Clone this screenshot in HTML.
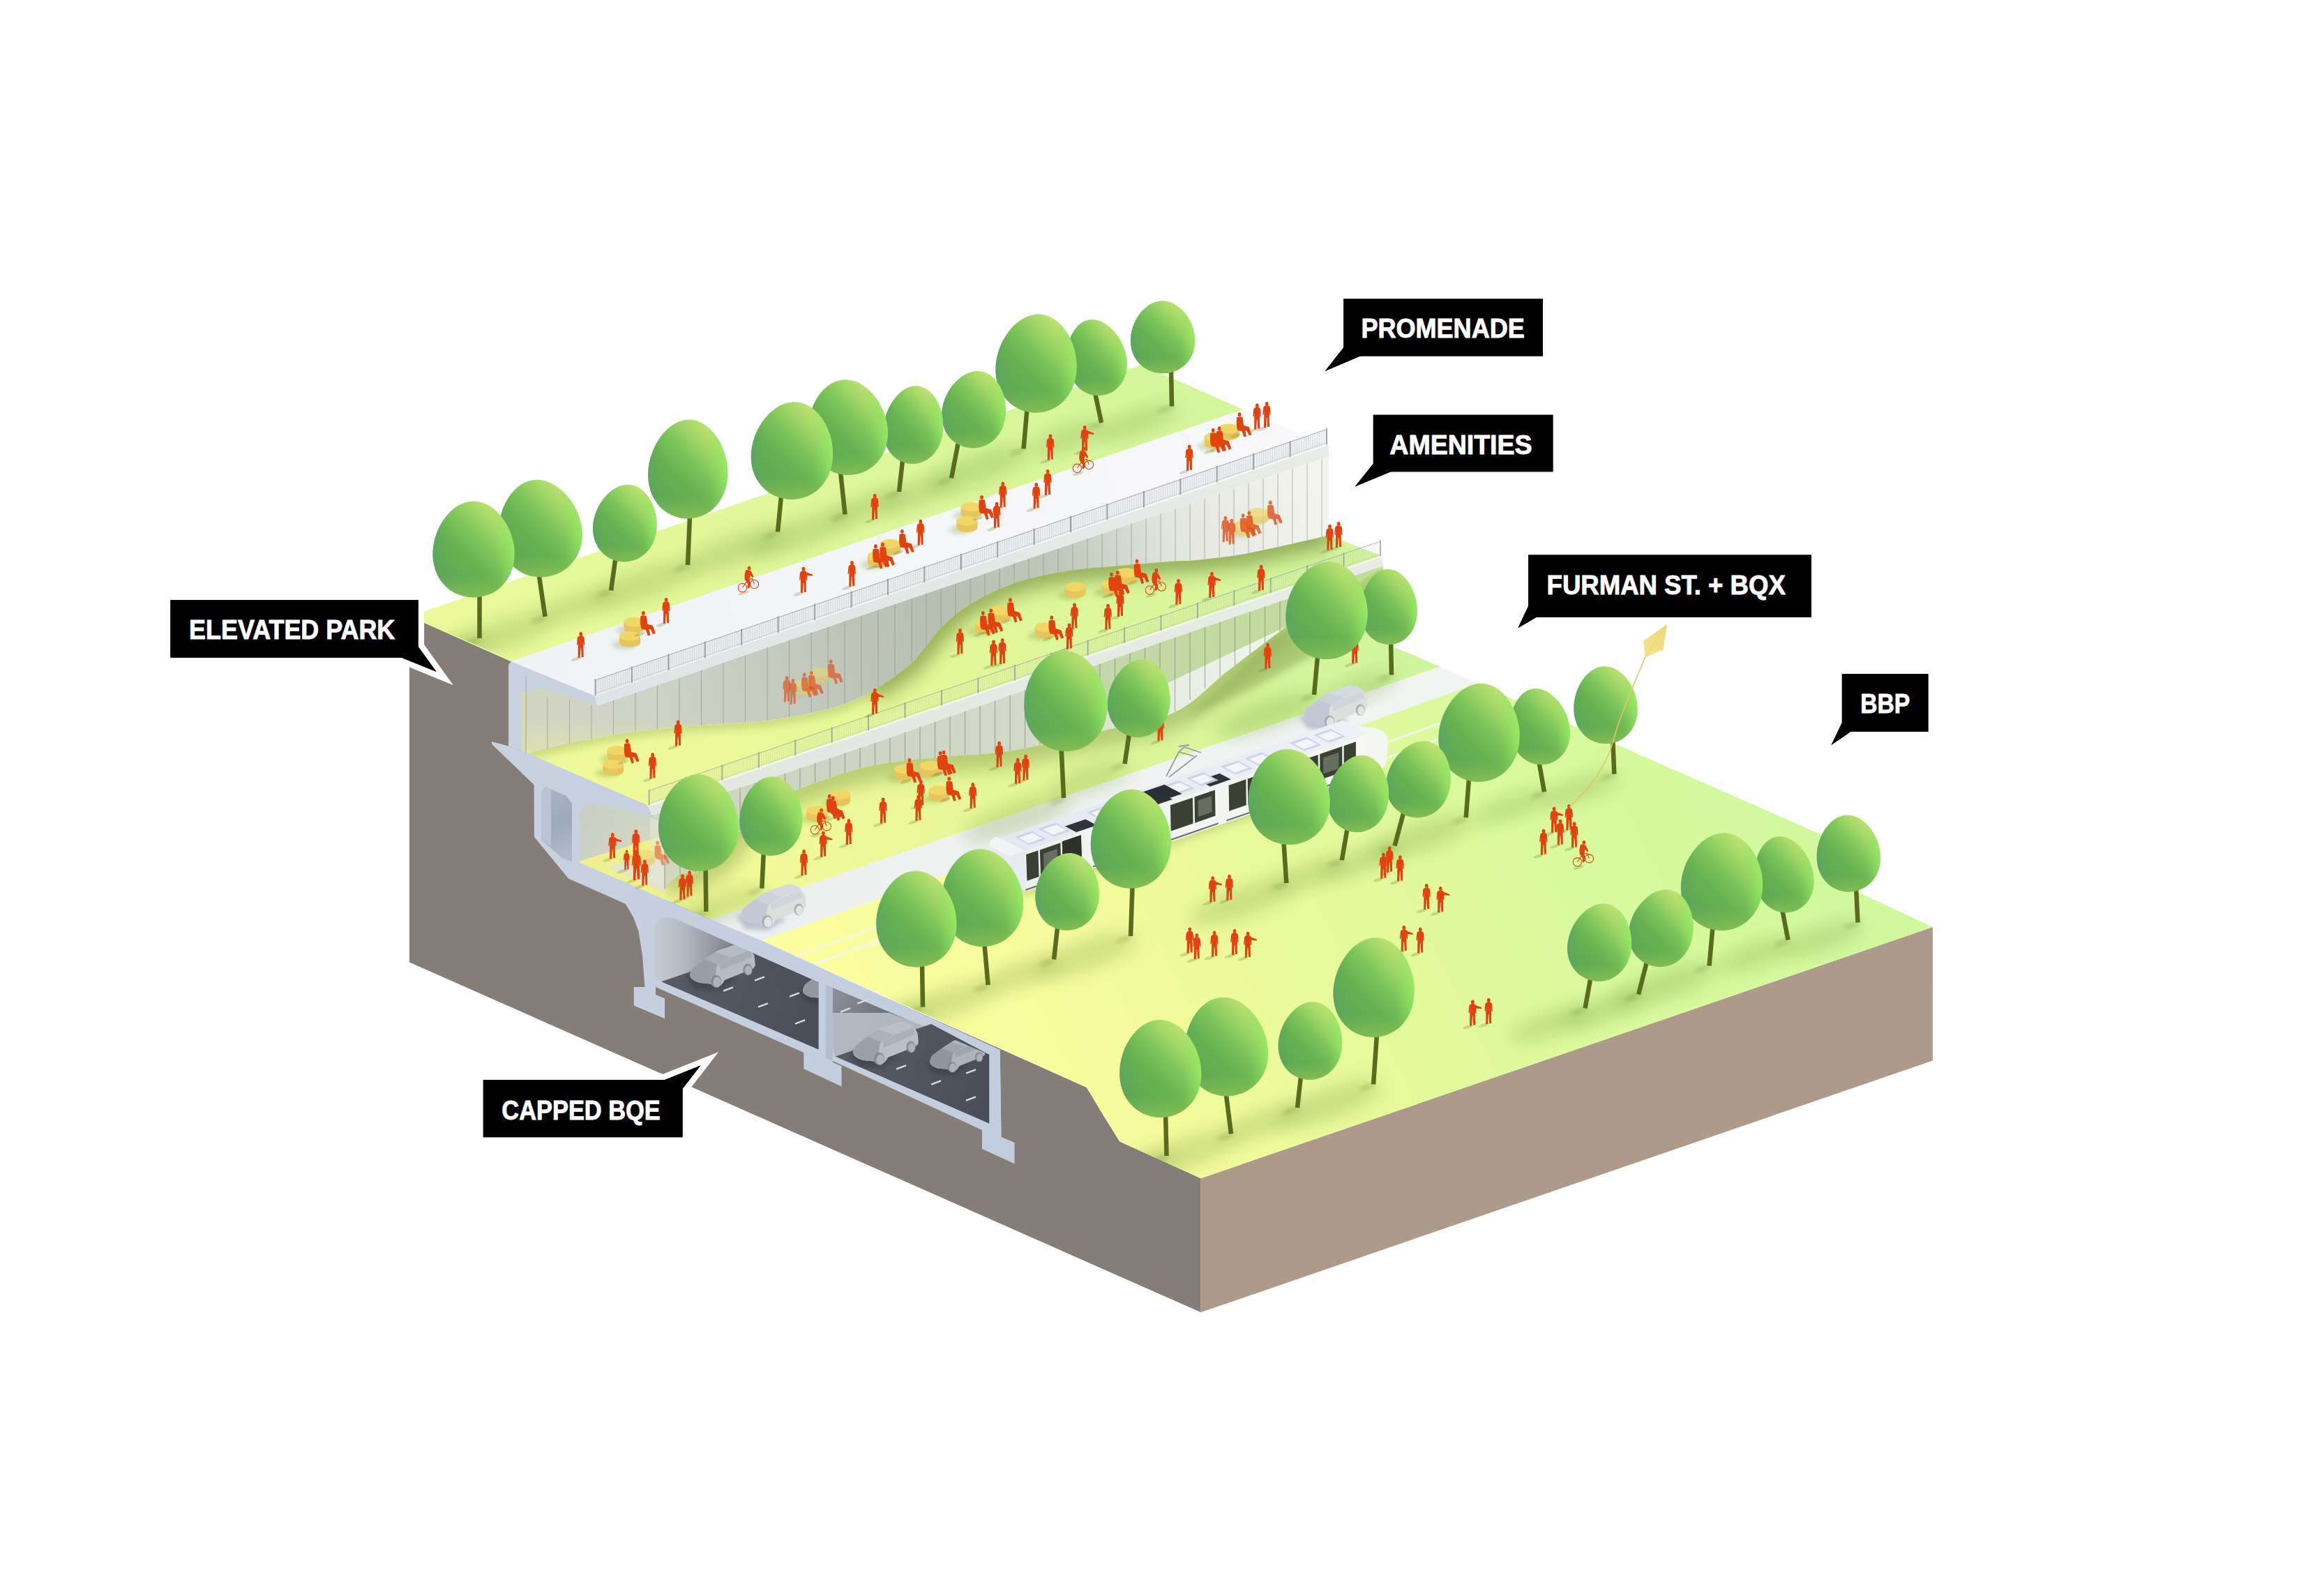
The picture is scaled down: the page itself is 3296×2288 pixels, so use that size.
<!DOCTYPE html><html><head><meta charset="utf-8"><title>Section</title><style>html,body{margin:0;padding:0;background:#fff;}svg{display:block;}text{font-family:"Liberation Sans",sans-serif;font-weight:bold;fill:#fff;}</style></head><body><svg width="3296" height="2288" viewBox="0 0 3296 2288"><defs><filter id="blur6" x="-50%" y="-50%" width="200%" height="200%"><feGaussianBlur stdDeviation="6"/></filter><filter id="blur3" x="-50%" y="-50%" width="200%" height="200%"><feGaussianBlur stdDeviation="3"/></filter><filter id="blur12" x="-50%" y="-50%" width="200%" height="200%"><feGaussianBlur stdDeviation="12"/></filter><linearGradient id="tree" x1="0.12" y1="0.88" x2="0.8" y2="0.08"><stop offset="0" stop-color="#5fa654"/><stop offset="0.38" stop-color="#67b152"/><stop offset="0.6" stop-color="#7cc35a"/><stop offset="0.82" stop-color="#a4d868"/><stop offset="1" stop-color="#c3e374"/></linearGradient><linearGradient id="treerim" x1="0" y1="0.55" x2="1" y2="0.45"><stop offset="0" stop-color="#5c9f72" stop-opacity="0.55"/><stop offset="0.22" stop-color="#5fae50" stop-opacity="0"/><stop offset="0.76" stop-color="#7fe05a" stop-opacity="0"/><stop offset="1" stop-color="#96ec64" stop-opacity="0.8"/></linearGradient><linearGradient id="treebot" x1="0" y1="0" x2="0" y2="1"><stop offset="0.78" stop-color="#9ccc52" stop-opacity="0"/><stop offset="1" stop-color="#a2d056" stop-opacity="0.5"/></linearGradient><linearGradient id="gTop" x1="600.0" y1="900.0" x2="1750.0" y2="560.0" gradientUnits="userSpaceOnUse"><stop offset="0" stop-color="#ecf99a"/><stop offset="0.45" stop-color="#e0f79b"/><stop offset="1" stop-color="#d3f59c"/></linearGradient><linearGradient id="gDeck" x1="733.0" y1="980.0" x2="1900.0" y2="600.0" gradientUnits="userSpaceOnUse"><stop offset="0" stop-color="#f1f2f6"/><stop offset="0.5" stop-color="#f5f6f8"/><stop offset="1" stop-color="#f9f9fa"/></linearGradient><linearGradient id="gGlass1" x1="760.0" y1="1000.0" x2="1905.0" y2="700.0" gradientUnits="userSpaceOnUse"><stop offset="0" stop-color="#d2d5c2"/><stop offset="0.12" stop-color="#cfd3c8"/><stop offset="0.3" stop-color="#c5cabe"/><stop offset="0.5" stop-color="#b6bfb1"/><stop offset="0.66" stop-color="#bec7b9"/><stop offset="0.8" stop-color="#e3e6de"/><stop offset="1" stop-color="#f5f5f0"/></linearGradient><linearGradient id="gTint" x1="0.0" y1="1030.0" x2="0.0" y2="1085.0" gradientUnits="userSpaceOnUse"><stop offset="0" stop-color="#e9ee9c" stop-opacity="0"/><stop offset="1" stop-color="#e9ee9c" stop-opacity="0.55"/></linearGradient><clipPath id="cG1"><path d="M756.8,1080.8 C766.0,1078.5 790.4,1071.8 812.3,1067.0 C834.2,1062.2 862.8,1055.8 888.0,1051.8 C913.2,1047.8 938.5,1045.3 963.7,1043.0 C988.9,1040.7 1016.6,1039.7 1039.3,1038.0 C1062.0,1036.3 1083.2,1034.9 1100.0,1033.0 C1116.8,1031.1 1123.2,1030.0 1140.0,1026.6 C1156.8,1023.2 1182.4,1018.9 1201.0,1012.8 C1219.6,1006.7 1234.6,999.7 1251.4,990.0 C1268.2,980.3 1289.2,965.3 1301.8,954.8 C1314.4,944.3 1318.6,936.7 1327.0,927.0 C1335.4,917.3 1341.8,906.9 1352.3,896.8 C1362.8,886.7 1373.2,876.6 1390.0,866.5 C1406.8,856.4 1429.8,844.2 1453.0,836.2 C1476.2,828.2 1503.7,822.8 1529.0,818.6 C1554.3,814.4 1579.4,813.3 1604.6,811.0 C1629.8,808.7 1661.5,806.0 1680.0,804.7 C1698.5,803.4 1697.1,805.0 1715.7,803.0 C1734.3,801.0 1759.9,798.7 1791.4,792.8 C1823.0,786.9 1886.1,771.8 1905.0,767.6 L1905.4,654 L856.4,1011.5 L812,995 L782,987 L765,987.5 L748,992 L748,1077 Z"/></clipPath><linearGradient id="gT2" x1="760.0" y1="1150.0" x2="1980.0" y2="780.0" gradientUnits="userSpaceOnUse"><stop offset="0" stop-color="#f0f99a"/><stop offset="0.4" stop-color="#e6f898"/><stop offset="0.7" stop-color="#dbf69b"/><stop offset="1" stop-color="#d2f59c"/></linearGradient><clipPath id="cT2"><path d="M756.8,1080.8 C766.0,1078.5 790.4,1071.8 812.3,1067.0 C834.2,1062.2 862.8,1055.8 888.0,1051.8 C913.2,1047.8 938.5,1045.3 963.7,1043.0 C988.9,1040.7 1016.6,1039.7 1039.3,1038.0 C1062.0,1036.3 1083.2,1034.9 1100.0,1033.0 C1116.8,1031.1 1123.2,1030.0 1140.0,1026.6 C1156.8,1023.2 1182.4,1018.9 1201.0,1012.8 C1219.6,1006.7 1234.6,999.7 1251.4,990.0 C1268.2,980.3 1289.2,965.3 1301.8,954.8 C1314.4,944.3 1318.6,936.7 1327.0,927.0 C1335.4,917.3 1341.8,906.9 1352.3,896.8 C1362.8,886.7 1373.2,876.6 1390.0,866.5 C1406.8,856.4 1429.8,844.2 1453.0,836.2 C1476.2,828.2 1503.7,822.8 1529.0,818.6 C1554.3,814.4 1579.4,813.3 1604.6,811.0 C1629.8,808.7 1661.5,806.0 1680.0,804.7 C1698.5,803.4 1697.1,805.0 1715.7,803.0 C1734.3,801.0 1759.9,798.7 1791.4,792.8 C1823.0,786.9 1886.1,771.8 1905.0,767.6 L1981,797 L928.3,1155 Z"/></clipPath><linearGradient id="gSlab" x1="850.0" y1="1000.0" x2="1905.0" y2="640.0" gradientUnits="userSpaceOnUse"><stop offset="0" stop-color="#dfe5e6"/><stop offset="1" stop-color="#e8ece6"/></linearGradient><linearGradient id="gGlass2" x1="930.0" y1="1200.0" x2="1850.0" y2="850.0" gradientUnits="userSpaceOnUse"><stop offset="0" stop-color="#d3d7c0" stop-opacity="1"/><stop offset="0.3" stop-color="#cbd1c0" stop-opacity="0.95"/><stop offset="0.6" stop-color="#ccd4c1" stop-opacity="0.85"/><stop offset="0.75" stop-color="#cdd6c2" stop-opacity="0.5"/><stop offset="1" stop-color="#d6dfca" stop-opacity="0.3"/></linearGradient><linearGradient id="gT3" x1="960.0" y1="1300.0" x2="2060.0" y2="930.0" gradientUnits="userSpaceOnUse"><stop offset="0" stop-color="#f6fb9a"/><stop offset="0.3" stop-color="#ebf899"/><stop offset="0.55" stop-color="#e0f69a"/><stop offset="0.8" stop-color="#d6f59c"/><stop offset="1" stop-color="#cef49e"/></linearGradient><clipPath id="cT3"><path d="M953.0,1274.0 C955.0,1272.0 960.8,1265.5 965.0,1262.0 C969.2,1258.5 972.2,1255.0 978.0,1253.0 C983.8,1251.0 991.3,1253.5 1000.0,1250.0 C1008.7,1246.5 1020.3,1241.2 1030.0,1232.0 C1039.7,1222.8 1048.8,1207.0 1058.0,1195.0 C1067.2,1183.0 1074.7,1169.0 1085.0,1160.0 C1095.3,1151.0 1109.7,1145.9 1120.0,1141.0 C1130.3,1136.1 1138.0,1133.9 1146.6,1130.5 C1155.2,1127.1 1163.2,1123.7 1171.7,1120.7 C1180.2,1117.7 1188.4,1115.3 1197.4,1112.4 C1206.5,1109.5 1216.4,1106.0 1226.0,1103.3 C1235.6,1100.6 1242.9,1098.6 1255.2,1096.4 C1267.5,1094.2 1280.9,1092.2 1300.0,1090.0 C1319.1,1087.8 1345.3,1085.7 1370.0,1083.5 C1394.7,1081.3 1416.3,1081.8 1448.0,1076.6 C1479.7,1071.3 1521.0,1061.1 1560.0,1052.0 C1599.0,1042.9 1648.7,1037.0 1682.0,1022.0 C1715.3,1007.0 1733.1,982.6 1760.0,962.0 C1786.9,941.4 1829.7,909.2 1843.6,898.6 L1983,811 L1990,905 L1999.5,928 L2065,955.7 L1018,1317.8 L953,1289.5 Z"/></clipPath><linearGradient id="gSlab2" x1="930.0" y1="1160.0" x2="1983.0" y2="800.0" gradientUnits="userSpaceOnUse"><stop offset="0" stop-color="#e2e7e2"/><stop offset="1" stop-color="#e8ece4"/></linearGradient><linearGradient id="gStreet" x1="1020.0" y1="1330.0" x2="2100.0" y2="960.0" gradientUnits="userSpaceOnUse"><stop offset="0" stop-color="#ecefef"/><stop offset="1" stop-color="#f3f5f3"/></linearGradient><linearGradient id="gPark" x1="1300.0" y1="1650.0" x2="2500.0" y2="1050.0" gradientUnits="userSpaceOnUse"><stop offset="0" stop-color="#fbfd9f"/><stop offset="0.25" stop-color="#f5fb9c"/><stop offset="0.45" stop-color="#e9f99b"/><stop offset="0.7" stop-color="#dcf99d"/><stop offset="1" stop-color="#d2f89e"/></linearGradient><clipPath id="ground"><polygon points="1092.3,1348.5 2118.0,979.7 2610.0,1196.0 2658.0,1217.0 2664.0,1279.0 2770.8,1328.9 1721.6,1689.2 1605.3,1636.6 1581.6,1598.4 1557.9,1558.9"/><polygon points="587.0,883.5 1637.0,523.0 1904.0,638.0 852.6,997.6"/><polygon points="1018.0,1317.8 2065.0,955.7 2118.0,979.7 1092.3,1348.5"/><path d="M756.8,1080.8 C766.0,1078.5 790.4,1071.8 812.3,1067.0 C834.2,1062.2 862.8,1055.8 888.0,1051.8 C913.2,1047.8 938.5,1045.3 963.7,1043.0 C988.9,1040.7 1016.6,1039.7 1039.3,1038.0 C1062.0,1036.3 1083.2,1034.9 1100.0,1033.0 C1116.8,1031.1 1123.2,1030.0 1140.0,1026.6 C1156.8,1023.2 1182.4,1018.9 1201.0,1012.8 C1219.6,1006.7 1234.6,999.7 1251.4,990.0 C1268.2,980.3 1289.2,965.3 1301.8,954.8 C1314.4,944.3 1318.6,936.7 1327.0,927.0 C1335.4,917.3 1341.8,906.9 1352.3,896.8 C1362.8,886.7 1373.2,876.6 1390.0,866.5 C1406.8,856.4 1429.8,844.2 1453.0,836.2 C1476.2,828.2 1503.7,822.8 1529.0,818.6 C1554.3,814.4 1579.4,813.3 1604.6,811.0 C1629.8,808.7 1661.5,806.0 1680.0,804.7 C1698.5,803.4 1697.1,805.0 1715.7,803.0 C1734.3,801.0 1759.9,798.7 1791.4,792.8 C1823.0,786.9 1886.1,771.8 1905.0,767.6 L1981,797 L928.3,1155 Z"/><path d="M953.0,1274.0 C955.0,1272.0 960.8,1265.5 965.0,1262.0 C969.2,1258.5 972.2,1255.0 978.0,1253.0 C983.8,1251.0 991.3,1253.5 1000.0,1250.0 C1008.7,1246.5 1020.3,1241.2 1030.0,1232.0 C1039.7,1222.8 1048.8,1207.0 1058.0,1195.0 C1067.2,1183.0 1074.7,1169.0 1085.0,1160.0 C1095.3,1151.0 1109.7,1145.9 1120.0,1141.0 C1130.3,1136.1 1138.0,1133.9 1146.6,1130.5 C1155.2,1127.1 1163.2,1123.7 1171.7,1120.7 C1180.2,1117.7 1188.4,1115.3 1197.4,1112.4 C1206.5,1109.5 1216.4,1106.0 1226.0,1103.3 C1235.6,1100.6 1242.9,1098.6 1255.2,1096.4 C1267.5,1094.2 1280.9,1092.2 1300.0,1090.0 C1319.1,1087.8 1345.3,1085.7 1370.0,1083.5 C1394.7,1081.3 1416.3,1081.8 1448.0,1076.6 C1479.7,1071.3 1521.0,1061.1 1560.0,1052.0 C1599.0,1042.9 1648.7,1037.0 1682.0,1022.0 C1715.3,1007.0 1733.1,982.6 1760.0,962.0 C1786.9,941.4 1829.7,909.2 1843.6,898.6 L1983,811 L1990,905 L1999.5,928 L2065,955.7 L1018,1317.8 L953,1289.5 Z"/></clipPath><linearGradient id="gConc" x1="700.0" y1="950.0" x2="1450.0" y2="1650.0" gradientUnits="userSpaceOnUse"><stop offset="0" stop-color="#c9d2e1"/><stop offset="0.5" stop-color="#c5cfdf"/><stop offset="1" stop-color="#c2cddd"/></linearGradient><linearGradient id="gCell" x1="775.0" y1="1130.0" x2="820.0" y2="1235.0" gradientUnits="userSpaceOnUse"><stop offset="0" stop-color="#aab4c6"/><stop offset="0.5" stop-color="#9ea9bc"/><stop offset="1" stop-color="#b4bece"/></linearGradient><linearGradient id="gRoom" x1="831.0" y1="1150.0" x2="952.0" y2="1230.0" gradientUnits="userSpaceOnUse"><stop offset="0" stop-color="#c9cec6"/><stop offset="0.6" stop-color="#d0d4c4"/><stop offset="1" stop-color="#d9dbbd"/></linearGradient><linearGradient id="gTun1" x1="938.0" y1="1360.0" x2="1100.0" y2="1360.0" gradientUnits="userSpaceOnUse"><stop offset="0" stop-color="#c6ccd5"/><stop offset="0.25" stop-color="#b4bac4"/><stop offset="0.6" stop-color="#8a8f99"/><stop offset="1" stop-color="#5a5e68"/></linearGradient><clipPath id="cTun1"><path d="M937.8,1400 L937.8,1336 Q938,1318 952,1315.5 Q962,1314 975.7,1320.3 L1173.7,1408.6 L1173.7,1504.4 L948,1407.3 Z"/></clipPath><linearGradient id="gRoad1" x1="950.0" y1="1400.0" x2="1170.0" y2="1480.0" gradientUnits="userSpaceOnUse"><stop offset="0" stop-color="#585c66"/><stop offset="1" stop-color="#4a4e58"/></linearGradient><linearGradient id="gTun2" x1="1190.0" y1="1410.0" x2="1420.0" y2="1520.0" gradientUnits="userSpaceOnUse"><stop offset="0" stop-color="#8d929b"/><stop offset="0.4" stop-color="#6a6e78"/><stop offset="1" stop-color="#50545e"/></linearGradient><clipPath id="cTun2"><polygon points="1193.9,1416.0 1418.4,1512.0 1418.4,1610.4 1197.7,1514.5 1193.9,1500.0"/></clipPath><linearGradient id="gRoad2" x1="1200.0" y1="1510.0" x2="1420.0" y2="1600.0" gradientUnits="userSpaceOnUse"><stop offset="0" stop-color="#585c66"/><stop offset="1" stop-color="#494d57"/></linearGradient><pattern id="bal" width="3.2" height="10" patternUnits="userSpaceOnUse"><rect x="0" y="0" width="0.8" height="10" fill="#82878e"/></pattern><linearGradient id="gTramSide" x1="1470.0" y1="1250.0" x2="1960.0" y2="1080.0" gradientUnits="userSpaceOnUse"><stop offset="0" stop-color="#eef0ee"/><stop offset="1" stop-color="#f7f8f4"/></linearGradient><linearGradient id="gTramRoof" x1="1440.0" y1="1200.0" x2="1960.0" y2="1040.0" gradientUnits="userSpaceOnUse"><stop offset="0" stop-color="#e4e8f2"/><stop offset="1" stop-color="#eef1f6"/></linearGradient><linearGradient id="gKite" x1="2356.0" y1="940.0" x2="2390.0" y2="896.0" gradientUnits="userSpaceOnUse"><stop offset="0" stop-color="#f5e38f"/><stop offset="1" stop-color="#efd774"/></linearGradient></defs><polygon points="1721.6,1689.2 2770.8,1328.9 2770.8,1520.5 1721.6,1881.3" fill="#ad9a8b" />
<polygon points="587.0,883.5 733.0,948.3 928.0,1155.0 1018.0,1317.8 1557.9,1558.9 1581.6,1598.4 1605.3,1636.6 1721.6,1689.2 1721.6,1881.3 587.0,1379.5" fill="#857d78" />
<polygon points="587.0,883.5 1637.0,523.0 1782.0,587.0 733.0,948.3" fill="url(#gTop)" />
<polygon points="733.0,948.3 1782.0,587.0 1904.0,638.0 852.6,997.6" fill="url(#gDeck)" />
<path d="M756.8,1080.8 C766.0,1078.5 790.4,1071.8 812.3,1067.0 C834.2,1062.2 862.8,1055.8 888.0,1051.8 C913.2,1047.8 938.5,1045.3 963.7,1043.0 C988.9,1040.7 1016.6,1039.7 1039.3,1038.0 C1062.0,1036.3 1083.2,1034.9 1100.0,1033.0 C1116.8,1031.1 1123.2,1030.0 1140.0,1026.6 C1156.8,1023.2 1182.4,1018.9 1201.0,1012.8 C1219.6,1006.7 1234.6,999.7 1251.4,990.0 C1268.2,980.3 1289.2,965.3 1301.8,954.8 C1314.4,944.3 1318.6,936.7 1327.0,927.0 C1335.4,917.3 1341.8,906.9 1352.3,896.8 C1362.8,886.7 1373.2,876.6 1390.0,866.5 C1406.8,856.4 1429.8,844.2 1453.0,836.2 C1476.2,828.2 1503.7,822.8 1529.0,818.6 C1554.3,814.4 1579.4,813.3 1604.6,811.0 C1629.8,808.7 1661.5,806.0 1680.0,804.7 C1698.5,803.4 1697.1,805.0 1715.7,803.0 C1734.3,801.0 1759.9,798.7 1791.4,792.8 C1823.0,786.9 1886.1,771.8 1905.0,767.6 L1905.4,654 L856.4,1011.5 L812,995 L782,987 L765,987.5 L748,992 L748,1077 Z" fill="url(#gGlass1)" />
<g clip-path="url(#cG1)"><polygon points="748.0,1000.0 1120.0,990.0 1120.0,1100.0 748.0,1100.0" fill="url(#gTint)"/></g>
<path d="M756.8,1080.8 C766.0,1078.5 790.4,1071.8 812.3,1067.0 C834.2,1062.2 862.8,1055.8 888.0,1051.8 C913.2,1047.8 938.5,1045.3 963.7,1043.0 C988.9,1040.7 1016.6,1039.7 1039.3,1038.0 C1062.0,1036.3 1083.2,1034.9 1100.0,1033.0 C1116.8,1031.1 1123.2,1030.0 1140.0,1026.6 C1156.8,1023.2 1182.4,1018.9 1201.0,1012.8 C1219.6,1006.7 1234.6,999.7 1251.4,990.0 C1268.2,980.3 1289.2,965.3 1301.8,954.8 C1314.4,944.3 1318.6,936.7 1327.0,927.0 C1335.4,917.3 1341.8,906.9 1352.3,896.8 C1362.8,886.7 1373.2,876.6 1390.0,866.5 C1406.8,856.4 1429.8,844.2 1453.0,836.2 C1476.2,828.2 1503.7,822.8 1529.0,818.6 C1554.3,814.4 1579.4,813.3 1604.6,811.0 C1629.8,808.7 1661.5,806.0 1680.0,804.7 C1698.5,803.4 1697.1,805.0 1715.7,803.0 C1734.3,801.0 1759.9,798.7 1791.4,792.8 C1823.0,786.9 1886.1,771.8 1905.0,767.6 L1981,797 L928.3,1155 Z" fill="url(#gT2)" />
<g clip-path="url(#cT2)"><path d="M1251.4,990.0 C1259.8,984.1 1289.2,965.3 1301.8,954.8 C1314.4,944.3 1318.6,936.7 1327.0,927.0 C1335.4,917.3 1341.8,906.9 1352.3,896.8 C1362.8,886.7 1373.2,876.6 1390.0,866.5 C1406.8,856.4 1429.8,844.2 1453.0,836.2 C1476.2,828.2 1503.7,822.8 1529.0,818.6 C1554.3,814.4 1579.4,813.3 1604.6,811.0 C1629.8,808.7 1661.5,806.0 1680.0,804.7 C1698.5,803.4 1697.1,805.0 1715.7,803.0 C1734.3,801.0 1759.9,798.7 1791.4,792.8 C1823.0,786.9 1886.1,771.8 1905.0,767.6" fill="none" stroke="#7f9a48" stroke-width="40" opacity="0.6" filter="url(#blur12)"/><path d="M756.8,1080.8 C766.0,1078.5 790.4,1071.8 812.3,1067.0 C834.2,1062.2 862.8,1055.8 888.0,1051.8 C913.2,1047.8 938.5,1045.3 963.7,1043.0 C988.9,1040.7 1016.6,1039.7 1039.3,1038.0 C1062.0,1036.3 1083.2,1034.9 1100.0,1033.0 C1116.8,1031.1 1123.2,1030.0 1140.0,1026.6 C1156.8,1023.2 1182.4,1018.9 1201.0,1012.8 C1219.6,1006.7 1234.6,999.7 1251.4,990.0 C1268.2,980.3 1289.2,965.3 1301.8,954.8 C1314.4,944.3 1318.6,936.7 1327.0,927.0 C1335.4,917.3 1341.8,906.9 1352.3,896.8 C1362.8,886.7 1373.2,876.6 1390.0,866.5 C1406.8,856.4 1429.8,844.2 1453.0,836.2 C1476.2,828.2 1503.7,822.8 1529.0,818.6 C1554.3,814.4 1579.4,813.3 1604.6,811.0 C1629.8,808.7 1661.5,806.0 1680.0,804.7 C1698.5,803.4 1697.1,805.0 1715.7,803.0 C1734.3,801.0 1759.9,798.7 1791.4,792.8 C1823.0,786.9 1886.1,771.8 1905.0,767.6" fill="none" stroke="#8aa350" stroke-width="16" opacity="0.35" filter="url(#blur6)"/></g>
<polygon points="852.6,997.6 1904.0,638.0 1905.4,654.0 856.4,1011.5" fill="url(#gSlab)" />
<polygon points="1500.0,1062.0 1843.6,898.6 1983.0,811.0 1616.0,937.5 1500.0,980.0" fill="#b9d98a" />
<path d="M953.0,1274.0 C955.0,1272.0 960.8,1265.5 965.0,1262.0 C969.2,1258.5 972.2,1255.0 978.0,1253.0 C983.8,1251.0 991.3,1253.5 1000.0,1250.0 C1008.7,1246.5 1020.3,1241.2 1030.0,1232.0 C1039.7,1222.8 1048.8,1207.0 1058.0,1195.0 C1067.2,1183.0 1074.7,1169.0 1085.0,1160.0 C1095.3,1151.0 1109.7,1145.9 1120.0,1141.0 C1130.3,1136.1 1138.0,1133.9 1146.6,1130.5 C1155.2,1127.1 1163.2,1123.7 1171.7,1120.7 C1180.2,1117.7 1188.4,1115.3 1197.4,1112.4 C1206.5,1109.5 1216.4,1106.0 1226.0,1103.3 C1235.6,1100.6 1242.9,1098.6 1255.2,1096.4 C1267.5,1094.2 1280.9,1092.2 1300.0,1090.0 C1319.1,1087.8 1345.3,1085.7 1370.0,1083.5 C1394.7,1081.3 1416.3,1081.8 1448.0,1076.6 C1479.7,1071.3 1521.0,1061.1 1560.0,1052.0 C1599.0,1042.9 1648.7,1037.0 1682.0,1022.0 C1715.3,1007.0 1733.1,982.6 1760.0,962.0 C1786.9,941.4 1829.7,909.2 1843.6,898.6 L1983.0,811.0 L1616.0,937.5 L1260.0,1063.0 L1111.8,1113.1 L1000.0,1148.3 L933.4,1169.0 Z" fill="url(#gGlass2)" />
<path d="M953.0,1274.0 C955.0,1272.0 960.8,1265.5 965.0,1262.0 C969.2,1258.5 972.2,1255.0 978.0,1253.0 C983.8,1251.0 991.3,1253.5 1000.0,1250.0 C1008.7,1246.5 1020.3,1241.2 1030.0,1232.0 C1039.7,1222.8 1048.8,1207.0 1058.0,1195.0 C1067.2,1183.0 1074.7,1169.0 1085.0,1160.0 C1095.3,1151.0 1109.7,1145.9 1120.0,1141.0 C1130.3,1136.1 1138.0,1133.9 1146.6,1130.5 C1155.2,1127.1 1163.2,1123.7 1171.7,1120.7 C1180.2,1117.7 1188.4,1115.3 1197.4,1112.4 C1206.5,1109.5 1216.4,1106.0 1226.0,1103.3 C1235.6,1100.6 1242.9,1098.6 1255.2,1096.4 C1267.5,1094.2 1280.9,1092.2 1300.0,1090.0 C1319.1,1087.8 1345.3,1085.7 1370.0,1083.5 C1394.7,1081.3 1416.3,1081.8 1448.0,1076.6 C1479.7,1071.3 1521.0,1061.1 1560.0,1052.0 C1599.0,1042.9 1648.7,1037.0 1682.0,1022.0 C1715.3,1007.0 1733.1,982.6 1760.0,962.0 C1786.9,941.4 1829.7,909.2 1843.6,898.6 L1983,811 L1990,905 L1999.5,928 L2065,955.7 L1018,1317.8 L953,1289.5 Z" fill="url(#gT3)" />
<g clip-path="url(#cT3)"><path d="M953.0,1274.0 C955.0,1272.0 960.8,1265.5 965.0,1262.0 C969.2,1258.5 972.2,1255.0 978.0,1253.0 C983.8,1251.0 991.3,1253.5 1000.0,1250.0 C1008.7,1246.5 1020.3,1241.2 1030.0,1232.0 C1039.7,1222.8 1048.8,1207.0 1058.0,1195.0 C1067.2,1183.0 1074.7,1169.0 1085.0,1160.0 C1095.3,1151.0 1109.7,1145.9 1120.0,1141.0 C1130.3,1136.1 1138.0,1133.9 1146.6,1130.5 C1155.2,1127.1 1163.2,1123.7 1171.7,1120.7 C1180.2,1117.7 1188.4,1115.3 1197.4,1112.4 C1206.5,1109.5 1216.4,1106.0 1226.0,1103.3 C1235.6,1100.6 1242.9,1098.6 1255.2,1096.4 C1267.5,1094.2 1280.9,1092.2 1300.0,1090.0 C1319.1,1087.8 1345.3,1085.7 1370.0,1083.5 C1394.7,1081.3 1416.3,1081.8 1448.0,1076.6 C1479.7,1071.3 1521.0,1061.1 1560.0,1052.0 C1599.0,1042.9 1648.7,1037.0 1682.0,1022.0 C1715.3,1007.0 1733.1,982.6 1760.0,962.0 C1786.9,941.4 1829.7,909.2 1843.6,898.6" fill="none" stroke="#7f9a48" stroke-width="46" opacity="0.45" filter="url(#blur12)"/><polygon points="1843.6,898.6 1983.0,811.0 1990.0,880.0 1800.0,985.0 1700.0,1030.0" fill="#86a04c" opacity="0.5" filter="url(#blur6)"/></g>
<polygon points="928.3,1155.0 1981.0,797.0 1983.0,811.0 1616.0,937.5 1260.0,1063.0 1111.8,1113.1 1000.0,1148.3 933.4,1169.0" fill="url(#gSlab2)" />
<line x1="928.3" y1="1155.6" x2="1981.0" y2="797.6" stroke="#f4f6f4" stroke-width="2.20" />
<polygon points="1018.0,1317.8 2065.0,955.7 2118.0,979.7 1092.3,1348.5" fill="url(#gStreet)" />
<polygon points="1092.3,1348.5 2118.0,979.7 2610.0,1196.0 2658.0,1217.0 2664.0,1279.0 2770.8,1328.9 1721.6,1689.2 1605.3,1636.6 1581.6,1598.4 1557.9,1558.9" fill="url(#gPark)" />
<polygon points="733.0,948.3 852.6,997.6 856.4,1011.5 812.0,996.0 782.0,988.0 765.0,988.5 748.0,993.0 748.0,1077.0 729.0,1069.5 729.0,953.0" fill="url(#gConc)" />
<polygon points="748.0,993.0 754.0,991.0 754.0,1079.0 748.0,1076.5" fill="#d6dcae" />
<line x1="754.0" y1="970.0" x2="754.0" y2="1079.0" stroke="#aab0a0" stroke-width="1.20" />
<polygon points="729.0,1069.5 705.0,1063.2 705.0,1066.8 765.6,1125.0 766.0,1200.0 815.0,1259.5 896.7,1295.8 908.0,1315.0 915.5,1335.0 921.0,1370.0 924.5,1415.0 908.8,1414.9 908.8,1441.4 953.0,1460.3 953.0,1431.3 940.0,1426.0 940.0,1415.0 1152.3,1509.0 1152.3,1532.2 1206.5,1557.4 1206.5,1528.4 1194.0,1523.0 1194.0,1521.0 1407.9,1620.0 1407.9,1647.1 1454.5,1668.2 1454.5,1637.9 1435.5,1630.0 1433.7,1505.0 1092.3,1348.5 1018.0,1317.8 953.0,1289.5 953.0,1180.0 933.4,1169.0 928.3,1155.0 757.0,1080.0" fill="url(#gConc)" />
<polygon points="776.0,1134.0 782.0,1128.0 812.0,1141.0 820.0,1152.0 820.0,1236.0 806.0,1230.0 776.0,1204.0" fill="url(#gCell)" />
<polygon points="776.0,1134.0 782.0,1128.0 790.0,1132.0 790.0,1214.0 776.0,1204.0" fill="#b9c3d3" />
<polygon points="830.0,1168.0 836.0,1157.0 850.0,1151.0 897.0,1161.0 932.0,1171.0 953.0,1180.0 953.0,1202.0 832.0,1236.0" fill="url(#gRoom)" />
<polygon points="832.0,1234.0 943.7,1200.3 953.0,1199.0 953.0,1289.5 830.0,1236.3" fill="#eff18e" />
<polygon points="870.0,1243.0 930.0,1226.0 953.0,1236.0 953.0,1280.0 935.0,1272.0" fill="#dfe3d8" opacity="0.8"/>
<polygon points="932.0,1171.0 953.0,1180.0 953.0,1274.0 934.0,1266.0" fill="#e4e8d8" opacity="0.55"/>
<line x1="953.0" y1="1180.0" x2="953.0" y2="1274.0" stroke="#a9ad9a" stroke-width="1.50" />
<path d="M937.8,1400 L937.8,1336 Q938,1318 952,1315.5 Q962,1314 975.7,1320.3 L1173.7,1408.6 L1173.7,1504.4 L948,1407.3 Z" fill="url(#gTun1)" />
<polygon points="948.0,1407.3 1074.4,1364.3 1173.7,1408.6 1173.7,1504.4" fill="url(#gRoad1)" />
<g clip-path="url(#cTun1)"><polygon points="1020.0,1370.0 1074.4,1350.0 1173.7,1400.0 1173.7,1430.0 1074.0,1380.0" fill="#4d515b" opacity="0.5" filter="url(#blur6)"/></g>
<polygon points="1193.9,1416.0 1418.4,1512.0 1418.4,1610.4 1197.7,1514.5 1193.9,1500.0" fill="url(#gTun2)" />
<polygon points="1193.9,1452.0 1275.0,1452.0 1335.0,1474.0 1197.7,1514.5 1193.9,1500.0" fill="#b9bec6" opacity="0.9"/>
<polygon points="1197.7,1514.5 1335.0,1468.0 1418.4,1512.0 1418.4,1610.4" fill="url(#gRoad2)" />
<line x1="1037.0" y1="1420.6" x2="1051.0" y2="1415.4" stroke="#d9dce0" stroke-width="2.20" />
<line x1="1082.0" y1="1405.6" x2="1096.0" y2="1400.4" stroke="#d9dce0" stroke-width="2.20" />
<line x1="1087.0" y1="1443.6" x2="1101.0" y2="1438.4" stroke="#d9dce0" stroke-width="2.20" />
<line x1="1132.0" y1="1428.6" x2="1146.0" y2="1423.4" stroke="#d9dce0" stroke-width="2.20" />
<line x1="1140.0" y1="1467.6" x2="1154.0" y2="1462.4" stroke="#d9dce0" stroke-width="2.20" />
<line x1="1285.0" y1="1532.6" x2="1299.0" y2="1527.4" stroke="#d9dce0" stroke-width="2.20" />
<line x1="1335.0" y1="1554.6" x2="1349.0" y2="1549.4" stroke="#d9dce0" stroke-width="2.20" />
<line x1="1385.0" y1="1577.6" x2="1399.0" y2="1572.4" stroke="#d9dce0" stroke-width="2.20" />
<line x1="1385.0" y1="1538.6" x2="1399.0" y2="1533.4" stroke="#d9dce0" stroke-width="2.20" />
<line x1="1205.0" y1="1450.6" x2="1219.0" y2="1445.4" stroke="#d9dce0" stroke-width="2.20" />
<line x1="1229.0" y1="1438.6" x2="1243.0" y2="1433.4" stroke="#d9dce0" stroke-width="2.20" />
<g clip-path="url(#cTun1)">
<g transform="translate(1035.0 1386.0) scale(1.000)" opacity="1.00"><path d="M-52,14 L-30,4 L20,18 L-8,34 L-40,32 Z" fill="#3a3e48" opacity="0.6" filter="url(#blur3)"/><path d="M-46,11 L-43.6,4.8 Q-43,2 -40,0 L-25.4,-11 L-10.1,-20.8 Q-4,-25 4,-26.5 L19,-31.7 Q26,-33 32.5,-30.5 Q41,-27 46.5,-16 L47.7,-3.7 Q48,0 44,3 L4,19 Q0,27 -6,29 Q-12,30 -16,24.5 L-31.5,23.1 Q-40,21 -44.9,15.8 Z" fill="#b7bcc4"/><path d="M-10.1,-20.8 Q-4,-25 4,-26.5 L19,-31.7 Q26,-33 32.5,-30.5 Q38,-28.5 41,-25 L12,-14 Z" fill="#b7bcc4"/><path d="M-46,11 L-43.6,4.8 Q-43,2 -40,0 L-25.4,-11 L-10.1,-20.8 L12,-14 L-6,-3 L-8,2 L-10,20 Q-13,25 -16,24.5 L-31.5,23.1 Q-40,21 -44.9,15.8 Z" fill="#989da7"/><path d="M-25.4,-11 L-10.1,-20.8 L12,-14 L-6,-3 Z" fill="#b7bcc4" opacity="0.55"/><path d="M-4,-3.5 L13,-13 L40,-23.5 L43,-14 L-2,5 Z" fill="#989da7" opacity="0.45"/><ellipse cx="-8.2" cy="21" rx="7.4" ry="9.2" fill="#7d828c" opacity="0.8"/><ellipse cx="37" cy="4" rx="6.6" ry="8.4" fill="#7d828c" opacity="0.8"/><ellipse cx="-7" cy="22" rx="5.6" ry="7.4" fill="#aeb3bb"/><ellipse cx="38" cy="5" rx="5" ry="6.8" fill="#aeb3bb"/></g>
<g transform="translate(1190.0 1410.0) scale(0.850)" opacity="1.00"><path d="M-52,14 L-30,4 L20,18 L-8,34 L-40,32 Z" fill="#3a3e48" opacity="0.6" filter="url(#blur3)"/><path d="M-46,11 L-43.6,4.8 Q-43,2 -40,0 L-25.4,-11 L-10.1,-20.8 Q-4,-25 4,-26.5 L19,-31.7 Q26,-33 32.5,-30.5 Q41,-27 46.5,-16 L47.7,-3.7 Q48,0 44,3 L4,19 Q0,27 -6,29 Q-12,30 -16,24.5 L-31.5,23.1 Q-40,21 -44.9,15.8 Z" fill="#b0b5be"/><path d="M-10.1,-20.8 Q-4,-25 4,-26.5 L19,-31.7 Q26,-33 32.5,-30.5 Q38,-28.5 41,-25 L12,-14 Z" fill="#b0b5be"/><path d="M-46,11 L-43.6,4.8 Q-43,2 -40,0 L-25.4,-11 L-10.1,-20.8 L12,-14 L-6,-3 L-8,2 L-10,20 Q-13,25 -16,24.5 L-31.5,23.1 Q-40,21 -44.9,15.8 Z" fill="#9297a1"/><path d="M-25.4,-11 L-10.1,-20.8 L12,-14 L-6,-3 Z" fill="#b0b5be" opacity="0.55"/><path d="M-4,-3.5 L13,-13 L40,-23.5 L43,-14 L-2,5 Z" fill="#9297a1" opacity="0.45"/><ellipse cx="-8.2" cy="21" rx="7.4" ry="9.2" fill="#7d828c" opacity="0.8"/><ellipse cx="37" cy="4" rx="6.6" ry="8.4" fill="#7d828c" opacity="0.8"/><ellipse cx="-7" cy="22" rx="5.6" ry="7.4" fill="#aeb3bb"/><ellipse cx="38" cy="5" rx="5" ry="6.8" fill="#aeb3bb"/></g>
</g><g clip-path="url(#cTun2)">
<g transform="translate(1269.0 1497.0) scale(1.000)" opacity="1.00"><path d="M-52,14 L-30,4 L20,18 L-8,34 L-40,32 Z" fill="#3a3e48" opacity="0.6" filter="url(#blur3)"/><path d="M-46,11 L-43.6,4.8 Q-43,2 -40,0 L-25.4,-11 L-10.1,-20.8 Q-4,-25 4,-26.5 L19,-31.7 Q26,-33 32.5,-30.5 Q41,-27 46.5,-16 L47.7,-3.7 Q48,0 44,3 L4,19 Q0,27 -6,29 Q-12,30 -16,24.5 L-31.5,23.1 Q-40,21 -44.9,15.8 Z" fill="#bbc0c7"/><path d="M-10.1,-20.8 Q-4,-25 4,-26.5 L19,-31.7 Q26,-33 32.5,-30.5 Q38,-28.5 41,-25 L12,-14 Z" fill="#bbc0c7"/><path d="M-46,11 L-43.6,4.8 Q-43,2 -40,0 L-25.4,-11 L-10.1,-20.8 L12,-14 L-6,-3 L-8,2 L-10,20 Q-13,25 -16,24.5 L-31.5,23.1 Q-40,21 -44.9,15.8 Z" fill="#9a9fa9"/><path d="M-25.4,-11 L-10.1,-20.8 L12,-14 L-6,-3 Z" fill="#bbc0c7" opacity="0.55"/><path d="M-4,-3.5 L13,-13 L40,-23.5 L43,-14 L-2,5 Z" fill="#9a9fa9" opacity="0.45"/><ellipse cx="-8.2" cy="21" rx="7.4" ry="9.2" fill="#7d828c" opacity="0.8"/><ellipse cx="37" cy="4" rx="6.6" ry="8.4" fill="#7d828c" opacity="0.8"/><ellipse cx="-7" cy="22" rx="5.6" ry="7.4" fill="#aeb3bb"/><ellipse cx="38" cy="5" rx="5" ry="6.8" fill="#aeb3bb"/></g>
<g transform="translate(1372.0 1512.0) scale(0.850)" opacity="1.00"><path d="M-52,14 L-30,4 L20,18 L-8,34 L-40,32 Z" fill="#3a3e48" opacity="0.6" filter="url(#blur3)"/><path d="M-46,11 L-43.6,4.8 Q-43,2 -40,0 L-25.4,-11 L-10.1,-20.8 Q-4,-25 4,-26.5 L19,-31.7 Q26,-33 32.5,-30.5 Q41,-27 46.5,-16 L47.7,-3.7 Q48,0 44,3 L4,19 Q0,27 -6,29 Q-12,30 -16,24.5 L-31.5,23.1 Q-40,21 -44.9,15.8 Z" fill="#aeb3bc"/><path d="M-10.1,-20.8 Q-4,-25 4,-26.5 L19,-31.7 Q26,-33 32.5,-30.5 Q38,-28.5 41,-25 L12,-14 Z" fill="#aeb3bc"/><path d="M-46,11 L-43.6,4.8 Q-43,2 -40,0 L-25.4,-11 L-10.1,-20.8 L12,-14 L-6,-3 L-8,2 L-10,20 Q-13,25 -16,24.5 L-31.5,23.1 Q-40,21 -44.9,15.8 Z" fill="#8f949e"/><path d="M-25.4,-11 L-10.1,-20.8 L12,-14 L-6,-3 Z" fill="#aeb3bc" opacity="0.55"/><path d="M-4,-3.5 L13,-13 L40,-23.5 L43,-14 L-2,5 Z" fill="#8f949e" opacity="0.45"/><ellipse cx="-8.2" cy="21" rx="7.4" ry="9.2" fill="#7d828c" opacity="0.8"/><ellipse cx="37" cy="4" rx="6.6" ry="8.4" fill="#7d828c" opacity="0.8"/><ellipse cx="-7" cy="22" rx="5.6" ry="7.4" fill="#aeb3bb"/><ellipse cx="38" cy="5" rx="5" ry="6.8" fill="#aeb3bb"/></g>
</g>
<polygon points="1173.7,1408.6 1183.8,1412.0 1183.8,1520.0 1173.7,1510.0" fill="url(#gConc)" />
<polygon points="1183.8,1412.0 1193.9,1416.0 1193.9,1521.0 1183.8,1517.0" fill="#b3bdcd" />
<polygon points="1418.4,1512.0 1433.7,1505.0 1435.5,1630.0 1418.4,1622.0" fill="url(#gConc)" />
<g clip-path="url(#ground)">
<ellipse cx="1624.2" cy="587.5" rx="62.8" ry="15.6" fill="#6f9a3a" opacity="0.26" filter="url(#blur12)" transform="rotate(-19 1680.0 582.5)"/>
<ellipse cx="1670.0" cy="583.5" rx="12.0" ry="3.0" fill="#6f8a30" opacity="0.35" filter="url(#blur3)" transform="rotate(-19 1680.0 582.5)"/>
<ellipse cx="1527.4" cy="611.0" rx="58.1" ry="16.5" fill="#6f9a3a" opacity="0.26" filter="url(#blur12)" transform="rotate(-19 1579.0 606.0)"/>
<ellipse cx="1569.0" cy="607.0" rx="12.0" ry="3.0" fill="#6f8a30" opacity="0.35" filter="url(#blur3)" transform="rotate(-19 1579.0 606.0)"/>
<ellipse cx="1397.3" cy="648.5" rx="79.0" ry="21.2" fill="#6f9a3a" opacity="0.26" filter="url(#blur12)" transform="rotate(-19 1467.5 643.5)"/>
<ellipse cx="1457.5" cy="644.5" rx="12.0" ry="3.0" fill="#6f8a30" opacity="0.35" filter="url(#blur3)" transform="rotate(-19 1467.5 643.5)"/>
<ellipse cx="1308.8" cy="690.5" rx="62.1" ry="16.6" fill="#6f9a3a" opacity="0.26" filter="url(#blur12)" transform="rotate(-19 1364.0 685.5)"/>
<ellipse cx="1354.0" cy="686.5" rx="12.0" ry="3.0" fill="#6f8a30" opacity="0.35" filter="url(#blur3)" transform="rotate(-19 1364.0 685.5)"/>
<ellipse cx="1237.4" cy="710.0" rx="58.1" ry="16.8" fill="#6f9a3a" opacity="0.26" filter="url(#blur12)" transform="rotate(-19 1289.0 705.0)"/>
<ellipse cx="1279.0" cy="706.0" rx="12.0" ry="3.0" fill="#6f8a30" opacity="0.35" filter="url(#blur3)" transform="rotate(-19 1289.0 705.0)"/>
<ellipse cx="1142.5" cy="742.5" rx="77.6" ry="20.6" fill="#6f9a3a" opacity="0.26" filter="url(#blur12)" transform="rotate(-19 1211.5 737.5)"/>
<ellipse cx="1201.5" cy="738.5" rx="12.0" ry="3.0" fill="#6f8a30" opacity="0.35" filter="url(#blur3)" transform="rotate(-19 1211.5 737.5)"/>
<ellipse cx="1044.2" cy="767.5" rx="79.7" ry="21.0" fill="#6f9a3a" opacity="0.26" filter="url(#blur12)" transform="rotate(-19 1115.0 762.5)"/>
<ellipse cx="1105.0" cy="763.5" rx="12.0" ry="3.0" fill="#6f8a30" opacity="0.35" filter="url(#blur3)" transform="rotate(-19 1115.0 762.5)"/>
<ellipse cx="917.0" cy="815.0" rx="77.6" ry="21.3" fill="#6f9a3a" opacity="0.26" filter="url(#blur12)" transform="rotate(-19 986.0 810.0)"/>
<ellipse cx="976.0" cy="811.0" rx="12.0" ry="3.0" fill="#6f8a30" opacity="0.35" filter="url(#blur3)" transform="rotate(-19 986.0 810.0)"/>
<ellipse cx="820.8" cy="851.5" rx="62.1" ry="16.6" fill="#6f9a3a" opacity="0.26" filter="url(#blur12)" transform="rotate(-19 876.0 846.5)"/>
<ellipse cx="866.0" cy="847.5" rx="12.0" ry="3.0" fill="#6f8a30" opacity="0.35" filter="url(#blur3)" transform="rotate(-19 876.0 846.5)"/>
<ellipse cx="709.5" cy="889.0" rx="81.0" ry="21.0" fill="#6f9a3a" opacity="0.26" filter="url(#blur12)" transform="rotate(-19 781.5 884.0)"/>
<ellipse cx="771.5" cy="885.0" rx="12.0" ry="3.0" fill="#6f8a30" opacity="0.35" filter="url(#blur3)" transform="rotate(-19 781.5 884.0)"/>
<ellipse cx="616.7" cy="920.0" rx="79.7" ry="20.7" fill="#6f9a3a" opacity="0.26" filter="url(#blur12)" transform="rotate(-19 687.5 915.0)"/>
<ellipse cx="677.5" cy="916.0" rx="12.0" ry="3.0" fill="#6f8a30" opacity="0.35" filter="url(#blur3)" transform="rotate(-19 687.5 915.0)"/>
<ellipse cx="1945.8" cy="972.5" rx="55.4" ry="16.2" fill="#6f9a3a" opacity="0.26" filter="url(#blur12)" transform="rotate(-19 1995.0 967.5)"/>
<ellipse cx="1985.0" cy="968.5" rx="12.0" ry="3.0" fill="#6f8a30" opacity="0.35" filter="url(#blur3)" transform="rotate(-19 1995.0 967.5)"/>
<ellipse cx="1813.2" cy="1001.0" rx="79.7" ry="21.0" fill="#6f9a3a" opacity="0.26" filter="url(#blur12)" transform="rotate(-19 1884.0 996.0)"/>
<ellipse cx="1874.0" cy="997.0" rx="12.0" ry="3.0" fill="#6f8a30" opacity="0.35" filter="url(#blur3)" transform="rotate(-19 1884.0 996.0)"/>
<ellipse cx="1558.5" cy="1100.0" rx="60.8" ry="16.8" fill="#6f9a3a" opacity="0.26" filter="url(#blur12)" transform="rotate(-19 1612.5 1095.0)"/>
<ellipse cx="1602.5" cy="1096.0" rx="12.0" ry="3.0" fill="#6f8a30" opacity="0.35" filter="url(#blur3)" transform="rotate(-19 1612.5 1095.0)"/>
<ellipse cx="2259.1" cy="1114.6" rx="62.1" ry="16.6" fill="#6f9a3a" opacity="0.26" filter="url(#blur12)" transform="rotate(-19 2314.3 1109.6)"/>
<ellipse cx="2304.3" cy="1110.6" rx="12.0" ry="3.0" fill="#6f8a30" opacity="0.35" filter="url(#blur3)" transform="rotate(-19 2314.3 1109.6)"/>
<ellipse cx="2162.4" cy="1140.3" rx="58.1" ry="16.5" fill="#6f9a3a" opacity="0.26" filter="url(#blur12)" transform="rotate(-19 2214.0 1135.3)"/>
<ellipse cx="2204.0" cy="1136.3" rx="12.0" ry="3.0" fill="#6f8a30" opacity="0.35" filter="url(#blur3)" transform="rotate(-19 2214.0 1135.3)"/>
<ellipse cx="1453.0" cy="1149.0" rx="81.0" ry="21.6" fill="#6f9a3a" opacity="0.26" filter="url(#blur12)" transform="rotate(-19 1525.0 1144.0)"/>
<ellipse cx="1515.0" cy="1145.0" rx="12.0" ry="3.0" fill="#6f8a30" opacity="0.35" filter="url(#blur3)" transform="rotate(-19 1525.0 1144.0)"/>
<ellipse cx="2031.5" cy="1177.0" rx="79.0" ry="21.2" fill="#6f9a3a" opacity="0.26" filter="url(#blur12)" transform="rotate(-19 2101.7 1172.0)"/>
<ellipse cx="2091.7" cy="1173.0" rx="12.0" ry="3.0" fill="#6f8a30" opacity="0.35" filter="url(#blur3)" transform="rotate(-19 2101.7 1172.0)"/>
<ellipse cx="1944.3" cy="1217.5" rx="62.1" ry="16.6" fill="#6f9a3a" opacity="0.26" filter="url(#blur12)" transform="rotate(-19 1999.5 1212.5)"/>
<ellipse cx="1989.5" cy="1213.5" rx="12.0" ry="3.0" fill="#6f8a30" opacity="0.35" filter="url(#blur3)" transform="rotate(-19 1999.5 1212.5)"/>
<ellipse cx="1871.0" cy="1238.2" rx="59.4" ry="16.6" fill="#6f9a3a" opacity="0.26" filter="url(#blur12)" transform="rotate(-19 1923.8 1233.2)"/>
<ellipse cx="1913.8" cy="1234.2" rx="12.0" ry="3.0" fill="#6f8a30" opacity="0.35" filter="url(#blur3)" transform="rotate(-19 1923.8 1233.2)"/>
<ellipse cx="1773.5" cy="1271.0" rx="79.7" ry="20.6" fill="#6f9a3a" opacity="0.26" filter="url(#blur12)" transform="rotate(-19 1844.3 1266.0)"/>
<ellipse cx="1834.3" cy="1267.0" rx="12.0" ry="3.0" fill="#6f8a30" opacity="0.35" filter="url(#blur3)" transform="rotate(-19 1844.3 1266.0)"/>
<ellipse cx="1037.8" cy="1278.6" rx="61.3" ry="17.0" fill="#6f9a3a" opacity="0.26" filter="url(#blur12)" transform="rotate(-19 1092.3 1273.6)"/>
<ellipse cx="1082.3" cy="1274.6" rx="12.0" ry="3.0" fill="#6f8a30" opacity="0.35" filter="url(#blur3)" transform="rotate(-19 1092.3 1273.6)"/>
<ellipse cx="942.7" cy="1311.9" rx="78.3" ry="20.8" fill="#6f9a3a" opacity="0.26" filter="url(#blur12)" transform="rotate(-19 1012.3 1306.9)"/>
<ellipse cx="1002.3" cy="1307.9" rx="12.0" ry="3.0" fill="#6f8a30" opacity="0.35" filter="url(#blur3)" transform="rotate(-19 1012.3 1306.9)"/>
<ellipse cx="2608.3" cy="1327.5" rx="62.1" ry="16.5" fill="#6f9a3a" opacity="0.26" filter="url(#blur12)" transform="rotate(-19 2663.5 1322.5)"/>
<ellipse cx="2653.5" cy="1323.5" rx="12.0" ry="3.0" fill="#6f8a30" opacity="0.35" filter="url(#blur3)" transform="rotate(-19 2663.5 1322.5)"/>
<ellipse cx="1551.4" cy="1347.0" rx="78.3" ry="21.3" fill="#6f9a3a" opacity="0.26" filter="url(#blur12)" transform="rotate(-19 1621.0 1342.0)"/>
<ellipse cx="1611.0" cy="1343.0" rx="12.0" ry="3.0" fill="#6f8a30" opacity="0.35" filter="url(#blur3)" transform="rotate(-19 1621.0 1342.0)"/>
<ellipse cx="2512.5" cy="1352.5" rx="57.4" ry="16.5" fill="#6f9a3a" opacity="0.26" filter="url(#blur12)" transform="rotate(-19 2563.5 1347.5)"/>
<ellipse cx="2553.5" cy="1348.5" rx="12.0" ry="3.0" fill="#6f8a30" opacity="0.35" filter="url(#blur3)" transform="rotate(-19 2563.5 1347.5)"/>
<ellipse cx="1455.8" cy="1380.4" rx="62.1" ry="16.6" fill="#6f9a3a" opacity="0.26" filter="url(#blur12)" transform="rotate(-19 1511.0 1375.4)"/>
<ellipse cx="1501.0" cy="1376.4" rx="12.0" ry="3.0" fill="#6f8a30" opacity="0.35" filter="url(#blur3)" transform="rotate(-19 1511.0 1375.4)"/>
<ellipse cx="2379.7" cy="1389.5" rx="79.7" ry="21.0" fill="#6f9a3a" opacity="0.26" filter="url(#blur12)" transform="rotate(-19 2450.5 1384.5)"/>
<ellipse cx="2440.5" cy="1385.5" rx="12.0" ry="3.0" fill="#6f8a30" opacity="0.35" filter="url(#blur3)" transform="rotate(-19 2450.5 1384.5)"/>
<ellipse cx="1345.8" cy="1417.0" rx="79.7" ry="21.0" fill="#6f9a3a" opacity="0.26" filter="url(#blur12)" transform="rotate(-19 1416.6 1412.0)"/>
<ellipse cx="1406.6" cy="1413.0" rx="12.0" ry="3.0" fill="#6f8a30" opacity="0.35" filter="url(#blur3)" transform="rotate(-19 1416.6 1412.0)"/>
<ellipse cx="2293.8" cy="1430.5" rx="62.1" ry="16.8" fill="#6f9a3a" opacity="0.26" filter="url(#blur12)" transform="rotate(-19 2349.0 1425.5)"/>
<ellipse cx="2339.0" cy="1426.5" rx="12.0" ry="3.0" fill="#6f8a30" opacity="0.35" filter="url(#blur3)" transform="rotate(-19 2349.0 1425.5)"/>
<ellipse cx="1253.4" cy="1448.6" rx="78.3" ry="20.7" fill="#6f9a3a" opacity="0.26" filter="url(#blur12)" transform="rotate(-19 1323.0 1443.6)"/>
<ellipse cx="1313.0" cy="1444.6" rx="12.0" ry="3.0" fill="#6f8a30" opacity="0.35" filter="url(#blur3)" transform="rotate(-19 1323.0 1443.6)"/>
<ellipse cx="2217.3" cy="1450.5" rx="62.1" ry="16.8" fill="#6f9a3a" opacity="0.26" filter="url(#blur12)" transform="rotate(-19 2272.5 1445.5)"/>
<ellipse cx="2262.5" cy="1446.5" rx="12.0" ry="3.0" fill="#6f8a30" opacity="0.35" filter="url(#blur3)" transform="rotate(-19 2272.5 1445.5)"/>
<ellipse cx="1898.8" cy="1559.5" rx="79.0" ry="21.4" fill="#6f9a3a" opacity="0.26" filter="url(#blur12)" transform="rotate(-19 1969.0 1554.5)"/>
<ellipse cx="1959.0" cy="1555.5" rx="12.0" ry="3.0" fill="#6f8a30" opacity="0.35" filter="url(#blur3)" transform="rotate(-19 1969.0 1554.5)"/>
<ellipse cx="1804.8" cy="1593.0" rx="62.1" ry="16.8" fill="#6f9a3a" opacity="0.26" filter="url(#blur12)" transform="rotate(-19 1860.0 1588.0)"/>
<ellipse cx="1850.0" cy="1589.0" rx="12.0" ry="3.0" fill="#6f8a30" opacity="0.35" filter="url(#blur3)" transform="rotate(-19 1860.0 1588.0)"/>
<ellipse cx="1693.0" cy="1630.5" rx="81.0" ry="21.3" fill="#6f9a3a" opacity="0.26" filter="url(#blur12)" transform="rotate(-19 1765.0 1625.5)"/>
<ellipse cx="1755.0" cy="1626.5" rx="12.0" ry="3.0" fill="#6f8a30" opacity="0.35" filter="url(#blur3)" transform="rotate(-19 1765.0 1625.5)"/>
<ellipse cx="1601.7" cy="1662.0" rx="79.7" ry="21.0" fill="#6f9a3a" opacity="0.26" filter="url(#blur12)" transform="rotate(-19 1672.5 1657.0)"/>
<ellipse cx="1662.5" cy="1658.0" rx="12.0" ry="3.0" fill="#6f8a30" opacity="0.35" filter="url(#blur3)" transform="rotate(-19 1672.5 1657.0)"/>
</g>
<line x1="1142.0" y1="1370.7" x2="2150.0" y2="1006.0" stroke="#f4f6ee" stroke-width="3.00" opacity="0.9"/>
<line x1="1167.4" y1="1382.0" x2="2178.0" y2="1018.0" stroke="#f4f6ee" stroke-width="3.00" opacity="0.9"/>
<line x1="785.0" y1="998.7" x2="785.0" y2="1073.8" stroke="#859080" stroke-width="1.10" opacity="0.55"/>
<line x1="816.5" y1="1004.3" x2="816.5" y2="1066.2" stroke="#859080" stroke-width="1.10" opacity="0.55"/>
<line x1="848.0" y1="1010.0" x2="848.0" y2="1059.8" stroke="#859080" stroke-width="1.10" opacity="0.55"/>
<line x1="879.5" y1="1003.6" x2="879.5" y2="1053.5" stroke="#859080" stroke-width="1.10" opacity="0.55"/>
<line x1="911.0" y1="992.9" x2="911.0" y2="1049.1" stroke="#859080" stroke-width="1.10" opacity="0.55"/>
<line x1="942.5" y1="982.2" x2="942.5" y2="1045.5" stroke="#859080" stroke-width="1.10" opacity="0.55"/>
<line x1="974.0" y1="971.4" x2="974.0" y2="1042.3" stroke="#859080" stroke-width="1.10" opacity="0.55"/>
<line x1="1005.5" y1="960.7" x2="1005.5" y2="1040.2" stroke="#859080" stroke-width="1.10" opacity="0.55"/>
<line x1="1037.0" y1="950.0" x2="1037.0" y2="1038.2" stroke="#859080" stroke-width="1.10" opacity="0.55"/>
<line x1="1068.5" y1="939.2" x2="1068.5" y2="1035.6" stroke="#859080" stroke-width="1.10" opacity="0.55"/>
<line x1="1100.0" y1="928.5" x2="1100.0" y2="1033.0" stroke="#859080" stroke-width="1.10" opacity="0.55"/>
<line x1="1131.5" y1="917.7" x2="1131.5" y2="1028.0" stroke="#859080" stroke-width="1.10" opacity="0.55"/>
<line x1="1163.0" y1="907.0" x2="1163.0" y2="1021.4" stroke="#859080" stroke-width="1.10" opacity="0.55"/>
<line x1="1187.0" y1="898.8" x2="1187.0" y2="1016.0" stroke="#859080" stroke-width="1.10" opacity="0.55"/>
<line x1="1211.0" y1="890.7" x2="1211.0" y2="1008.3" stroke="#859080" stroke-width="1.10" opacity="0.55"/>
<line x1="1235.0" y1="882.5" x2="1235.0" y2="997.4" stroke="#859080" stroke-width="1.10" opacity="0.55"/>
<line x1="1259.0" y1="874.3" x2="1259.0" y2="984.7" stroke="#859080" stroke-width="1.10" opacity="0.55"/>
<line x1="1283.0" y1="866.1" x2="1283.0" y2="967.9" stroke="#859080" stroke-width="1.10" opacity="0.55"/>
<line x1="1307.0" y1="857.9" x2="1307.0" y2="949.1" stroke="#859080" stroke-width="1.10" opacity="0.55"/>
<line x1="1328.0" y1="850.8" x2="1328.0" y2="925.8" stroke="#859080" stroke-width="1.10" opacity="0.55"/>
<line x1="1349.0" y1="843.6" x2="1349.0" y2="900.7" stroke="#859080" stroke-width="1.10" opacity="0.55"/>
<line x1="1370.0" y1="836.5" x2="1370.0" y2="882.6" stroke="#859080" stroke-width="1.10" opacity="0.55"/>
<line x1="1391.0" y1="829.3" x2="1391.0" y2="866.0" stroke="#859080" stroke-width="1.10" opacity="0.55"/>
<line x1="1412.0" y1="822.2" x2="1412.0" y2="855.9" stroke="#859080" stroke-width="1.10" opacity="0.55"/>
<line x1="1433.0" y1="815.0" x2="1433.0" y2="845.8" stroke="#859080" stroke-width="1.10" opacity="0.55"/>
<line x1="1454.0" y1="807.8" x2="1454.0" y2="836.0" stroke="#859080" stroke-width="1.10" opacity="0.55"/>
<line x1="1475.0" y1="800.7" x2="1475.0" y2="831.1" stroke="#859080" stroke-width="1.10" opacity="0.55"/>
<line x1="1496.0" y1="793.5" x2="1496.0" y2="826.2" stroke="#859080" stroke-width="1.10" opacity="0.55"/>
<line x1="1517.0" y1="786.4" x2="1517.0" y2="821.4" stroke="#859080" stroke-width="1.10" opacity="0.55"/>
<line x1="1538.0" y1="779.2" x2="1538.0" y2="817.7" stroke="#859080" stroke-width="1.10" opacity="0.55"/>
<line x1="1559.0" y1="772.1" x2="1559.0" y2="815.6" stroke="#859080" stroke-width="1.10" opacity="0.55"/>
<line x1="1580.0" y1="764.9" x2="1580.0" y2="813.5" stroke="#859080" stroke-width="1.10" opacity="0.55"/>
<line x1="1601.0" y1="757.7" x2="1601.0" y2="811.4" stroke="#859080" stroke-width="1.10" opacity="0.55"/>
<line x1="1622.0" y1="750.6" x2="1622.0" y2="809.5" stroke="#859080" stroke-width="1.10" opacity="0.55"/>
<line x1="1643.0" y1="743.4" x2="1643.0" y2="807.8" stroke="#859080" stroke-width="1.10" opacity="0.55"/>
<line x1="1664.0" y1="736.3" x2="1664.0" y2="806.0" stroke="#859080" stroke-width="1.10" opacity="0.55"/>
<line x1="1685.0" y1="729.1" x2="1685.0" y2="804.5" stroke="#859080" stroke-width="1.10" opacity="0.55"/>
<line x1="1706.0" y1="722.0" x2="1706.0" y2="803.5" stroke="#859080" stroke-width="1.10" opacity="0.55"/>
<line x1="1727.0" y1="714.8" x2="1727.0" y2="801.5" stroke="#859080" stroke-width="1.10" opacity="0.55"/>
<line x1="1748.0" y1="707.6" x2="1748.0" y2="798.6" stroke="#859080" stroke-width="1.10" opacity="0.55"/>
<line x1="1769.0" y1="700.5" x2="1769.0" y2="795.8" stroke="#859080" stroke-width="1.10" opacity="0.55"/>
<line x1="1790.0" y1="693.3" x2="1790.0" y2="793.0" stroke="#859080" stroke-width="1.10" opacity="0.55"/>
<line x1="1811.0" y1="686.2" x2="1811.0" y2="788.5" stroke="#859080" stroke-width="1.10" opacity="0.55"/>
<line x1="1832.0" y1="679.0" x2="1832.0" y2="783.8" stroke="#859080" stroke-width="1.10" opacity="0.55"/>
<line x1="1853.0" y1="671.9" x2="1853.0" y2="779.1" stroke="#859080" stroke-width="1.10" opacity="0.55"/>
<line x1="1874.0" y1="664.7" x2="1874.0" y2="774.5" stroke="#859080" stroke-width="1.10" opacity="0.55"/>
<line x1="1895.0" y1="657.5" x2="1895.0" y2="769.8" stroke="#859080" stroke-width="1.10" opacity="0.55"/>
<line x1="975.0" y1="1156.1" x2="975.0" y2="1255.1" stroke="#7f8a7a" stroke-width="1.30" opacity="0.6"/>
<line x1="996.5" y1="1149.4" x2="996.5" y2="1250.5" stroke="#7f8a7a" stroke-width="1.30" opacity="0.6"/>
<line x1="1018.0" y1="1142.6" x2="1018.0" y2="1239.2" stroke="#7f8a7a" stroke-width="1.30" opacity="0.6"/>
<line x1="1039.5" y1="1135.9" x2="1039.5" y2="1219.4" stroke="#7f8a7a" stroke-width="1.30" opacity="0.6"/>
<line x1="1061.0" y1="1129.1" x2="1061.0" y2="1191.1" stroke="#7f8a7a" stroke-width="1.30" opacity="0.6"/>
<line x1="1082.5" y1="1122.3" x2="1082.5" y2="1163.2" stroke="#7f8a7a" stroke-width="1.30" opacity="0.6"/>
<line x1="1104.0" y1="1115.6" x2="1104.0" y2="1149.7" stroke="#7f8a7a" stroke-width="1.30" opacity="0.6"/>
<line x1="1125.5" y1="1108.5" x2="1125.5" y2="1138.8" stroke="#7f8a7a" stroke-width="1.30" opacity="0.6"/>
<line x1="1147.0" y1="1101.2" x2="1147.0" y2="1130.3" stroke="#7f8a7a" stroke-width="1.30" opacity="0.6"/>
<line x1="1168.5" y1="1093.9" x2="1168.5" y2="1121.9" stroke="#7f8a7a" stroke-width="1.30" opacity="0.6"/>
<line x1="1190.0" y1="1086.7" x2="1190.0" y2="1114.8" stroke="#7f8a7a" stroke-width="1.30" opacity="0.6"/>
<line x1="1211.5" y1="1079.4" x2="1211.5" y2="1107.9" stroke="#7f8a7a" stroke-width="1.30" opacity="0.6"/>
<line x1="1233.0" y1="1072.1" x2="1233.0" y2="1101.6" stroke="#7f8a7a" stroke-width="1.30" opacity="0.6"/>
<line x1="1254.5" y1="1064.9" x2="1254.5" y2="1096.6" stroke="#7f8a7a" stroke-width="1.30" opacity="0.6"/>
<line x1="1276.0" y1="1057.4" x2="1276.0" y2="1093.4" stroke="#7f8a7a" stroke-width="1.30" opacity="0.6"/>
<line x1="1297.5" y1="1049.8" x2="1297.5" y2="1090.4" stroke="#7f8a7a" stroke-width="1.30" opacity="0.6"/>
<line x1="1319.0" y1="1042.2" x2="1319.0" y2="1088.2" stroke="#7f8a7a" stroke-width="1.30" opacity="0.6"/>
<line x1="1340.5" y1="1034.6" x2="1340.5" y2="1086.2" stroke="#7f8a7a" stroke-width="1.30" opacity="0.6"/>
<line x1="1362.0" y1="1027.0" x2="1362.0" y2="1084.2" stroke="#7f8a7a" stroke-width="1.30" opacity="0.6"/>
<line x1="1383.5" y1="1019.5" x2="1383.5" y2="1082.3" stroke="#7f8a7a" stroke-width="1.30" opacity="0.6"/>
<line x1="1405.0" y1="1011.9" x2="1405.0" y2="1080.4" stroke="#7f8a7a" stroke-width="1.30" opacity="0.6"/>
<line x1="1426.5" y1="1004.3" x2="1426.5" y2="1078.5" stroke="#7f8a7a" stroke-width="1.30" opacity="0.6"/>
<line x1="1448.0" y1="996.7" x2="1448.0" y2="1076.6" stroke="#7f8a7a" stroke-width="1.30" opacity="0.6"/>
<line x1="1469.5" y1="989.1" x2="1469.5" y2="1071.9" stroke="#7f8a7a" stroke-width="1.30" opacity="0.6"/>
<line x1="1491.0" y1="981.6" x2="1491.0" y2="1067.2" stroke="#7f8a7a" stroke-width="1.30" opacity="0.6"/>
<line x1="1512.5" y1="974.0" x2="1512.5" y2="1062.4" stroke="#7f8a7a" stroke-width="1.30" opacity="0.6"/>
<line x1="1534.0" y1="966.4" x2="1534.0" y2="1057.7" stroke="#7f8a7a" stroke-width="1.30" opacity="0.6"/>
<line x1="1555.5" y1="958.8" x2="1555.5" y2="1053.0" stroke="#7f8a7a" stroke-width="1.30" opacity="0.6"/>
<line x1="1577.0" y1="951.2" x2="1577.0" y2="1047.8" stroke="#7f8a7a" stroke-width="1.30" opacity="0.6"/>
<line x1="1598.5" y1="943.7" x2="1598.5" y2="1042.5" stroke="#7f8a7a" stroke-width="1.30" opacity="0.6"/>
<line x1="1620.0" y1="936.1" x2="1620.0" y2="1037.2" stroke="#7f8a7a" stroke-width="1.30" opacity="0.6"/>
<line x1="1641.5" y1="928.7" x2="1641.5" y2="1032.0" stroke="#7f8a7a" stroke-width="1.30" opacity="0.6"/>
<line x1="1663.0" y1="921.3" x2="1663.0" y2="1026.7" stroke="#7f8a7a" stroke-width="1.30" opacity="0.6"/>
<line x1="1684.5" y1="913.9" x2="1684.5" y2="1020.1" stroke="#7f8a7a" stroke-width="1.30" opacity="0.6"/>
<line x1="1706.0" y1="906.5" x2="1706.0" y2="1003.5" stroke="#7f8a7a" stroke-width="1.30" opacity="0.6"/>
<line x1="1727.5" y1="899.1" x2="1727.5" y2="987.0" stroke="#7f8a7a" stroke-width="1.30" opacity="0.6"/>
<line x1="1749.0" y1="891.7" x2="1749.0" y2="970.5" stroke="#7f8a7a" stroke-width="1.30" opacity="0.6"/>
<line x1="1770.5" y1="884.2" x2="1770.5" y2="954.0" stroke="#7f8a7a" stroke-width="1.30" opacity="0.6"/>
<line x1="1792.0" y1="876.8" x2="1792.0" y2="937.7" stroke="#7f8a7a" stroke-width="1.30" opacity="0.6"/>
<line x1="1813.5" y1="869.4" x2="1813.5" y2="921.4" stroke="#7f8a7a" stroke-width="1.30" opacity="0.6"/>
<line x1="1835.0" y1="862.0" x2="1835.0" y2="905.1" stroke="#7f8a7a" stroke-width="1.30" opacity="0.6"/>
<polygon points="853.5,996.0 1902.0,636.5 1902.0,615.5 853.5,975.0" fill="#c4c8cc" opacity="0.18"/>
<polygon points="853.5,996.0 1902.0,636.5 1902.0,615.5 853.5,975.0" fill="url(#bal)" opacity="0.26"/>
<line x1="853.5" y1="975.0" x2="1902.0" y2="615.5" stroke="#9a9fa5" stroke-width="1.00" opacity="0.90"/>
<line x1="853.5" y1="994.3" x2="1902.0" y2="634.8" stroke="#a9aeb3" stroke-width="0.80" opacity="0.63"/>
<line x1="853.5" y1="997.0" x2="853.5" y2="973.5" stroke="#8d9298" stroke-width="1.80" opacity="0.90"/>
<line x1="905.9" y1="979.0" x2="905.9" y2="955.5" stroke="#8d9298" stroke-width="1.80" opacity="0.90"/>
<line x1="958.4" y1="961.0" x2="958.4" y2="937.5" stroke="#8d9298" stroke-width="1.80" opacity="0.90"/>
<line x1="1010.8" y1="943.1" x2="1010.8" y2="919.6" stroke="#8d9298" stroke-width="1.80" opacity="0.90"/>
<line x1="1063.2" y1="925.1" x2="1063.2" y2="901.6" stroke="#8d9298" stroke-width="1.80" opacity="0.90"/>
<line x1="1115.6" y1="907.1" x2="1115.6" y2="883.6" stroke="#8d9298" stroke-width="1.80" opacity="0.90"/>
<line x1="1168.0" y1="889.1" x2="1168.0" y2="865.6" stroke="#8d9298" stroke-width="1.80" opacity="0.90"/>
<line x1="1220.5" y1="871.2" x2="1220.5" y2="847.7" stroke="#8d9298" stroke-width="1.80" opacity="0.90"/>
<line x1="1272.9" y1="853.2" x2="1272.9" y2="829.7" stroke="#8d9298" stroke-width="1.80" opacity="0.90"/>
<line x1="1325.3" y1="835.2" x2="1325.3" y2="811.7" stroke="#8d9298" stroke-width="1.80" opacity="0.90"/>
<line x1="1377.8" y1="817.2" x2="1377.8" y2="793.8" stroke="#8d9298" stroke-width="1.80" opacity="0.90"/>
<line x1="1430.2" y1="799.3" x2="1430.2" y2="775.8" stroke="#8d9298" stroke-width="1.80" opacity="0.90"/>
<line x1="1482.6" y1="781.3" x2="1482.6" y2="757.8" stroke="#8d9298" stroke-width="1.80" opacity="0.90"/>
<line x1="1535.0" y1="763.3" x2="1535.0" y2="739.8" stroke="#8d9298" stroke-width="1.80" opacity="0.90"/>
<line x1="1587.4" y1="745.4" x2="1587.4" y2="721.9" stroke="#8d9298" stroke-width="1.80" opacity="0.90"/>
<line x1="1639.9" y1="727.4" x2="1639.9" y2="703.9" stroke="#8d9298" stroke-width="1.80" opacity="0.90"/>
<line x1="1692.3" y1="709.4" x2="1692.3" y2="685.9" stroke="#8d9298" stroke-width="1.80" opacity="0.90"/>
<line x1="1744.7" y1="691.4" x2="1744.7" y2="667.9" stroke="#8d9298" stroke-width="1.80" opacity="0.90"/>
<line x1="1797.2" y1="673.5" x2="1797.2" y2="650.0" stroke="#8d9298" stroke-width="1.80" opacity="0.90"/>
<line x1="1849.6" y1="655.5" x2="1849.6" y2="632.0" stroke="#8d9298" stroke-width="1.80" opacity="0.90"/>
<line x1="1902.0" y1="637.5" x2="1902.0" y2="614.0" stroke="#8d9298" stroke-width="1.80" opacity="0.90"/>
<polygon points="930.5,1153.5 1979.0,796.0 1979.0,776.0 930.5,1133.5" fill="#c4c8cc" opacity="0.08"/>
<polygon points="930.5,1153.5 1979.0,796.0 1979.0,776.0 930.5,1133.5" fill="url(#bal)" opacity="0.11"/>
<line x1="930.5" y1="1133.5" x2="1979.0" y2="776.0" stroke="#9a9fa5" stroke-width="1.00" opacity="0.75"/>
<line x1="930.5" y1="1151.9" x2="1979.0" y2="794.4" stroke="#a9aeb3" stroke-width="0.80" opacity="0.52"/>
<line x1="930.5" y1="1154.5" x2="930.5" y2="1132.0" stroke="#8d9298" stroke-width="1.80" opacity="0.75"/>
<line x1="982.9" y1="1136.6" x2="982.9" y2="1114.1" stroke="#8d9298" stroke-width="1.80" opacity="0.75"/>
<line x1="1035.3" y1="1118.8" x2="1035.3" y2="1096.2" stroke="#8d9298" stroke-width="1.80" opacity="0.75"/>
<line x1="1087.8" y1="1100.9" x2="1087.8" y2="1078.4" stroke="#8d9298" stroke-width="1.80" opacity="0.75"/>
<line x1="1140.2" y1="1083.0" x2="1140.2" y2="1060.5" stroke="#8d9298" stroke-width="1.80" opacity="0.75"/>
<line x1="1192.6" y1="1065.1" x2="1192.6" y2="1042.6" stroke="#8d9298" stroke-width="1.80" opacity="0.75"/>
<line x1="1245.0" y1="1047.2" x2="1245.0" y2="1024.8" stroke="#8d9298" stroke-width="1.80" opacity="0.75"/>
<line x1="1297.5" y1="1029.4" x2="1297.5" y2="1006.9" stroke="#8d9298" stroke-width="1.80" opacity="0.75"/>
<line x1="1349.9" y1="1011.5" x2="1349.9" y2="989.0" stroke="#8d9298" stroke-width="1.80" opacity="0.75"/>
<line x1="1402.3" y1="993.6" x2="1402.3" y2="971.1" stroke="#8d9298" stroke-width="1.80" opacity="0.75"/>
<line x1="1454.8" y1="975.8" x2="1454.8" y2="953.2" stroke="#8d9298" stroke-width="1.80" opacity="0.75"/>
<line x1="1507.2" y1="957.9" x2="1507.2" y2="935.4" stroke="#8d9298" stroke-width="1.80" opacity="0.75"/>
<line x1="1559.6" y1="940.0" x2="1559.6" y2="917.5" stroke="#8d9298" stroke-width="1.80" opacity="0.75"/>
<line x1="1612.0" y1="922.1" x2="1612.0" y2="899.6" stroke="#8d9298" stroke-width="1.80" opacity="0.75"/>
<line x1="1664.4" y1="904.2" x2="1664.4" y2="881.8" stroke="#8d9298" stroke-width="1.80" opacity="0.75"/>
<line x1="1716.9" y1="886.4" x2="1716.9" y2="863.9" stroke="#8d9298" stroke-width="1.80" opacity="0.75"/>
<line x1="1769.3" y1="868.5" x2="1769.3" y2="846.0" stroke="#8d9298" stroke-width="1.80" opacity="0.75"/>
<line x1="1821.7" y1="850.6" x2="1821.7" y2="828.1" stroke="#8d9298" stroke-width="1.80" opacity="0.75"/>
<line x1="1874.2" y1="832.8" x2="1874.2" y2="810.2" stroke="#8d9298" stroke-width="1.80" opacity="0.75"/>
<line x1="1926.6" y1="814.9" x2="1926.6" y2="792.4" stroke="#8d9298" stroke-width="1.80" opacity="0.75"/>
<line x1="1979.0" y1="797.0" x2="1979.0" y2="774.5" stroke="#8d9298" stroke-width="1.80" opacity="0.75"/>
<g opacity="1.00"><ellipse cx="900.4" cy="904.1" rx="16.5" ry="6.1" fill="#8aa04a" opacity="0.35" filter="url(#blur3)"/><path d="M894.4,891.6 L894.4,901.1 A15.0,6.8 0 0 0 924.4,901.1 L924.4,891.6 Z" fill="#e6c65c"/><ellipse cx="909.4" cy="891.6" rx="15.0" ry="6.8" fill="#f2d766"/></g>
<g opacity="1.00"><ellipse cx="894.0" cy="924.3" rx="16.5" ry="6.1" fill="#8aa04a" opacity="0.35" filter="url(#blur3)"/><path d="M888.0,911.8 L888.0,921.3 A15.0,6.8 0 0 0 918.0,921.3 L918.0,911.8 Z" fill="#e6c65c"/><ellipse cx="903.0" cy="911.8" rx="15.0" ry="6.8" fill="#f2d766"/></g>
<g opacity="1.00"><ellipse cx="1383.6" cy="739.0" rx="16.5" ry="6.1" fill="#8aa04a" opacity="0.35" filter="url(#blur3)"/><path d="M1377.6,726.5 L1377.6,736.0 A15.0,6.8 0 0 0 1407.6,736.0 L1407.6,726.5 Z" fill="#e6c65c"/><ellipse cx="1392.6" cy="726.5" rx="15.0" ry="6.8" fill="#f2d766"/></g>
<g opacity="1.00"><ellipse cx="1377.3" cy="759.2" rx="16.5" ry="6.1" fill="#8aa04a" opacity="0.35" filter="url(#blur3)"/><path d="M1371.3,746.7 L1371.3,756.2 A15.0,6.8 0 0 0 1401.3,756.2 L1401.3,746.7 Z" fill="#e6c65c"/><ellipse cx="1386.3" cy="746.7" rx="15.0" ry="6.8" fill="#f2d766"/></g>
<g opacity="1.00"><ellipse cx="1267.6" cy="792.0" rx="16.5" ry="6.1" fill="#8aa04a" opacity="0.35" filter="url(#blur3)"/><path d="M1261.6,779.5 L1261.6,789.0 A15.0,6.8 0 0 0 1291.6,789.0 L1291.6,779.5 Z" fill="#e6c65c"/><ellipse cx="1276.6" cy="779.5" rx="15.0" ry="6.8" fill="#f2d766"/></g>
<g opacity="1.00"><ellipse cx="1249.9" cy="809.6" rx="16.5" ry="6.1" fill="#8aa04a" opacity="0.35" filter="url(#blur3)"/><path d="M1243.9,797.1 L1243.9,806.6 A15.0,6.8 0 0 0 1273.9,806.6 L1273.9,797.1 Z" fill="#e6c65c"/><ellipse cx="1258.9" cy="797.1" rx="15.0" ry="6.8" fill="#f2d766"/></g>
<g opacity="1.00"><ellipse cx="1752.7" cy="626.9" rx="16.5" ry="6.1" fill="#8aa04a" opacity="0.35" filter="url(#blur3)"/><path d="M1746.7,614.4 L1746.7,623.9 A15.0,6.8 0 0 0 1776.7,623.9 L1776.7,614.4 Z" fill="#e6c65c"/><ellipse cx="1761.7" cy="614.4" rx="15.0" ry="6.8" fill="#f2d766"/></g>
<g opacity="1.00"><ellipse cx="1732.5" cy="639.5" rx="16.5" ry="6.1" fill="#8aa04a" opacity="0.35" filter="url(#blur3)"/><path d="M1726.5,627.0 L1726.5,636.5 A15.0,6.8 0 0 0 1756.5,636.5 L1756.5,627.0 Z" fill="#e6c65c"/><ellipse cx="1741.5" cy="627.0" rx="15.0" ry="6.8" fill="#f2d766"/></g>
<g opacity="1.00"><ellipse cx="1532.5" cy="853.8" rx="16.5" ry="6.1" fill="#8aa04a" opacity="0.35" filter="url(#blur3)"/><path d="M1526.5,841.3 L1526.5,850.8 A15.0,6.8 0 0 0 1556.5,850.8 L1556.5,841.3 Z" fill="#e6c65c"/><ellipse cx="1541.5" cy="841.3" rx="15.0" ry="6.8" fill="#f2d766"/></g>
<g opacity="1.00"><ellipse cx="1605.7" cy="833.6" rx="16.5" ry="6.1" fill="#8aa04a" opacity="0.35" filter="url(#blur3)"/><path d="M1599.7,821.1 L1599.7,830.6 A15.0,6.8 0 0 0 1629.7,830.6 L1629.7,821.1 Z" fill="#e6c65c"/><ellipse cx="1614.7" cy="821.1" rx="15.0" ry="6.8" fill="#f2d766"/></g>
<g opacity="1.00"><ellipse cx="1585.5" cy="850.0" rx="16.5" ry="6.1" fill="#8aa04a" opacity="0.35" filter="url(#blur3)"/><path d="M1579.5,837.5 L1579.5,847.0 A15.0,6.8 0 0 0 1609.5,847.0 L1609.5,837.5 Z" fill="#e6c65c"/><ellipse cx="1594.5" cy="837.5" rx="15.0" ry="6.8" fill="#f2d766"/></g>
<g opacity="1.00"><ellipse cx="1425.3" cy="887.8" rx="16.5" ry="6.1" fill="#8aa04a" opacity="0.35" filter="url(#blur3)"/><path d="M1419.3,875.3 L1419.3,884.8 A15.0,6.8 0 0 0 1449.3,884.8 L1449.3,875.3 Z" fill="#e6c65c"/><ellipse cx="1434.3" cy="875.3" rx="15.0" ry="6.8" fill="#f2d766"/></g>
<g opacity="1.00"><ellipse cx="1403.8" cy="905.5" rx="16.5" ry="6.1" fill="#8aa04a" opacity="0.35" filter="url(#blur3)"/><path d="M1397.8,893.0 L1397.8,902.5 A15.0,6.8 0 0 0 1427.8,902.5 L1427.8,893.0 Z" fill="#e6c65c"/><ellipse cx="1412.8" cy="893.0" rx="15.0" ry="6.8" fill="#f2d766"/></g>
<g opacity="1.00"><ellipse cx="1489.6" cy="911.8" rx="16.5" ry="6.1" fill="#8aa04a" opacity="0.35" filter="url(#blur3)"/><path d="M1483.6,899.3 L1483.6,908.8 A15.0,6.8 0 0 0 1513.6,908.8 L1513.6,899.3 Z" fill="#e6c65c"/><ellipse cx="1498.6" cy="899.3" rx="15.0" ry="6.8" fill="#f2d766"/></g>
<g opacity="1.00"><ellipse cx="876.4" cy="1088.3" rx="16.5" ry="6.1" fill="#8aa04a" opacity="0.35" filter="url(#blur3)"/><path d="M870.4,1075.8 L870.4,1085.3 A15.0,6.8 0 0 0 900.4,1085.3 L900.4,1075.8 Z" fill="#e6c65c"/><ellipse cx="885.4" cy="1075.8" rx="15.0" ry="6.8" fill="#f2d766"/></g>
<g opacity="1.00"><ellipse cx="870.1" cy="1108.5" rx="16.5" ry="6.1" fill="#8aa04a" opacity="0.35" filter="url(#blur3)"/><path d="M864.1,1096.0 L864.1,1105.5 A15.0,6.8 0 0 0 894.1,1105.5 L894.1,1096.0 Z" fill="#e6c65c"/><ellipse cx="879.1" cy="1096.0" rx="15.0" ry="6.8" fill="#f2d766"/></g>
<g opacity="1.00"><ellipse cx="1288.3" cy="1115.1" rx="16.5" ry="6.1" fill="#8aa04a" opacity="0.35" filter="url(#blur3)"/><path d="M1282.3,1102.6 L1282.3,1112.1 A15.0,6.8 0 0 0 1312.3,1112.1 L1312.3,1102.6 Z" fill="#e6c65c"/><ellipse cx="1297.3" cy="1102.6" rx="15.0" ry="6.8" fill="#f2d766"/></g>
<g opacity="1.00"><ellipse cx="1324.9" cy="1110.1" rx="16.5" ry="6.1" fill="#8aa04a" opacity="0.35" filter="url(#blur3)"/><path d="M1318.9,1097.6 L1318.9,1107.1 A15.0,6.8 0 0 0 1348.9,1107.1 L1348.9,1097.6 Z" fill="#e6c65c"/><ellipse cx="1333.9" cy="1097.6" rx="15.0" ry="6.8" fill="#f2d766"/></g>
<g opacity="1.00"><ellipse cx="1195.0" cy="1151.7" rx="16.5" ry="6.1" fill="#8aa04a" opacity="0.35" filter="url(#blur3)"/><path d="M1189.0,1139.2 L1189.0,1148.7 A15.0,6.8 0 0 0 1219.0,1148.7 L1219.0,1139.2 Z" fill="#e6c65c"/><ellipse cx="1204.0" cy="1139.2" rx="15.0" ry="6.8" fill="#f2d766"/></g>
<g opacity="1.00"><ellipse cx="1162.2" cy="1174.4" rx="16.5" ry="6.1" fill="#8aa04a" opacity="0.35" filter="url(#blur3)"/><path d="M1156.2,1161.9 L1156.2,1171.4 A15.0,6.8 0 0 0 1186.2,1171.4 L1186.2,1161.9 Z" fill="#e6c65c"/><ellipse cx="1171.2" cy="1161.9" rx="15.0" ry="6.8" fill="#f2d766"/></g>
<g opacity="1.00"><ellipse cx="1337.5" cy="1145.4" rx="16.5" ry="6.1" fill="#8aa04a" opacity="0.35" filter="url(#blur3)"/><path d="M1331.5,1132.9 L1331.5,1142.4 A15.0,6.8 0 0 0 1361.5,1142.4 L1361.5,1132.9 Z" fill="#e6c65c"/><ellipse cx="1346.5" cy="1132.9" rx="15.0" ry="6.8" fill="#f2d766"/></g>
<g opacity="0.70"><ellipse cx="1795.0" cy="747.3" rx="16.5" ry="6.1" fill="#8aa04a" opacity="0.35" filter="url(#blur3)"/><path d="M1789.0,734.8 L1789.0,744.3 A15.0,6.8 0 0 0 1819.0,744.3 L1819.0,734.8 Z" fill="#e6c65c"/><ellipse cx="1804.0" cy="734.8" rx="15.0" ry="6.8" fill="#f2d766"/></g>
<g opacity="0.70"><ellipse cx="1774.8" cy="765.0" rx="16.5" ry="6.1" fill="#8aa04a" opacity="0.35" filter="url(#blur3)"/><path d="M1768.8,752.5 L1768.8,762.0 A15.0,6.8 0 0 0 1798.8,762.0 L1798.8,752.5 Z" fill="#e6c65c"/><ellipse cx="1783.8" cy="752.5" rx="15.0" ry="6.8" fill="#f2d766"/></g>
<g opacity="0.50"><ellipse cx="1166.7" cy="976.1" rx="16.5" ry="6.1" fill="#8aa04a" opacity="0.35" filter="url(#blur3)"/><path d="M1160.7,963.6 L1160.7,973.1 A15.0,6.8 0 0 0 1190.7,973.1 L1190.7,963.6 Z" fill="#e6c65c"/><ellipse cx="1175.7" cy="963.6" rx="15.0" ry="6.8" fill="#f2d766"/></g>
<g opacity="0.50"><ellipse cx="1145.2" cy="992.5" rx="16.5" ry="6.1" fill="#8aa04a" opacity="0.35" filter="url(#blur3)"/><path d="M1139.2,980.0 L1139.2,989.5 A15.0,6.8 0 0 0 1169.2,989.5 L1169.2,980.0 Z" fill="#e6c65c"/><ellipse cx="1154.2" cy="980.0" rx="15.0" ry="6.8" fill="#f2d766"/></g>
<g opacity="0.60"><ellipse cx="915.0" cy="1237.5" rx="16.5" ry="6.1" fill="#8aa04a" opacity="0.35" filter="url(#blur3)"/><path d="M909.0,1225.0 L909.0,1234.5 A15.0,6.8 0 0 0 939.0,1234.5 L939.0,1225.0 Z" fill="#e6c65c"/><ellipse cx="924.0" cy="1225.0" rx="15.0" ry="6.8" fill="#f2d766"/></g>
<g transform="translate(1108.0 1300.0) scale(1.000)" opacity="1.00"><path d="M-52,14 L-30,4 L20,18 L-8,34 L-40,32 Z" fill="#9aa6bc" opacity="0.6" filter="url(#blur3)"/><path d="M-46,11 L-43.6,4.8 Q-43,2 -40,0 L-25.4,-11 L-10.1,-20.8 Q-4,-25 4,-26.5 L19,-31.7 Q26,-33 32.5,-30.5 Q41,-27 46.5,-16 L47.7,-3.7 Q48,0 44,3 L4,19 Q0,27 -6,29 Q-12,30 -16,24.5 L-31.5,23.1 Q-40,21 -44.9,15.8 Z" fill="#dddfdc"/><path d="M-10.1,-20.8 Q-4,-25 4,-26.5 L19,-31.7 Q26,-33 32.5,-30.5 Q38,-28.5 41,-25 L12,-14 Z" fill="#d6d9dd"/><path d="M-46,11 L-43.6,4.8 Q-43,2 -40,0 L-25.4,-11 L-10.1,-20.8 L12,-14 L-6,-3 L-8,2 L-10,20 Q-13,25 -16,24.5 L-31.5,23.1 Q-40,21 -44.9,15.8 Z" fill="#c2c9d5"/><path d="M-25.4,-11 L-10.1,-20.8 L12,-14 L-6,-3 Z" fill="#d6d9dd" opacity="0.55"/><path d="M-4,-3.5 L13,-13 L40,-23.5 L43,-14 L-2,5 Z" fill="#c2c9d5" opacity="0.45"/><ellipse cx="-8.2" cy="21" rx="7.4" ry="9.2" fill="#9ea3a8" opacity="0.8"/><ellipse cx="37" cy="4" rx="6.6" ry="8.4" fill="#9ea3a8" opacity="0.8"/><ellipse cx="-7" cy="22" rx="5.6" ry="7.4" fill="#e2e4e2"/><ellipse cx="38" cy="5" rx="5" ry="6.8" fill="#e2e4e2"/></g>
<g transform="translate(1914.0 1014.0) scale(0.980)" opacity="1.00"><path d="M-52,14 L-30,4 L20,18 L-8,34 L-40,32 Z" fill="#9aa6bc" opacity="0.6" filter="url(#blur3)"/><path d="M-46,11 L-43.6,4.8 Q-43,2 -40,0 L-25.4,-11 L-10.1,-20.8 Q-4,-25 4,-26.5 L19,-31.7 Q26,-33 32.5,-30.5 Q41,-27 46.5,-16 L47.7,-3.7 Q48,0 44,3 L4,19 Q0,27 -6,29 Q-12,30 -16,24.5 L-31.5,23.1 Q-40,21 -44.9,15.8 Z" fill="#dddfdc"/><path d="M-10.1,-20.8 Q-4,-25 4,-26.5 L19,-31.7 Q26,-33 32.5,-30.5 Q38,-28.5 41,-25 L12,-14 Z" fill="#d6d9dd"/><path d="M-46,11 L-43.6,4.8 Q-43,2 -40,0 L-25.4,-11 L-10.1,-20.8 L12,-14 L-6,-3 L-8,2 L-10,20 Q-13,25 -16,24.5 L-31.5,23.1 Q-40,21 -44.9,15.8 Z" fill="#c2c9d5"/><path d="M-25.4,-11 L-10.1,-20.8 L12,-14 L-6,-3 Z" fill="#d6d9dd" opacity="0.55"/><path d="M-4,-3.5 L13,-13 L40,-23.5 L43,-14 L-2,5 Z" fill="#c2c9d5" opacity="0.45"/><ellipse cx="-8.2" cy="21" rx="7.4" ry="9.2" fill="#9ea3a8" opacity="0.8"/><ellipse cx="37" cy="4" rx="6.6" ry="8.4" fill="#9ea3a8" opacity="0.8"/><ellipse cx="-7" cy="22" rx="5.6" ry="7.4" fill="#e2e4e2"/><ellipse cx="38" cy="5" rx="5" ry="6.8" fill="#e2e4e2"/></g>
<polygon points="1425.0,1262.0 1470.0,1285.0 1965.0,1113.0 1985.0,1085.0 1440.0,1250.0" fill="#8aa04a" opacity="0.35" filter="url(#blur6)"/>
<path d="M1941.1,1041.7 Q1990,1040 1990,1062 L1988,1092 Q1986,1104 1961.1,1109.2 L1961.1,1051.7 Z" fill="#f4f6f4" />
<polygon points="1468.4,1220.1 1961.1,1051.7 1961.1,1109.2 1470.5,1278.8" fill="url(#gTramSide)" />
<polygon points="1468.4,1220.1 1961.1,1051.7 1925.1,1032.7 1432.4,1201.1" fill="url(#gTramRoof)" />
<path d="M1468.4,1220.1 L1432.4,1201.1 Q1424,1196 1417,1212 L1419,1240 Q1428,1256 1470.5,1278.8 Z" fill="#e6eaf1" />
<path d="M1468.4,1220.1 L1432.4,1201.1 Q1424,1196 1417,1212 L1448,1228 Z" fill="#f2f4f8" />
<polygon points="1471.1,1225.1 1488.3,1219.2 1489.6,1256.8 1472.4,1262.7" fill="#3b4035" opacity="1.00"/>
<polygon points="1490.8,1218.4 1520.3,1208.3 1521.5,1245.8 1492.1,1255.9" fill="#3b4035" opacity="1.00"/>
<polygon points="1522.8,1207.4 1549.9,1198.2 1551.0,1235.6 1524.0,1244.9" fill="#3b4035" opacity="1.00"/>
<polygon points="1569.6,1191.4 1596.7,1182.2 1597.7,1219.5 1570.6,1228.8" fill="#3b4035" opacity="1.00"/>
<polygon points="1599.1,1181.3 1626.2,1172.0 1627.1,1209.4 1600.1,1218.7" fill="#3b4035" opacity="1.00"/>
<polygon points="1628.7,1171.2 1658.2,1161.1 1659.0,1198.4 1629.6,1208.5" fill="#3b4035" opacity="1.00"/>
<polygon points="1677.9,1154.3 1709.9,1143.4 1710.6,1180.6 1678.7,1191.6" fill="#3b4035" opacity="1.00"/>
<polygon points="1712.4,1142.6 1741.9,1132.4 1742.5,1169.6 1713.1,1179.7" fill="#3b4035" opacity="1.00"/>
<polygon points="1761.6,1125.7 1786.3,1117.3 1786.7,1154.3 1762.2,1162.8" fill="#3b4035" opacity="1.00"/>
<polygon points="1788.7,1116.4 1813.4,1108.0 1813.8,1145.0 1789.2,1153.5" fill="#3b4035" opacity="1.00"/>
<polygon points="1815.8,1107.2 1842.9,1097.9 1843.2,1134.9 1816.2,1144.2" fill="#3b4035" opacity="1.00"/>
<polygon points="1862.6,1091.2 1889.7,1081.9 1889.9,1118.8 1862.9,1128.1" fill="#3b4035" opacity="1.00"/>
<polygon points="1892.2,1081.0 1924.2,1070.1 1924.3,1106.9 1892.3,1118.0" fill="#3b4035" opacity="1.00"/>
<polygon points="1926.6,1069.2 1943.9,1063.3 1943.9,1100.2 1926.7,1106.1" fill="#3b4035" opacity="1.00"/>
<polygon points="1495.9,1223.7 1515.6,1217.0 1516.4,1240.4 1496.7,1247.2" fill="#8d9384" opacity="0.55"/>
<polygon points="1604.2,1186.6 1621.5,1180.7 1622.0,1204.1 1604.8,1210.0" fill="#8d9384" opacity="0.55"/>
<polygon points="1717.4,1147.8 1737.1,1141.1 1737.5,1164.3 1717.9,1171.1" fill="#8d9384" opacity="0.55"/>
<polygon points="1793.7,1121.7 1808.5,1116.6 1808.8,1139.8 1794.0,1144.9" fill="#8d9384" opacity="0.55"/>
<polygon points="1897.1,1086.3 1919.3,1078.7 1919.3,1101.7 1897.2,1109.3" fill="#8d9384" opacity="0.55"/>
<polygon points="1522.7,1206.3 1549.8,1197.0 1551.2,1243.8 1524.2,1253.1" fill="#2e3229" opacity="1.00"/>
<polygon points="1815.8,1106.0 1842.9,1096.7 1843.3,1143.0 1816.3,1152.3" fill="#2e3229" opacity="1.00"/>
<polygon points="1470.4,1274.7 1961.1,1105.2 1961.1,1107.5 1470.4,1277.0" fill="#4a4f45" opacity="0.8"/>
<polygon points="1553.6,1191.0 1565.5,1186.9 1567.1,1245.4 1555.4,1249.5" fill="#f2f4f2"/>
<polygon points="1543.0,1193.0 1572.5,1182.9 1556.3,1174.4 1526.8,1184.5" fill="#2f333c"/>
<polygon points="1662.0,1153.9 1673.9,1149.9 1675.1,1208.1 1663.3,1212.1" fill="#f2f4f2"/>
<polygon points="1651.4,1156.0 1680.9,1145.9 1664.7,1137.3 1635.2,1147.5" fill="#2f333c"/>
<polygon points="1745.8,1125.3 1757.6,1121.2 1758.5,1179.2 1746.7,1183.3" fill="#f2f4f2"/>
<polygon points="1735.1,1127.4 1764.7,1117.3 1748.5,1108.7 1718.9,1118.8" fill="#2f333c"/>
<polygon points="1846.8,1090.8 1858.6,1086.7 1859.1,1144.5 1847.3,1148.5" fill="#f2f4f2"/>
<polygon points="1836.1,1092.8 1865.7,1082.7 1849.5,1074.2 1819.9,1084.3" fill="#2f333c"/>
<polygon points="1476.0,1211.2 1500.6,1202.8 1479.0,1191.4 1454.4,1199.8" fill="#c9d1e4" opacity="0.9"/>
<polygon points="1474.8,1208.5 1494.6,1201.8 1480.2,1194.2 1460.4,1200.9" fill="#f3f5f9"/>
<polygon points="1510.5,1199.5 1535.1,1191.0 1513.5,1179.6 1488.9,1188.1" fill="#c9d1e4" opacity="0.9"/>
<polygon points="1509.3,1196.7 1529.0,1190.0 1514.6,1182.4 1494.9,1189.1" fill="#f3f5f9"/>
<polygon points="1579.4,1175.9 1604.1,1167.5 1582.5,1156.1 1557.8,1164.5" fill="#c9d1e4" opacity="0.9"/>
<polygon points="1578.3,1173.1 1598.0,1166.4 1583.6,1158.8 1563.9,1165.5" fill="#f3f5f9"/>
<polygon points="1613.9,1164.1 1638.6,1155.7 1617.0,1144.3 1592.3,1152.7" fill="#c9d1e4" opacity="0.9"/>
<polygon points="1612.8,1161.4 1632.5,1154.6 1618.1,1147.0 1598.4,1153.8" fill="#f3f5f9"/>
<polygon points="1687.8,1138.8 1712.5,1130.4 1690.9,1119.0 1666.2,1127.4" fill="#c9d1e4" opacity="0.9"/>
<polygon points="1686.7,1136.1 1706.4,1129.4 1692.0,1121.8 1672.3,1128.5" fill="#f3f5f9"/>
<polygon points="1722.3,1127.0 1747.0,1118.6 1725.4,1107.2 1700.7,1115.6" fill="#c9d1e4" opacity="0.9"/>
<polygon points="1721.2,1124.3 1740.9,1117.6 1726.5,1110.0 1706.8,1116.7" fill="#f3f5f9"/>
<polygon points="1771.6,1110.2 1796.2,1101.8 1774.6,1090.4 1750.0,1098.8" fill="#c9d1e4" opacity="0.9"/>
<polygon points="1770.5,1107.5 1790.2,1100.7 1775.8,1093.1 1756.1,1099.9" fill="#f3f5f9"/>
<polygon points="1806.1,1098.4 1830.7,1090.0 1809.1,1078.6 1784.5,1087.0" fill="#c9d1e4" opacity="0.9"/>
<polygon points="1805.0,1095.7 1824.7,1088.9 1810.3,1081.3 1790.6,1088.1" fill="#f3f5f9"/>
<polygon points="1870.1,1076.5 1894.8,1068.1 1873.2,1056.7 1848.5,1065.1" fill="#c9d1e4" opacity="0.9"/>
<polygon points="1869.0,1073.8 1888.7,1067.0 1874.3,1059.5 1854.6,1066.2" fill="#f3f5f9"/>
<polygon points="1904.6,1064.7 1929.3,1056.3 1907.7,1044.9 1883.0,1053.3" fill="#c9d1e4" opacity="0.9"/>
<polygon points="1903.5,1062.0 1923.2,1055.3 1908.8,1047.7 1889.1,1054.4" fill="#f3f5f9"/>
<polygon points="1662.5,1149.0 1694.6,1138.1 1669.4,1124.8 1637.3,1135.7" fill="#2b2f38"/>
<line x1="1672.0" y1="1113.0" x2="1690.0" y2="1078.0" stroke="#939ca8" stroke-width="1.80" />
<line x1="1690.0" y1="1078.0" x2="1712.0" y2="1084.0" stroke="#939ca8" stroke-width="1.80" />
<line x1="1690.0" y1="1078.0" x2="1698.0" y2="1071.0" stroke="#939ca8" stroke-width="1.80" />
<line x1="1676.0" y1="1114.0" x2="1716.0" y2="1083.0" stroke="#939ca8" stroke-width="1.80" />
<line x1="1698.0" y1="1071.0" x2="1722.0" y2="1079.0" stroke="#939ca8" stroke-width="1.80" />
<line x1="1690.0" y1="1070.0" x2="1705.0" y2="1068.0" stroke="#939ca8" stroke-width="1.80" />
<ellipse cx="1808.9" cy="612.4" rx="8" ry="2.2" fill="#6f8a30" opacity="0.28" transform="rotate(-18 1815.9 611.9)"/><g transform="translate(1815.9 611.9) scale(1.000 1.000)" fill="#e0430f" opacity="1.00"><ellipse cx="0.3" cy="-33.1" rx="2.4" ry="2.9"/><path d="M-1.2,-30.6 L1.8,-30.6 Q4.8,-30 5.2,-27 L5.8,-17.5 L4.4,-16.8 L4.1,-23 L3.9,-15 L4.2,0 L1.3,0.2 L0.5,-13 L-0.1,-13 L-0.9,1 L-3.9,1 L-3.7,-15 L-3.6,-23 L-4.2,-17 L-5.6,-17.6 L-4.8,-27 Q-4.4,-30 -1.2,-30.6 Z"/></g>
<ellipse cx="1795.0" cy="614.9" rx="8" ry="2.2" fill="#6f8a30" opacity="0.28" transform="rotate(-18 1802.0 614.4)"/><g transform="translate(1802.0 614.4) scale(1.000 1.000)" fill="#e0430f" opacity="1.00"><ellipse cx="0.3" cy="-33.1" rx="2.4" ry="2.9"/><path d="M-1.2,-30.6 L1.8,-30.6 Q4.8,-30 5.2,-27 L5.8,-17.5 L4.4,-16.8 L4.1,-23 L3.9,-15 L4.2,0 L1.3,0.2 L0.5,-13 L-0.1,-13 L-0.9,1 L-3.9,1 L-3.7,-15 L-3.6,-23 L-4.2,-17 L-5.6,-17.6 L-4.8,-27 Q-4.4,-30 -1.2,-30.6 Z"/></g>
<ellipse cx="1771.0" cy="622.5" rx="8" ry="2.2" fill="#6f8a30" opacity="0.28" transform="rotate(-18 1778.0 622.0)"/><g transform="translate(1778.0 622.0) scale(1.000 1.000)" fill="#e0430f" opacity="1.00"><ellipse cx="-1" cy="-27.8" rx="2.4" ry="2.9"/><path d="M-5,-23.5 Q-1,-25.5 3.5,-23.5 L5,-12 L12.5,-10 L16.5,1 L12.8,2.5 L9.5,-4.5 L7,-4.5 L9,3.5 L5.5,4.5 L2.5,-4 L-3.5,-5 Q-6,-10 -5,-23.5 Z"/></g>
<ellipse cx="1742.0" cy="642.7" rx="8" ry="2.2" fill="#6f8a30" opacity="0.28" transform="rotate(-18 1749.0 642.2)"/><g transform="translate(1749.0 642.2) scale(1.000 1.000)" fill="#e0430f" opacity="1.00"><ellipse cx="-1" cy="-27.8" rx="2.4" ry="2.9"/><path d="M-5,-23.5 Q-1,-25.5 3.5,-23.5 L5,-12 L12.5,-10 L16.5,1 L12.8,2.5 L9.5,-4.5 L7,-4.5 L9,3.5 L5.5,4.5 L2.5,-4 L-3.5,-5 Q-6,-10 -5,-23.5 Z"/></g>
<ellipse cx="1733.2" cy="645.2" rx="8" ry="2.2" fill="#6f8a30" opacity="0.28" transform="rotate(-18 1740.2 644.7)"/><g transform="translate(1740.2 644.7) scale(1.000 1.000)" fill="#e0430f" opacity="1.00"><ellipse cx="-1" cy="-27.8" rx="2.4" ry="2.9"/><path d="M-5,-23.5 Q-1,-25.5 3.5,-23.5 L5,-12 L12.5,-10 L16.5,1 L12.8,2.5 L9.5,-4.5 L7,-4.5 L9,3.5 L5.5,4.5 L2.5,-4 L-3.5,-5 Q-6,-10 -5,-23.5 Z"/></g>
<ellipse cx="1547.8" cy="646.5" rx="8" ry="2.2" fill="#6f8a30" opacity="0.28" transform="rotate(-18 1554.8 646.0)"/><g transform="translate(1554.8 646.0) scale(1.000 1.000)" fill="#e0430f" opacity="1.00"><ellipse cx="0.3" cy="-33.1" rx="2.4" ry="2.9"/><path d="M-1.2,-30.6 L1.8,-30.6 Q4.8,-30 5.2,-27 L5.8,-17.5 L4.4,-16.8 L4.1,-23 L3.9,-15 L4.2,0 L1.3,0.2 L0.5,-13 L-0.1,-13 L-0.9,1 L-3.9,1 L-3.7,-15 L-3.6,-23 L-4.2,-17 L-5.6,-17.6 L-4.8,-27 Q-4.4,-30 -1.2,-30.6 Z"/><path d="M3,-29 L13.5,-25 L13,-23 L3.5,-24.5 Z"/></g>
<ellipse cx="1498.6" cy="659.1" rx="8" ry="2.2" fill="#6f8a30" opacity="0.28" transform="rotate(-18 1505.6 658.6)"/><g transform="translate(1505.6 658.6) scale(1.000 1.000)" fill="#e0430f" opacity="1.00"><ellipse cx="0.3" cy="-33.1" rx="2.4" ry="2.9"/><path d="M-1.2,-30.6 L1.8,-30.6 Q4.8,-30 5.2,-27 L5.8,-17.5 L4.4,-16.8 L4.1,-23 L3.9,-15 L4.2,0 L1.3,0.2 L0.5,-13 L-0.1,-13 L-0.9,1 L-3.9,1 L-3.7,-15 L-3.6,-23 L-4.2,-17 L-5.6,-17.6 L-4.8,-27 Q-4.4,-30 -1.2,-30.6 Z"/></g>
<ellipse cx="1697.9" cy="674.2" rx="8" ry="2.2" fill="#6f8a30" opacity="0.28" transform="rotate(-18 1704.9 673.7)"/><g transform="translate(1704.9 673.7) scale(1.000 1.000)" fill="#e0430f" opacity="1.00"><ellipse cx="0.3" cy="-33.1" rx="2.4" ry="2.9"/><path d="M-1.2,-30.6 L1.8,-30.6 Q4.8,-30 5.2,-27 L5.8,-17.5 L4.4,-16.8 L4.1,-23 L3.9,-15 L4.2,0 L1.3,0.2 L0.5,-13 L-0.1,-13 L-0.9,1 L-3.9,1 L-3.7,-15 L-3.6,-23 L-4.2,-17 L-5.6,-17.6 L-4.8,-27 Q-4.4,-30 -1.2,-30.6 Z"/></g>
<ellipse cx="1545.3" cy="676.8" rx="8" ry="2.2" fill="#6f8a30" opacity="0.28" transform="rotate(-18 1552.3 676.3)"/><g transform="translate(1552.3 676.3) scale(1.000 1.000)" fill="#e0430f" opacity="1.00"><g fill="none" stroke="#e0430f" stroke-width="1.1"><circle cx="-8" cy="-5" r="6.2"/><circle cx="9" cy="-10" r="6.2"/><path d="M-8,-5 L-1,-15 L6,-18 L9,-10 M-1,-15 L1,-8"/></g><ellipse cx="1.5" cy="-33" rx="2.4" ry="2.8"/><path d="M-3.5,-30 Q0,-31.5 4,-29 L8,-21 L6.5,-19.5 L3,-23 L2,-16 L4,-9 L1.5,-4 L-1,-5 L0,-10 L-4.5,-16 Q-6,-22 -3.5,-30 Z"/></g>
<ellipse cx="1494.8" cy="709.5" rx="8" ry="2.2" fill="#6f8a30" opacity="0.28" transform="rotate(-18 1501.8 709.0)"/><g transform="translate(1501.8 709.0) scale(1.000 1.000)" fill="#e0430f" opacity="1.00"><ellipse cx="0.3" cy="-33.1" rx="2.4" ry="2.9"/><path d="M-1.2,-30.6 L1.8,-30.6 Q4.8,-30 5.2,-27 L5.8,-17.5 L4.4,-16.8 L4.1,-23 L3.9,-15 L4.2,0 L1.3,0.2 L0.5,-13 L-0.1,-13 L-0.9,1 L-3.9,1 L-3.7,-15 L-3.6,-23 L-4.2,-17 L-5.6,-17.6 L-4.8,-27 Q-4.4,-30 -1.2,-30.6 Z"/></g>
<ellipse cx="1430.5" cy="727.2" rx="8" ry="2.2" fill="#6f8a30" opacity="0.28" transform="rotate(-18 1437.5 726.7)"/><g transform="translate(1437.5 726.7) scale(1.000 1.000)" fill="#e0430f" opacity="1.00"><ellipse cx="0.3" cy="-33.1" rx="2.4" ry="2.9"/><path d="M-1.2,-30.6 L1.8,-30.6 Q4.8,-30 5.2,-27 L5.8,-17.5 L4.4,-16.8 L4.1,-23 L3.9,-15 L4.2,0 L1.3,0.2 L0.5,-13 L-0.1,-13 L-0.9,1 L-3.9,1 L-3.7,-15 L-3.6,-23 L-4.2,-17 L-5.6,-17.6 L-4.8,-27 Q-4.4,-30 -1.2,-30.6 Z"/></g>
<ellipse cx="1478.4" cy="728.5" rx="8" ry="2.2" fill="#6f8a30" opacity="0.28" transform="rotate(-18 1485.4 728.0)"/><g transform="translate(1485.4 728.0) scale(1.000 1.000)" fill="#e0430f" opacity="1.00"><ellipse cx="0.3" cy="-33.1" rx="2.4" ry="2.9"/><path d="M-1.2,-30.6 L1.8,-30.6 Q4.8,-30 5.2,-27 L5.8,-17.5 L4.4,-16.8 L4.1,-23 L3.9,-15 L4.2,0 L1.3,0.2 L0.5,-13 L-0.1,-13 L-0.9,1 L-3.9,1 L-3.7,-15 L-3.6,-23 L-4.2,-17 L-5.6,-17.6 L-4.8,-27 Q-4.4,-30 -1.2,-30.6 Z"/></g>
<ellipse cx="1401.5" cy="741.1" rx="8" ry="2.2" fill="#6f8a30" opacity="0.28" transform="rotate(-18 1408.5 740.6)"/><g transform="translate(1408.5 740.6) scale(1.000 1.000)" fill="#e0430f" opacity="1.00"><ellipse cx="-1" cy="-27.8" rx="2.4" ry="2.9"/><path d="M-5,-23.5 Q-1,-25.5 3.5,-23.5 L5,-12 L12.5,-10 L16.5,1 L12.8,2.5 L9.5,-4.5 L7,-4.5 L9,3.5 L5.5,4.5 L2.5,-4 L-3.5,-5 Q-6,-10 -5,-23.5 Z"/></g>
<ellipse cx="1246.9" cy="744.6" rx="8" ry="2.2" fill="#6f8a30" opacity="0.28" transform="rotate(-18 1253.9 744.1)"/><g transform="translate(1253.9 744.1) scale(1.000 1.000)" fill="#e0430f" opacity="1.00"><ellipse cx="0.3" cy="-33.1" rx="2.4" ry="2.9"/><path d="M-1.2,-30.6 L1.8,-30.6 Q4.8,-30 5.2,-27 L5.8,-17.5 L4.4,-16.8 L4.1,-23 L3.9,-15 L4.2,0 L1.3,0.2 L0.5,-13 L-0.1,-13 L-0.9,1 L-3.9,1 L-3.7,-15 L-3.6,-23 L-4.2,-17 L-5.6,-17.6 L-4.8,-27 Q-4.4,-30 -1.2,-30.6 Z"/></g>
<g transform="translate(1822.2 748.2) scale(1.000 1.000)" fill="#e0430f" opacity="0.75"><ellipse cx="-1" cy="-27.8" rx="2.4" ry="2.9"/><path d="M-5,-23.5 Q-1,-25.5 3.5,-23.5 L5,-12 L12.5,-10 L16.5,1 L12.8,2.5 L9.5,-4.5 L7,-4.5 L9,3.5 L5.5,4.5 L2.5,-4 L-3.5,-5 Q-6,-10 -5,-23.5 Z"/></g>
<ellipse cx="1421.7" cy="756.2" rx="8" ry="2.2" fill="#6f8a30" opacity="0.28" transform="rotate(-18 1428.7 755.7)"/><g transform="translate(1428.7 755.7) scale(1.000 1.000)" fill="#e0430f" opacity="1.00"><ellipse cx="0.3" cy="-33.1" rx="2.4" ry="2.9"/><path d="M-1.2,-30.6 L1.8,-30.6 Q4.8,-30 5.2,-27 L5.8,-17.5 L4.4,-16.8 L4.1,-23 L3.9,-15 L4.2,0 L1.3,0.2 L0.5,-13 L-0.1,-13 L-0.9,1 L-3.9,1 L-3.7,-15 L-3.6,-23 L-4.2,-17 L-5.6,-17.6 L-4.8,-27 Q-4.4,-30 -1.2,-30.6 Z"/></g>
<g transform="translate(1791.9 763.3) scale(1.000 1.000)" fill="#e0430f" opacity="0.75"><ellipse cx="-1" cy="-27.8" rx="2.4" ry="2.9"/><path d="M-5,-23.5 Q-1,-25.5 3.5,-23.5 L5,-12 L12.5,-10 L16.5,1 L12.8,2.5 L9.5,-4.5 L7,-4.5 L9,3.5 L5.5,4.5 L2.5,-4 L-3.5,-5 Q-6,-10 -5,-23.5 Z"/></g>
<g transform="translate(1783.1 767.0) scale(1.000 1.000)" fill="#e0430f" opacity="0.75"><ellipse cx="-1" cy="-27.8" rx="2.4" ry="2.9"/><path d="M-5,-23.5 Q-1,-25.5 3.5,-23.5 L5,-12 L12.5,-10 L16.5,1 L12.8,2.5 L9.5,-4.5 L7,-4.5 L9,3.5 L5.5,4.5 L2.5,-4 L-3.5,-5 Q-6,-10 -5,-23.5 Z"/></g>
<g transform="translate(1756.6 775.9) scale(1.000 1.000)" fill="#e0430f" opacity="0.75"><ellipse cx="0.3" cy="-33.1" rx="2.4" ry="2.9"/><path d="M-1.2,-30.6 L1.8,-30.6 Q4.8,-30 5.2,-27 L5.8,-17.5 L4.4,-16.8 L4.1,-23 L3.9,-15 L4.2,0 L1.3,0.2 L0.5,-13 L-0.1,-13 L-0.9,1 L-3.9,1 L-3.7,-15 L-3.6,-23 L-4.2,-17 L-5.6,-17.6 L-4.8,-27 Q-4.4,-30 -1.2,-30.6 Z"/></g>
<g transform="translate(1765.5 779.7) scale(1.000 1.000)" fill="#e0430f" opacity="0.75"><ellipse cx="0.3" cy="-33.1" rx="2.4" ry="2.9"/><path d="M-1.2,-30.6 L1.8,-30.6 Q4.8,-30 5.2,-27 L5.8,-17.5 L4.4,-16.8 L4.1,-23 L3.9,-15 L4.2,0 L1.3,0.2 L0.5,-13 L-0.1,-13 L-0.9,1 L-3.9,1 L-3.7,-15 L-3.6,-23 L-4.2,-17 L-5.6,-17.6 L-4.8,-27 Q-4.4,-30 -1.2,-30.6 Z"/></g>
<ellipse cx="1312.5" cy="781.2" rx="8" ry="2.2" fill="#6f8a30" opacity="0.28" transform="rotate(-18 1319.5 780.7)"/><g transform="translate(1319.5 780.7) scale(1.000 1.000)" fill="#e0430f" opacity="1.00"><ellipse cx="0.3" cy="-33.1" rx="2.4" ry="2.9"/><path d="M-1.2,-30.6 L1.8,-30.6 Q4.8,-30 5.2,-27 L5.8,-17.5 L4.4,-16.8 L4.1,-23 L3.9,-15 L4.2,0 L1.3,0.2 L0.5,-13 L-0.1,-13 L-0.9,1 L-3.9,1 L-3.7,-15 L-3.6,-23 L-4.2,-17 L-5.6,-17.6 L-4.8,-27 Q-4.4,-30 -1.2,-30.6 Z"/></g>
<ellipse cx="1911.8" cy="784.5" rx="8" ry="2.2" fill="#6f8a30" opacity="0.28" transform="rotate(-18 1918.8 784.0)"/><g transform="translate(1918.8 784.0) scale(1.000 1.000)" fill="#e0430f" opacity="1.00"><ellipse cx="0.3" cy="-33.1" rx="2.4" ry="2.9"/><path d="M-1.2,-30.6 L1.8,-30.6 Q4.8,-30 5.2,-27 L5.8,-17.5 L4.4,-16.8 L4.1,-23 L3.9,-15 L4.2,0 L1.3,0.2 L0.5,-13 L-0.1,-13 L-0.9,1 L-3.9,1 L-3.7,-15 L-3.6,-23 L-4.2,-17 L-5.6,-17.6 L-4.8,-27 Q-4.4,-30 -1.2,-30.6 Z"/></g>
<ellipse cx="1899.2" cy="788.3" rx="8" ry="2.2" fill="#6f8a30" opacity="0.28" transform="rotate(-18 1906.2 787.8)"/><g transform="translate(1906.2 787.8) scale(1.000 1.000)" fill="#e0430f" opacity="1.00"><ellipse cx="0.3" cy="-33.1" rx="2.4" ry="2.9"/><path d="M-1.2,-30.6 L1.8,-30.6 Q4.8,-30 5.2,-27 L5.8,-17.5 L4.4,-16.8 L4.1,-23 L3.9,-15 L4.2,0 L1.3,0.2 L0.5,-13 L-0.1,-13 L-0.9,1 L-3.9,1 L-3.7,-15 L-3.6,-23 L-4.2,-17 L-5.6,-17.6 L-4.8,-27 Q-4.4,-30 -1.2,-30.6 Z"/></g>
<ellipse cx="1287.3" cy="790.1" rx="8" ry="2.2" fill="#6f8a30" opacity="0.28" transform="rotate(-18 1294.3 789.6)"/><g transform="translate(1294.3 789.6) scale(1.000 1.000)" fill="#e0430f" opacity="1.00"><ellipse cx="-1" cy="-27.8" rx="2.4" ry="2.9"/><path d="M-5,-23.5 Q-1,-25.5 3.5,-23.5 L5,-12 L12.5,-10 L16.5,1 L12.8,2.5 L9.5,-4.5 L7,-4.5 L9,3.5 L5.5,4.5 L2.5,-4 L-3.5,-5 Q-6,-10 -5,-23.5 Z"/></g>
<ellipse cx="1259.5" cy="809.0" rx="8" ry="2.2" fill="#6f8a30" opacity="0.28" transform="rotate(-18 1266.5 808.5)"/><g transform="translate(1266.5 808.5) scale(1.000 1.000)" fill="#e0430f" opacity="1.00"><ellipse cx="-1" cy="-27.8" rx="2.4" ry="2.9"/><path d="M-5,-23.5 Q-1,-25.5 3.5,-23.5 L5,-12 L12.5,-10 L16.5,1 L12.8,2.5 L9.5,-4.5 L7,-4.5 L9,3.5 L5.5,4.5 L2.5,-4 L-3.5,-5 Q-6,-10 -5,-23.5 Z"/></g>
<ellipse cx="1249.4" cy="811.5" rx="8" ry="2.2" fill="#6f8a30" opacity="0.28" transform="rotate(-18 1256.4 811.0)"/><g transform="translate(1256.4 811.0) scale(1.000 1.000)" fill="#e0430f" opacity="1.00"><ellipse cx="-1" cy="-27.8" rx="2.4" ry="2.9"/><path d="M-5,-23.5 Q-1,-25.5 3.5,-23.5 L5,-12 L12.5,-10 L16.5,1 L12.8,2.5 L9.5,-4.5 L7,-4.5 L9,3.5 L5.5,4.5 L2.5,-4 L-3.5,-5 Q-6,-10 -5,-23.5 Z"/></g>
<ellipse cx="1624.0" cy="832.9" rx="8" ry="2.2" fill="#6f8a30" opacity="0.28" transform="rotate(-18 1631.0 832.4)"/><g transform="translate(1631.0 832.4) scale(1.000 1.000)" fill="#e0430f" opacity="1.00"><ellipse cx="-1" cy="-27.8" rx="2.4" ry="2.9"/><path d="M-5,-23.5 Q-1,-25.5 3.5,-23.5 L5,-12 L12.5,-10 L16.5,1 L12.8,2.5 L9.5,-4.5 L7,-4.5 L9,3.5 L5.5,4.5 L2.5,-4 L-3.5,-5 Q-6,-10 -5,-23.5 Z"/></g>
<ellipse cx="1214.1" cy="840.5" rx="8" ry="2.2" fill="#6f8a30" opacity="0.28" transform="rotate(-18 1221.1 840.0)"/><g transform="translate(1221.1 840.0) scale(1.000 1.000)" fill="#e0430f" opacity="1.00"><ellipse cx="0.3" cy="-33.1" rx="2.4" ry="2.9"/><path d="M-1.2,-30.6 L1.8,-30.6 Q4.8,-30 5.2,-27 L5.8,-17.5 L4.4,-16.8 L4.1,-23 L3.9,-15 L4.2,0 L1.3,0.2 L0.5,-13 L-0.1,-13 L-0.9,1 L-3.9,1 L-3.7,-15 L-3.6,-23 L-4.2,-17 L-5.6,-17.6 L-4.8,-27 Q-4.4,-30 -1.2,-30.6 Z"/></g>
<ellipse cx="1800.8" cy="846.3" rx="8" ry="2.2" fill="#6f8a30" opacity="0.28" transform="rotate(-18 1807.8 845.8)"/><g transform="translate(1807.8 845.8) scale(1.000 1.000)" fill="#e0430f" opacity="1.00"><ellipse cx="0.3" cy="-33.1" rx="2.4" ry="2.9"/><path d="M-1.2,-30.6 L1.8,-30.6 Q4.8,-30 5.2,-27 L5.8,-17.5 L4.4,-16.8 L4.1,-23 L3.9,-15 L4.2,0 L1.3,0.2 L0.5,-13 L-0.1,-13 L-0.9,1 L-3.9,1 L-3.7,-15 L-3.6,-23 L-4.2,-17 L-5.6,-17.6 L-4.8,-27 Q-4.4,-30 -1.2,-30.6 Z"/></g>
<ellipse cx="1065.5" cy="848.0" rx="8" ry="2.2" fill="#6f8a30" opacity="0.28" transform="rotate(-18 1072.5 847.5)"/><g transform="translate(1072.5 847.5) scale(1.000 1.000)" fill="#e0430f" opacity="1.00"><g fill="none" stroke="#e0430f" stroke-width="1.1"><circle cx="-8" cy="-5" r="6.2"/><circle cx="9" cy="-10" r="6.2"/><path d="M-8,-5 L-1,-15 L6,-18 L9,-10 M-1,-15 L1,-8"/></g><ellipse cx="1.5" cy="-33" rx="2.4" ry="2.8"/><path d="M-3.5,-30 Q0,-31.5 4,-29 L8,-21 L6.5,-19.5 L3,-23 L2,-16 L4,-9 L1.5,-4 L-1,-5 L0,-10 L-4.5,-16 Q-6,-22 -3.5,-30 Z"/></g>
<ellipse cx="1144.7" cy="849.3" rx="8" ry="2.2" fill="#6f8a30" opacity="0.28" transform="rotate(-18 1151.7 848.8)"/><g transform="translate(1151.7 848.8) scale(1.000 1.000)" fill="#e0430f" opacity="1.00"><ellipse cx="0.3" cy="-33.1" rx="2.4" ry="2.9"/><path d="M-1.2,-30.6 L1.8,-30.6 Q4.8,-30 5.2,-27 L5.8,-17.5 L4.4,-16.8 L4.1,-23 L3.9,-15 L4.2,0 L1.3,0.2 L0.5,-13 L-0.1,-13 L-0.9,1 L-3.9,1 L-3.7,-15 L-3.6,-23 L-4.2,-17 L-5.6,-17.6 L-4.8,-27 Q-4.4,-30 -1.2,-30.6 Z"/><path d="M3,-29 L13.5,-25 L13,-23 L3.5,-24.5 Z"/></g>
<ellipse cx="1596.3" cy="849.3" rx="8" ry="2.2" fill="#6f8a30" opacity="0.28" transform="rotate(-18 1603.3 848.8)"/><g transform="translate(1603.3 848.8) scale(1.000 1.000)" fill="#e0430f" opacity="1.00"><ellipse cx="-1" cy="-27.8" rx="2.4" ry="2.9"/><path d="M-5,-23.5 Q-1,-25.5 3.5,-23.5 L5,-12 L12.5,-10 L16.5,1 L12.8,2.5 L9.5,-4.5 L7,-4.5 L9,3.5 L5.5,4.5 L2.5,-4 L-3.5,-5 Q-6,-10 -5,-23.5 Z"/></g>
<ellipse cx="1649.4" cy="851.4" rx="8" ry="2.2" fill="#6f8a30" opacity="0.28" transform="rotate(-18 1656.4 850.9)"/><g transform="translate(1656.4 850.9) scale(1.000 1.000)" fill="#e0430f" opacity="1.00"><g fill="none" stroke="#e0430f" stroke-width="1.1"><circle cx="-8" cy="-5" r="6.2"/><circle cx="9" cy="-10" r="6.2"/><path d="M-8,-5 L-1,-15 L6,-18 L9,-10 M-1,-15 L1,-8"/></g><ellipse cx="1.5" cy="-33" rx="2.4" ry="2.8"/><path d="M-3.5,-30 Q0,-31.5 4,-29 L8,-21 L6.5,-19.5 L3,-23 L2,-16 L4,-9 L1.5,-4 L-1,-5 L0,-10 L-4.5,-16 Q-6,-22 -3.5,-30 Z"/></g>
<ellipse cx="1587.5" cy="851.9" rx="8" ry="2.2" fill="#6f8a30" opacity="0.28" transform="rotate(-18 1594.5 851.4)"/><g transform="translate(1594.5 851.4) scale(1.000 1.000)" fill="#e0430f" opacity="1.00"><ellipse cx="-1" cy="-27.8" rx="2.4" ry="2.9"/><path d="M-5,-23.5 Q-1,-25.5 3.5,-23.5 L5,-12 L12.5,-10 L16.5,1 L12.8,2.5 L9.5,-4.5 L7,-4.5 L9,3.5 L5.5,4.5 L2.5,-4 L-3.5,-5 Q-6,-10 -5,-23.5 Z"/></g>
<ellipse cx="1730.1" cy="856.4" rx="8" ry="2.2" fill="#6f8a30" opacity="0.28" transform="rotate(-18 1737.1 855.9)"/><g transform="translate(1737.1 855.9) scale(1.000 1.000)" fill="#e0430f" opacity="1.00"><ellipse cx="0.3" cy="-33.1" rx="2.4" ry="2.9"/><path d="M-1.2,-30.6 L1.8,-30.6 Q4.8,-30 5.2,-27 L5.8,-17.5 L4.4,-16.8 L4.1,-23 L3.9,-15 L4.2,0 L1.3,0.2 L0.5,-13 L-0.1,-13 L-0.9,1 L-3.9,1 L-3.7,-15 L-3.6,-23 L-4.2,-17 L-5.6,-17.6 L-4.8,-27 Q-4.4,-30 -1.2,-30.6 Z"/><path d="M3,-29 L13.5,-25 L13,-23 L3.5,-24.5 Z"/></g>
<ellipse cx="1682.2" cy="866.5" rx="8" ry="2.2" fill="#6f8a30" opacity="0.28" transform="rotate(-18 1689.2 866.0)"/><g transform="translate(1689.2 866.0) scale(1.000 1.000)" fill="#e0430f" opacity="1.00"><ellipse cx="0.3" cy="-33.1" rx="2.4" ry="2.9"/><path d="M-1.2,-30.6 L1.8,-30.6 Q4.8,-30 5.2,-27 L5.8,-17.5 L4.4,-16.8 L4.1,-23 L3.9,-15 L4.2,0 L1.3,0.2 L0.5,-13 L-0.1,-13 L-0.9,1 L-3.9,1 L-3.7,-15 L-3.6,-23 L-4.2,-17 L-5.6,-17.6 L-4.8,-27 Q-4.4,-30 -1.2,-30.6 Z"/></g>
<ellipse cx="1598.8" cy="883.4" rx="8" ry="2.2" fill="#6f8a30" opacity="0.28" transform="rotate(-18 1605.8 882.9)"/><g transform="translate(1605.8 882.9) scale(1.000 1.000)" fill="#e0430f" opacity="1.00"><ellipse cx="0.3" cy="-33.1" rx="2.4" ry="2.9"/><path d="M-1.2,-30.6 L1.8,-30.6 Q4.8,-30 5.2,-27 L5.8,-17.5 L4.4,-16.8 L4.1,-23 L3.9,-15 L4.2,0 L1.3,0.2 L0.5,-13 L-0.1,-13 L-0.9,1 L-3.9,1 L-3.7,-15 L-3.6,-23 L-4.2,-17 L-5.6,-17.6 L-4.8,-27 Q-4.4,-30 -1.2,-30.6 Z"/></g>
<ellipse cx="1442.4" cy="888.5" rx="8" ry="2.2" fill="#6f8a30" opacity="0.28" transform="rotate(-18 1449.4 888.0)"/><g transform="translate(1449.4 888.0) scale(1.000 1.000)" fill="#e0430f" opacity="1.00"><ellipse cx="-1" cy="-27.8" rx="2.4" ry="2.9"/><path d="M-5,-23.5 Q-1,-25.5 3.5,-23.5 L5,-12 L12.5,-10 L16.5,1 L12.8,2.5 L9.5,-4.5 L7,-4.5 L9,3.5 L5.5,4.5 L2.5,-4 L-3.5,-5 Q-6,-10 -5,-23.5 Z"/></g>
<ellipse cx="947.8" cy="893.4" rx="8" ry="2.2" fill="#6f8a30" opacity="0.28" transform="rotate(-18 954.8 892.9)"/><g transform="translate(954.8 892.9) scale(1.000 1.000)" fill="#e0430f" opacity="1.00"><ellipse cx="0.3" cy="-33.1" rx="2.4" ry="2.9"/><path d="M-1.2,-30.6 L1.8,-30.6 Q4.8,-30 5.2,-27 L5.8,-17.5 L4.4,-16.8 L4.1,-23 L3.9,-15 L4.2,0 L1.3,0.2 L0.5,-13 L-0.1,-13 L-0.9,1 L-3.9,1 L-3.7,-15 L-3.6,-23 L-4.2,-17 L-5.6,-17.6 L-4.8,-27 Q-4.4,-30 -1.2,-30.6 Z"/></g>
<ellipse cx="1533.2" cy="901.1" rx="8" ry="2.2" fill="#6f8a30" opacity="0.28" transform="rotate(-18 1540.2 900.6)"/><g transform="translate(1540.2 900.6) scale(1.000 1.000)" fill="#e0430f" opacity="1.00"><ellipse cx="0.3" cy="-33.1" rx="2.4" ry="2.9"/><path d="M-1.2,-30.6 L1.8,-30.6 Q4.8,-30 5.2,-27 L5.8,-17.5 L4.4,-16.8 L4.1,-23 L3.9,-15 L4.2,0 L1.3,0.2 L0.5,-13 L-0.1,-13 L-0.9,1 L-3.9,1 L-3.7,-15 L-3.6,-23 L-4.2,-17 L-5.6,-17.6 L-4.8,-27 Q-4.4,-30 -1.2,-30.6 Z"/></g>
<ellipse cx="1581.2" cy="902.3" rx="8" ry="2.2" fill="#6f8a30" opacity="0.28" transform="rotate(-18 1588.2 901.8)"/><g transform="translate(1588.2 901.8) scale(1.000 1.000)" fill="#e0430f" opacity="1.00"><ellipse cx="0.3" cy="-33.1" rx="2.4" ry="2.9"/><path d="M-1.2,-30.6 L1.8,-30.6 Q4.8,-30 5.2,-27 L5.8,-17.5 L4.4,-16.8 L4.1,-23 L3.9,-15 L4.2,0 L1.3,0.2 L0.5,-13 L-0.1,-13 L-0.9,1 L-3.9,1 L-3.7,-15 L-3.6,-23 L-4.2,-17 L-5.6,-17.6 L-4.8,-27 Q-4.4,-30 -1.2,-30.6 Z"/></g>
<ellipse cx="1414.7" cy="903.6" rx="8" ry="2.2" fill="#6f8a30" opacity="0.28" transform="rotate(-18 1421.7 903.1)"/><g transform="translate(1421.7 903.1) scale(1.000 1.000)" fill="#e0430f" opacity="1.00"><ellipse cx="-1" cy="-27.8" rx="2.4" ry="2.9"/><path d="M-5,-23.5 Q-1,-25.5 3.5,-23.5 L5,-12 L12.5,-10 L16.5,1 L12.8,2.5 L9.5,-4.5 L7,-4.5 L9,3.5 L5.5,4.5 L2.5,-4 L-3.5,-5 Q-6,-10 -5,-23.5 Z"/></g>
<ellipse cx="916.3" cy="907.3" rx="8" ry="2.2" fill="#6f8a30" opacity="0.28" transform="rotate(-18 923.3 906.8)"/><g transform="translate(923.3 906.8) scale(1.000 1.000)" fill="#e0430f" opacity="1.00"><ellipse cx="-1" cy="-27.8" rx="2.4" ry="2.9"/><path d="M-5,-23.5 Q-1,-25.5 3.5,-23.5 L5,-12 L12.5,-10 L16.5,1 L12.8,2.5 L9.5,-4.5 L7,-4.5 L9,3.5 L5.5,4.5 L2.5,-4 L-3.5,-5 Q-6,-10 -5,-23.5 Z"/></g>
<ellipse cx="1403.3" cy="907.4" rx="8" ry="2.2" fill="#6f8a30" opacity="0.28" transform="rotate(-18 1410.3 906.9)"/><g transform="translate(1410.3 906.9) scale(1.000 1.000)" fill="#e0430f" opacity="1.00"><ellipse cx="-1" cy="-27.8" rx="2.4" ry="2.9"/><path d="M-5,-23.5 Q-1,-25.5 3.5,-23.5 L5,-12 L12.5,-10 L16.5,1 L12.8,2.5 L9.5,-4.5 L7,-4.5 L9,3.5 L5.5,4.5 L2.5,-4 L-3.5,-5 Q-6,-10 -5,-23.5 Z"/></g>
<ellipse cx="1501.7" cy="913.7" rx="8" ry="2.2" fill="#6f8a30" opacity="0.28" transform="rotate(-18 1508.7 913.2)"/><g transform="translate(1508.7 913.2) scale(1.000 1.000)" fill="#e0430f" opacity="1.00"><ellipse cx="-1" cy="-27.8" rx="2.4" ry="2.9"/><path d="M-5,-23.5 Q-1,-25.5 3.5,-23.5 L5,-12 L12.5,-10 L16.5,1 L12.8,2.5 L9.5,-4.5 L7,-4.5 L9,3.5 L5.5,4.5 L2.5,-4 L-3.5,-5 Q-6,-10 -5,-23.5 Z"/></g>
<ellipse cx="1525.7" cy="930.1" rx="8" ry="2.2" fill="#6f8a30" opacity="0.28" transform="rotate(-18 1532.7 929.6)"/><g transform="translate(1532.7 929.6) scale(1.000 1.000)" fill="#e0430f" opacity="1.00"><ellipse cx="0.3" cy="-33.1" rx="2.4" ry="2.9"/><path d="M-1.2,-30.6 L1.8,-30.6 Q4.8,-30 5.2,-27 L5.8,-17.5 L4.4,-16.8 L4.1,-23 L3.9,-15 L4.2,0 L1.3,0.2 L0.5,-13 L-0.1,-13 L-0.9,1 L-3.9,1 L-3.7,-15 L-3.6,-23 L-4.2,-17 L-5.6,-17.6 L-4.8,-27 Q-4.4,-30 -1.2,-30.6 Z"/></g>
<ellipse cx="1369.2" cy="937.6" rx="8" ry="2.2" fill="#6f8a30" opacity="0.28" transform="rotate(-18 1376.2 937.1)"/><g transform="translate(1376.2 937.1) scale(1.000 1.000)" fill="#e0430f" opacity="1.00"><ellipse cx="0.3" cy="-33.1" rx="2.4" ry="2.9"/><path d="M-1.2,-30.6 L1.8,-30.6 Q4.8,-30 5.2,-27 L5.8,-17.5 L4.4,-16.8 L4.1,-23 L3.9,-15 L4.2,0 L1.3,0.2 L0.5,-13 L-0.1,-13 L-0.9,1 L-3.9,1 L-3.7,-15 L-3.6,-23 L-4.2,-17 L-5.6,-17.6 L-4.8,-27 Q-4.4,-30 -1.2,-30.6 Z"/></g>
<ellipse cx="825.5" cy="942.6" rx="8" ry="2.2" fill="#6f8a30" opacity="0.28" transform="rotate(-18 832.5 942.1)"/><g transform="translate(832.5 942.1) scale(1.000 1.000)" fill="#e0430f" opacity="1.00"><ellipse cx="0.3" cy="-33.1" rx="2.4" ry="2.9"/><path d="M-1.2,-30.6 L1.8,-30.6 Q4.8,-30 5.2,-27 L5.8,-17.5 L4.4,-16.8 L4.1,-23 L3.9,-15 L4.2,0 L1.3,0.2 L0.5,-13 L-0.1,-13 L-0.9,1 L-3.9,1 L-3.7,-15 L-3.6,-23 L-4.2,-17 L-5.6,-17.6 L-4.8,-27 Q-4.4,-30 -1.2,-30.6 Z"/></g>
<ellipse cx="1935.0" cy="950.8" rx="8" ry="2.2" fill="#6f8a30" opacity="0.28" transform="rotate(-18 1942.0 950.3)"/><g transform="translate(1942.0 950.3) scale(1.000 1.000)" fill="#e0430f" opacity="1.00"><ellipse cx="0.3" cy="-33.1" rx="2.4" ry="2.9"/><path d="M-1.2,-30.6 L1.8,-30.6 Q4.8,-30 5.2,-27 L5.8,-17.5 L4.4,-16.8 L4.1,-23 L3.9,-15 L4.2,0 L1.3,0.2 L0.5,-13 L-0.1,-13 L-0.9,1 L-3.9,1 L-3.7,-15 L-3.6,-23 L-4.2,-17 L-5.6,-17.6 L-4.8,-27 Q-4.4,-30 -1.2,-30.6 Z"/></g>
<ellipse cx="1429.8" cy="951.5" rx="8" ry="2.2" fill="#6f8a30" opacity="0.28" transform="rotate(-18 1436.8 951.0)"/><g transform="translate(1436.8 951.0) scale(1.000 1.000)" fill="#e0430f" opacity="1.00"><ellipse cx="0.3" cy="-33.1" rx="2.4" ry="2.9"/><path d="M-1.2,-30.6 L1.8,-30.6 Q4.8,-30 5.2,-27 L5.8,-17.5 L4.4,-16.8 L4.1,-23 L3.9,-15 L4.2,0 L1.3,0.2 L0.5,-13 L-0.1,-13 L-0.9,1 L-3.9,1 L-3.7,-15 L-3.6,-23 L-4.2,-17 L-5.6,-17.6 L-4.8,-27 Q-4.4,-30 -1.2,-30.6 Z"/></g>
<ellipse cx="1417.2" cy="954.0" rx="8" ry="2.2" fill="#6f8a30" opacity="0.28" transform="rotate(-18 1424.2 953.5)"/><g transform="translate(1424.2 953.5) scale(1.000 1.000)" fill="#e0430f" opacity="1.00"><ellipse cx="0.3" cy="-33.1" rx="2.4" ry="2.9"/><path d="M-1.2,-30.6 L1.8,-30.6 Q4.8,-30 5.2,-27 L5.8,-17.5 L4.4,-16.8 L4.1,-23 L3.9,-15 L4.2,0 L1.3,0.2 L0.5,-13 L-0.1,-13 L-0.9,1 L-3.9,1 L-3.7,-15 L-3.6,-23 L-4.2,-17 L-5.6,-17.6 L-4.8,-27 Q-4.4,-30 -1.2,-30.6 Z"/></g>
<ellipse cx="1810.2" cy="958.4" rx="8" ry="2.2" fill="#6f8a30" opacity="0.28" transform="rotate(-18 1817.2 957.9)"/><g transform="translate(1817.2 957.9) scale(1.000 1.000)" fill="#e0430f" opacity="1.00"><ellipse cx="0.3" cy="-33.1" rx="2.4" ry="2.9"/><path d="M-1.2,-30.6 L1.8,-30.6 Q4.8,-30 5.2,-27 L5.8,-17.5 L4.4,-16.8 L4.1,-23 L3.9,-15 L4.2,0 L1.3,0.2 L0.5,-13 L-0.1,-13 L-0.9,1 L-3.9,1 L-3.7,-15 L-3.6,-23 L-4.2,-17 L-5.6,-17.6 L-4.8,-27 Q-4.4,-30 -1.2,-30.6 Z"/></g>
<g transform="translate(1192.1 976.3) scale(1.000 1.000)" fill="#e0430f" opacity="0.60"><ellipse cx="-1" cy="-27.8" rx="2.4" ry="2.9"/><path d="M-5,-23.5 Q-1,-25.5 3.5,-23.5 L5,-12 L12.5,-10 L16.5,1 L12.8,2.5 L9.5,-4.5 L7,-4.5 L9,3.5 L5.5,4.5 L2.5,-4 L-3.5,-5 Q-6,-10 -5,-23.5 Z"/></g>
<g transform="translate(1164.3 992.6) scale(1.000 1.000)" fill="#e0430f" opacity="0.60"><ellipse cx="-1" cy="-27.8" rx="2.4" ry="2.9"/><path d="M-5,-23.5 Q-1,-25.5 3.5,-23.5 L5,-12 L12.5,-10 L16.5,1 L12.8,2.5 L9.5,-4.5 L7,-4.5 L9,3.5 L5.5,4.5 L2.5,-4 L-3.5,-5 Q-6,-10 -5,-23.5 Z"/></g>
<g transform="translate(1154.2 995.2) scale(1.000 1.000)" fill="#e0430f" opacity="0.60"><ellipse cx="-1" cy="-27.8" rx="2.4" ry="2.9"/><path d="M-5,-23.5 Q-1,-25.5 3.5,-23.5 L5,-12 L12.5,-10 L16.5,1 L12.8,2.5 L9.5,-4.5 L7,-4.5 L9,3.5 L5.5,4.5 L2.5,-4 L-3.5,-5 Q-6,-10 -5,-23.5 Z"/></g>
<g transform="translate(1127.8 1005.3) scale(1.000 1.000)" fill="#e0430f" opacity="0.60"><ellipse cx="0.3" cy="-33.1" rx="2.4" ry="2.9"/><path d="M-1.2,-30.6 L1.8,-30.6 Q4.8,-30 5.2,-27 L5.8,-17.5 L4.4,-16.8 L4.1,-23 L3.9,-15 L4.2,0 L1.3,0.2 L0.5,-13 L-0.1,-13 L-0.9,1 L-3.9,1 L-3.7,-15 L-3.6,-23 L-4.2,-17 L-5.6,-17.6 L-4.8,-27 Q-4.4,-30 -1.2,-30.6 Z"/></g>
<g transform="translate(1136.6 1009.0) scale(1.000 1.000)" fill="#e0430f" opacity="0.60"><ellipse cx="0.3" cy="-33.1" rx="2.4" ry="2.9"/><path d="M-1.2,-30.6 L1.8,-30.6 Q4.8,-30 5.2,-27 L5.8,-17.5 L4.4,-16.8 L4.1,-23 L3.9,-15 L4.2,0 L1.3,0.2 L0.5,-13 L-0.1,-13 L-0.9,1 L-3.9,1 L-3.7,-15 L-3.6,-23 L-4.2,-17 L-5.6,-17.6 L-4.8,-27 Q-4.4,-30 -1.2,-30.6 Z"/></g>
<ellipse cx="1246.9" cy="1023.4" rx="8" ry="2.2" fill="#6f8a30" opacity="0.28" transform="rotate(-18 1253.9 1022.9)"/><g transform="translate(1253.9 1022.9) scale(1.000 1.000)" fill="#e0430f" opacity="1.00"><ellipse cx="0.3" cy="-33.1" rx="2.4" ry="2.9"/><path d="M-1.2,-30.6 L1.8,-30.6 Q4.8,-30 5.2,-27 L5.8,-17.5 L4.4,-16.8 L4.1,-23 L3.9,-15 L4.2,0 L1.3,0.2 L0.5,-13 L-0.1,-13 L-0.9,1 L-3.9,1 L-3.7,-15 L-3.6,-23 L-4.2,-17 L-5.6,-17.6 L-4.8,-27 Q-4.4,-30 -1.2,-30.6 Z"/><path d="M3,-29 L13.5,-25 L13,-23 L3.5,-24.5 Z"/></g>
<ellipse cx="1656.3" cy="1061.8" rx="8" ry="2.2" fill="#6f8a30" opacity="0.28" transform="rotate(-18 1663.3 1061.3)"/><g transform="translate(1663.3 1061.3) scale(1.000 1.000)" fill="#e0430f" opacity="1.00"><ellipse cx="0.3" cy="-33.1" rx="2.4" ry="2.9"/><path d="M-1.2,-30.6 L1.8,-30.6 Q4.8,-30 5.2,-27 L5.8,-17.5 L4.4,-16.8 L4.1,-23 L3.9,-15 L4.2,0 L1.3,0.2 L0.5,-13 L-0.1,-13 L-0.9,1 L-3.9,1 L-3.7,-15 L-3.6,-23 L-4.2,-17 L-5.6,-17.6 L-4.8,-27 Q-4.4,-30 -1.2,-30.6 Z"/></g>
<ellipse cx="964.9" cy="1069.1" rx="8" ry="2.2" fill="#6f8a30" opacity="0.28" transform="rotate(-18 971.9 1068.6)"/><g transform="translate(971.9 1068.6) scale(1.000 1.000)" fill="#e0430f" opacity="1.00"><ellipse cx="0.3" cy="-33.1" rx="2.4" ry="2.9"/><path d="M-1.2,-30.6 L1.8,-30.6 Q4.8,-30 5.2,-27 L5.8,-17.5 L4.4,-16.8 L4.1,-23 L3.9,-15 L4.2,0 L1.3,0.2 L0.5,-13 L-0.1,-13 L-0.9,1 L-3.9,1 L-3.7,-15 L-3.6,-23 L-4.2,-17 L-5.6,-17.6 L-4.8,-27 Q-4.4,-30 -1.2,-30.6 Z"/></g>
<ellipse cx="893.0" cy="1090.5" rx="8" ry="2.2" fill="#6f8a30" opacity="0.28" transform="rotate(-18 900.0 1090.0)"/><g transform="translate(900.0 1090.0) scale(1.000 1.000)" fill="#e0430f" opacity="1.00"><ellipse cx="-1" cy="-27.8" rx="2.4" ry="2.9"/><path d="M-5,-23.5 Q-1,-25.5 3.5,-23.5 L5,-12 L12.5,-10 L16.5,1 L12.8,2.5 L9.5,-4.5 L7,-4.5 L9,3.5 L5.5,4.5 L2.5,-4 L-3.5,-5 Q-6,-10 -5,-23.5 Z"/></g>
<ellipse cx="1425.3" cy="1099.3" rx="8" ry="2.2" fill="#6f8a30" opacity="0.28" transform="rotate(-18 1432.3 1098.8)"/><g transform="translate(1432.3 1098.8) scale(1.000 1.000)" fill="#e0430f" opacity="1.00"><ellipse cx="0.3" cy="-33.1" rx="2.4" ry="2.9"/><path d="M-1.2,-30.6 L1.8,-30.6 Q4.8,-30 5.2,-27 L5.8,-17.5 L4.4,-16.8 L4.1,-23 L3.9,-15 L4.2,0 L1.3,0.2 L0.5,-13 L-0.1,-13 L-0.9,1 L-3.9,1 L-3.7,-15 L-3.6,-23 L-4.2,-17 L-5.6,-17.6 L-4.8,-27 Q-4.4,-30 -1.2,-30.6 Z"/></g>
<ellipse cx="1347.1" cy="1106.9" rx="8" ry="2.2" fill="#6f8a30" opacity="0.28" transform="rotate(-18 1354.1 1106.4)"/><g transform="translate(1354.1 1106.4) scale(1.000 1.000)" fill="#e0430f" opacity="1.00"><ellipse cx="-1" cy="-27.8" rx="2.4" ry="2.9"/><path d="M-5,-23.5 Q-1,-25.5 3.5,-23.5 L5,-12 L12.5,-10 L16.5,1 L12.8,2.5 L9.5,-4.5 L7,-4.5 L9,3.5 L5.5,4.5 L2.5,-4 L-3.5,-5 Q-6,-10 -5,-23.5 Z"/></g>
<ellipse cx="1342.0" cy="1108.2" rx="8" ry="2.2" fill="#6f8a30" opacity="0.28" transform="rotate(-18 1349.0 1107.7)"/><g transform="translate(1349.0 1107.7) scale(1.000 1.000)" fill="#e0430f" opacity="1.00"><ellipse cx="-1" cy="-27.8" rx="2.4" ry="2.9"/><path d="M-5,-23.5 Q-1,-25.5 3.5,-23.5 L5,-12 L12.5,-10 L16.5,1 L12.8,2.5 L9.5,-4.5 L7,-4.5 L9,3.5 L5.5,4.5 L2.5,-4 L-3.5,-5 Q-6,-10 -5,-23.5 Z"/></g>
<ellipse cx="928.3" cy="1115.7" rx="8" ry="2.2" fill="#6f8a30" opacity="0.28" transform="rotate(-18 935.3 1115.2)"/><g transform="translate(935.3 1115.2) scale(1.000 1.000)" fill="#e0430f" opacity="1.00"><ellipse cx="0.3" cy="-33.1" rx="2.4" ry="2.9"/><path d="M-1.2,-30.6 L1.8,-30.6 Q4.8,-30 5.2,-27 L5.8,-17.5 L4.4,-16.8 L4.1,-23 L3.9,-15 L4.2,0 L1.3,0.2 L0.5,-13 L-0.1,-13 L-0.9,1 L-3.9,1 L-3.7,-15 L-3.6,-23 L-4.2,-17 L-5.6,-17.6 L-4.8,-27 Q-4.4,-30 -1.2,-30.6 Z"/></g>
<ellipse cx="1463.2" cy="1118.3" rx="8" ry="2.2" fill="#6f8a30" opacity="0.28" transform="rotate(-18 1470.2 1117.8)"/><g transform="translate(1470.2 1117.8) scale(1.000 1.000)" fill="#e0430f" opacity="1.00"><ellipse cx="0.3" cy="-33.1" rx="2.4" ry="2.9"/><path d="M-1.2,-30.6 L1.8,-30.6 Q4.8,-30 5.2,-27 L5.8,-17.5 L4.4,-16.8 L4.1,-23 L3.9,-15 L4.2,0 L1.3,0.2 L0.5,-13 L-0.1,-13 L-0.9,1 L-3.9,1 L-3.7,-15 L-3.6,-23 L-4.2,-17 L-5.6,-17.6 L-4.8,-27 Q-4.4,-30 -1.2,-30.6 Z"/></g>
<ellipse cx="1297.9" cy="1118.3" rx="8" ry="2.2" fill="#6f8a30" opacity="0.28" transform="rotate(-18 1304.9 1117.8)"/><g transform="translate(1304.9 1117.8) scale(1.000 1.000)" fill="#e0430f" opacity="1.00"><ellipse cx="-1" cy="-27.8" rx="2.4" ry="2.9"/><path d="M-5,-23.5 Q-1,-25.5 3.5,-23.5 L5,-12 L12.5,-10 L16.5,1 L12.8,2.5 L9.5,-4.5 L7,-4.5 L9,3.5 L5.5,4.5 L2.5,-4 L-3.5,-5 Q-6,-10 -5,-23.5 Z"/></g>
<ellipse cx="1451.8" cy="1123.3" rx="8" ry="2.2" fill="#6f8a30" opacity="0.28" transform="rotate(-18 1458.8 1122.8)"/><g transform="translate(1458.8 1122.8) scale(1.000 1.000)" fill="#e0430f" opacity="1.00"><ellipse cx="0.3" cy="-33.1" rx="2.4" ry="2.9"/><path d="M-1.2,-30.6 L1.8,-30.6 Q4.8,-30 5.2,-27 L5.8,-17.5 L4.4,-16.8 L4.1,-23 L3.9,-15 L4.2,0 L1.3,0.2 L0.5,-13 L-0.1,-13 L-0.9,1 L-3.9,1 L-3.7,-15 L-3.6,-23 L-4.2,-17 L-5.6,-17.6 L-4.8,-27 Q-4.4,-30 -1.2,-30.6 Z"/></g>
<ellipse cx="1354.7" cy="1144.8" rx="8" ry="2.2" fill="#6f8a30" opacity="0.28" transform="rotate(-18 1361.7 1144.3)"/><g transform="translate(1361.7 1144.3) scale(1.000 1.000)" fill="#e0430f" opacity="1.00"><ellipse cx="-1" cy="-27.8" rx="2.4" ry="2.9"/><path d="M-5,-23.5 Q-1,-25.5 3.5,-23.5 L5,-12 L12.5,-10 L16.5,1 L12.8,2.5 L9.5,-4.5 L7,-4.5 L9,3.5 L5.5,4.5 L2.5,-4 L-3.5,-5 Q-6,-10 -5,-23.5 Z"/></g>
<ellipse cx="1313.0" cy="1154.8" rx="8" ry="2.2" fill="#6f8a30" opacity="0.28" transform="rotate(-18 1320.0 1154.3)"/><g transform="translate(1320.0 1154.3) scale(1.000 1.000)" fill="#e0430f" opacity="1.00"><ellipse cx="0.3" cy="-33.1" rx="2.4" ry="2.9"/><path d="M-1.2,-30.6 L1.8,-30.6 Q4.8,-30 5.2,-27 L5.8,-17.5 L4.4,-16.8 L4.1,-23 L3.9,-15 L4.2,0 L1.3,0.2 L0.5,-13 L-0.1,-13 L-0.9,1 L-3.9,1 L-3.7,-15 L-3.6,-23 L-4.2,-17 L-5.6,-17.6 L-4.8,-27 Q-4.4,-30 -1.2,-30.6 Z"/></g>
<ellipse cx="1387.5" cy="1158.6" rx="8" ry="2.2" fill="#6f8a30" opacity="0.28" transform="rotate(-18 1394.5 1158.1)"/><g transform="translate(1394.5 1158.1) scale(1.000 1.000)" fill="#e0430f" opacity="1.00"><ellipse cx="0.3" cy="-33.1" rx="2.4" ry="2.9"/><path d="M-1.2,-30.6 L1.8,-30.6 Q4.8,-30 5.2,-27 L5.8,-17.5 L4.4,-16.8 L4.1,-23 L3.9,-15 L4.2,0 L1.3,0.2 L0.5,-13 L-0.1,-13 L-0.9,1 L-3.9,1 L-3.7,-15 L-3.6,-23 L-4.2,-17 L-5.6,-17.6 L-4.8,-27 Q-4.4,-30 -1.2,-30.6 Z"/></g>
<ellipse cx="1183.1" cy="1170.0" rx="8" ry="2.2" fill="#6f8a30" opacity="0.28" transform="rotate(-18 1190.1 1169.5)"/><g transform="translate(1190.1 1169.5) scale(1.000 1.000)" fill="#e0430f" opacity="1.00"><ellipse cx="-1" cy="-27.8" rx="2.4" ry="2.9"/><path d="M-5,-23.5 Q-1,-25.5 3.5,-23.5 L5,-12 L12.5,-10 L16.5,1 L12.8,2.5 L9.5,-4.5 L7,-4.5 L9,3.5 L5.5,4.5 L2.5,-4 L-3.5,-5 Q-6,-10 -5,-23.5 Z"/></g>
<ellipse cx="1188.2" cy="1172.5" rx="8" ry="2.2" fill="#6f8a30" opacity="0.28" transform="rotate(-18 1195.2 1172.0)"/><g transform="translate(1195.2 1172.0) scale(1.000 1.000)" fill="#e0430f" opacity="1.00"><ellipse cx="-1" cy="-27.8" rx="2.4" ry="2.9"/><path d="M-5,-23.5 Q-1,-25.5 3.5,-23.5 L5,-12 L12.5,-10 L16.5,1 L12.8,2.5 L9.5,-4.5 L7,-4.5 L9,3.5 L5.5,4.5 L2.5,-4 L-3.5,-5 Q-6,-10 -5,-23.5 Z"/></g>
<ellipse cx="1309.3" cy="1176.3" rx="8" ry="2.2" fill="#6f8a30" opacity="0.28" transform="rotate(-18 1316.3 1175.8)"/><g transform="translate(1316.3 1175.8) scale(1.000 1.000)" fill="#e0430f" opacity="1.00"><ellipse cx="0.3" cy="-33.1" rx="2.4" ry="2.9"/><path d="M-1.2,-30.6 L1.8,-30.6 Q4.8,-30 5.2,-27 L5.8,-17.5 L4.4,-16.8 L4.1,-23 L3.9,-15 L4.2,0 L1.3,0.2 L0.5,-13 L-0.1,-13 L-0.9,1 L-3.9,1 L-3.7,-15 L-3.6,-23 L-4.2,-17 L-5.6,-17.6 L-4.8,-27 Q-4.4,-30 -1.2,-30.6 Z"/></g>
<ellipse cx="1258.8" cy="1180.1" rx="8" ry="2.2" fill="#6f8a30" opacity="0.28" transform="rotate(-18 1265.8 1179.6)"/><g transform="translate(1265.8 1179.6) scale(1.000 1.000)" fill="#e0430f" opacity="1.00"><ellipse cx="0.3" cy="-33.1" rx="2.4" ry="2.9"/><path d="M-1.2,-30.6 L1.8,-30.6 Q4.8,-30 5.2,-27 L5.8,-17.5 L4.4,-16.8 L4.1,-23 L3.9,-15 L4.2,0 L1.3,0.2 L0.5,-13 L-0.1,-13 L-0.9,1 L-3.9,1 L-3.7,-15 L-3.6,-23 L-4.2,-17 L-5.6,-17.6 L-4.8,-27 Q-4.4,-30 -1.2,-30.6 Z"/></g>
<ellipse cx="2242.2" cy="1189.5" rx="8" ry="2.2" fill="#6f8a30" opacity="0.28" transform="rotate(-18 2249.2 1189.0)"/><g transform="translate(2249.2 1189.0) scale(1.000 1.000)" fill="#e0430f" opacity="1.00"><ellipse cx="0.3" cy="-33.1" rx="2.4" ry="2.9"/><path d="M-1.2,-30.6 L1.8,-30.6 Q4.8,-30 5.2,-27 L5.8,-17.5 L4.4,-16.8 L4.1,-23 L3.9,-15 L4.2,0 L1.3,0.2 L0.5,-13 L-0.1,-13 L-0.9,1 L-3.9,1 L-3.7,-15 L-3.6,-23 L-4.2,-17 L-5.6,-17.6 L-4.8,-27 Q-4.4,-30 -1.2,-30.6 Z"/></g>
<ellipse cx="2220.8" cy="1193.3" rx="8" ry="2.2" fill="#6f8a30" opacity="0.28" transform="rotate(-18 2227.8 1192.8)"/><g transform="translate(2227.8 1192.8) scale(1.000 1.000)" fill="#e0430f" opacity="1.00"><ellipse cx="0.3" cy="-33.1" rx="2.4" ry="2.9"/><path d="M-1.2,-30.6 L1.8,-30.6 Q4.8,-30 5.2,-27 L5.8,-17.5 L4.4,-16.8 L4.1,-23 L3.9,-15 L4.2,0 L1.3,0.2 L0.5,-13 L-0.1,-13 L-0.9,1 L-3.9,1 L-3.7,-15 L-3.6,-23 L-4.2,-17 L-5.6,-17.6 L-4.8,-27 Q-4.4,-30 -1.2,-30.6 Z"/><path d="M3,-29 L13.5,-25 L13,-23 L3.5,-24.5 Z"/></g>
<ellipse cx="1169.2" cy="1195.2" rx="8" ry="2.2" fill="#6f8a30" opacity="0.28" transform="rotate(-18 1176.2 1194.7)"/><g transform="translate(1176.2 1194.7) scale(1.000 1.000)" fill="#e0430f" opacity="1.00"><g fill="none" stroke="#e0430f" stroke-width="1.1"><circle cx="-8" cy="-5" r="6.2"/><circle cx="9" cy="-10" r="6.2"/><path d="M-8,-5 L-1,-15 L6,-18 L9,-10 M-1,-15 L1,-8"/></g><ellipse cx="1.5" cy="-33" rx="2.4" ry="2.8"/><path d="M-3.5,-30 Q0,-31.5 4,-29 L8,-21 L6.5,-19.5 L3,-23 L2,-16 L4,-9 L1.5,-4 L-1,-5 L0,-10 L-4.5,-16 Q-6,-22 -3.5,-30 Z"/></g>
<ellipse cx="1209.6" cy="1210.4" rx="8" ry="2.2" fill="#6f8a30" opacity="0.28" transform="rotate(-18 1216.6 1209.9)"/><g transform="translate(1216.6 1209.9) scale(1.000 1.000)" fill="#e0430f" opacity="1.00"><ellipse cx="0.3" cy="-33.1" rx="2.4" ry="2.9"/><path d="M-1.2,-30.6 L1.8,-30.6 Q4.8,-30 5.2,-27 L5.8,-17.5 L4.4,-16.8 L4.1,-23 L3.9,-15 L4.2,0 L1.3,0.2 L0.5,-13 L-0.1,-13 L-0.9,1 L-3.9,1 L-3.7,-15 L-3.6,-23 L-4.2,-17 L-5.6,-17.6 L-4.8,-27 Q-4.4,-30 -1.2,-30.6 Z"/></g>
<ellipse cx="2229.6" cy="1211.0" rx="8" ry="2.2" fill="#6f8a30" opacity="0.28" transform="rotate(-18 2236.6 1210.5)"/><g transform="translate(2236.6 1210.5) scale(1.000 1.000)" fill="#e0430f" opacity="1.00"><ellipse cx="0.3" cy="-33.1" rx="2.4" ry="2.9"/><path d="M-1.2,-30.6 L1.8,-30.6 Q4.8,-30 5.2,-27 L5.8,-17.5 L4.4,-16.8 L4.1,-23 L3.9,-15 L4.2,0 L1.3,0.2 L0.5,-13 L-0.1,-13 L-0.9,1 L-3.9,1 L-3.7,-15 L-3.6,-23 L-4.2,-17 L-5.6,-17.6 L-4.8,-27 Q-4.4,-30 -1.2,-30.6 Z"/></g>
<ellipse cx="2249.8" cy="1214.8" rx="8" ry="2.2" fill="#6f8a30" opacity="0.28" transform="rotate(-18 2256.8 1214.3)"/><g transform="translate(2256.8 1214.3) scale(1.000 1.000)" fill="#e0430f" opacity="1.00"><ellipse cx="0.3" cy="-33.1" rx="2.4" ry="2.9"/><path d="M-1.2,-30.6 L1.8,-30.6 Q4.8,-30 5.2,-27 L5.8,-17.5 L4.4,-16.8 L4.1,-23 L3.9,-15 L4.2,0 L1.3,0.2 L0.5,-13 L-0.1,-13 L-0.9,1 L-3.9,1 L-3.7,-15 L-3.6,-23 L-4.2,-17 L-5.6,-17.6 L-4.8,-27 Q-4.4,-30 -1.2,-30.6 Z"/></g>
<ellipse cx="2205.7" cy="1224.9" rx="8" ry="2.2" fill="#6f8a30" opacity="0.28" transform="rotate(-18 2212.7 1224.4)"/><g transform="translate(2212.7 1224.4) scale(1.000 1.000)" fill="#e0430f" opacity="1.00"><ellipse cx="0.3" cy="-33.1" rx="2.4" ry="2.9"/><path d="M-1.2,-30.6 L1.8,-30.6 Q4.8,-30 5.2,-27 L5.8,-17.5 L4.4,-16.8 L4.1,-23 L3.9,-15 L4.2,0 L1.3,0.2 L0.5,-13 L-0.1,-13 L-0.9,1 L-3.9,1 L-3.7,-15 L-3.6,-23 L-4.2,-17 L-5.6,-17.6 L-4.8,-27 Q-4.4,-30 -1.2,-30.6 Z"/></g>
<ellipse cx="904.5" cy="1225.8" rx="8" ry="2.2" fill="#6f8a30" opacity="0.28" transform="rotate(-18 911.5 1225.3)"/><g transform="translate(911.5 1225.3) scale(1.000 1.000)" fill="#e0430f" opacity="1.00"><ellipse cx="0.3" cy="-33.1" rx="2.4" ry="2.9"/><path d="M-1.2,-30.6 L1.8,-30.6 Q4.8,-30 5.2,-27 L5.8,-17.5 L4.4,-16.8 L4.1,-23 L3.9,-15 L4.2,0 L1.3,0.2 L0.5,-13 L-0.1,-13 L-0.9,1 L-3.9,1 L-3.7,-15 L-3.6,-23 L-4.2,-17 L-5.6,-17.6 L-4.8,-27 Q-4.4,-30 -1.2,-30.6 Z"/></g>
<ellipse cx="1173.0" cy="1228.0" rx="8" ry="2.2" fill="#6f8a30" opacity="0.28" transform="rotate(-18 1180.0 1227.5)"/><g transform="translate(1180.0 1227.5) scale(1.000 1.000)" fill="#e0430f" opacity="1.00"><ellipse cx="0.3" cy="-33.1" rx="2.4" ry="2.9"/><path d="M-1.2,-30.6 L1.8,-30.6 Q4.8,-30 5.2,-27 L5.8,-17.5 L4.4,-16.8 L4.1,-23 L3.9,-15 L4.2,0 L1.3,0.2 L0.5,-13 L-0.1,-13 L-0.9,1 L-3.9,1 L-3.7,-15 L-3.6,-23 L-4.2,-17 L-5.6,-17.6 L-4.8,-27 Q-4.4,-30 -1.2,-30.6 Z"/><path d="M3,-29 L13.5,-25 L13,-23 L3.5,-24.5 Z"/></g>
<ellipse cx="870.9" cy="1230.5" rx="8" ry="2.2" fill="#6f8a30" opacity="0.28" transform="rotate(-18 877.9 1230.0)"/><g transform="translate(877.9 1230.0) scale(1.000 1.000)" fill="#e0430f" opacity="1.00"><ellipse cx="0.3" cy="-33.1" rx="2.4" ry="2.9"/><path d="M-1.2,-30.6 L1.8,-30.6 Q4.8,-30 5.2,-27 L5.8,-17.5 L4.4,-16.8 L4.1,-23 L3.9,-15 L4.2,0 L1.3,0.2 L0.5,-13 L-0.1,-13 L-0.9,1 L-3.9,1 L-3.7,-15 L-3.6,-23 L-4.2,-17 L-5.6,-17.6 L-4.8,-27 Q-4.4,-30 -1.2,-30.6 Z"/><path d="M3,-29 L13.5,-25 L13,-23 L3.5,-24.5 Z"/></g>
<g transform="translate(943.7 1236.3) scale(1.000 1.000)" fill="#e0430f" opacity="0.50"><ellipse cx="-1" cy="-27.8" rx="2.4" ry="2.9"/><path d="M-5,-23.5 Q-1,-25.5 3.5,-23.5 L5,-12 L12.5,-10 L16.5,1 L12.8,2.5 L9.5,-4.5 L7,-4.5 L9,3.5 L5.5,4.5 L2.5,-4 L-3.5,-5 Q-6,-10 -5,-23.5 Z"/></g>
<ellipse cx="2262.4" cy="1241.3" rx="8" ry="2.2" fill="#6f8a30" opacity="0.28" transform="rotate(-18 2269.4 1240.8)"/><g transform="translate(2269.4 1240.8) scale(1.000 1.000)" fill="#e0430f" opacity="1.00"><g fill="none" stroke="#e0430f" stroke-width="1.1"><circle cx="-8" cy="-5" r="6.2"/><circle cx="9" cy="-10" r="6.2"/><path d="M-8,-5 L-1,-15 L6,-18 L9,-10 M-1,-15 L1,-8"/></g><ellipse cx="1.5" cy="-33" rx="2.4" ry="2.8"/><path d="M-3.5,-30 Q0,-31.5 4,-29 L8,-21 L6.5,-19.5 L3,-23 L2,-16 L4,-9 L1.5,-4 L-1,-5 L0,-10 L-4.5,-16 Q-6,-22 -3.5,-30 Z"/></g>
<ellipse cx="891.2" cy="1247.0" rx="8" ry="2.2" fill="#6f8a30" opacity="0.28" transform="rotate(-18 898.2 1246.5)"/><g transform="translate(898.2 1246.5) scale(0.778 0.778)" fill="#e0430f" opacity="1.00"><ellipse cx="0.3" cy="-33.1" rx="2.4" ry="2.9"/><path d="M-1.2,-30.6 L1.8,-30.6 Q4.8,-30 5.2,-27 L5.8,-17.5 L4.4,-16.8 L4.1,-23 L3.9,-15 L4.2,0 L1.3,0.2 L0.5,-13 L-0.1,-13 L-0.9,1 L-3.9,1 L-3.7,-15 L-3.6,-23 L-4.2,-17 L-5.6,-17.6 L-4.8,-27 Q-4.4,-30 -1.2,-30.6 Z"/></g>
<ellipse cx="1984.9" cy="1250.1" rx="8" ry="2.2" fill="#6f8a30" opacity="0.28" transform="rotate(-18 1991.9 1249.6)"/><g transform="translate(1991.9 1249.6) scale(1.000 1.000)" fill="#e0430f" opacity="1.00"><ellipse cx="0.3" cy="-33.1" rx="2.4" ry="2.9"/><path d="M-1.2,-30.6 L1.8,-30.6 Q4.8,-30 5.2,-27 L5.8,-17.5 L4.4,-16.8 L4.1,-23 L3.9,-15 L4.2,0 L1.3,0.2 L0.5,-13 L-0.1,-13 L-0.9,1 L-3.9,1 L-3.7,-15 L-3.6,-23 L-4.2,-17 L-5.6,-17.6 L-4.8,-27 Q-4.4,-30 -1.2,-30.6 Z"/></g>
<ellipse cx="1145.3" cy="1254.5" rx="8" ry="2.2" fill="#6f8a30" opacity="0.28" transform="rotate(-18 1152.3 1254.0)"/><g transform="translate(1152.3 1254.0) scale(1.000 1.000)" fill="#e0430f" opacity="1.00"><ellipse cx="0.3" cy="-33.1" rx="2.4" ry="2.9"/><path d="M-1.2,-30.6 L1.8,-30.6 Q4.8,-30 5.2,-27 L5.8,-17.5 L4.4,-16.8 L4.1,-23 L3.9,-15 L4.2,0 L1.3,0.2 L0.5,-13 L-0.1,-13 L-0.9,1 L-3.9,1 L-3.7,-15 L-3.6,-23 L-4.2,-17 L-5.6,-17.6 L-4.8,-27 Q-4.4,-30 -1.2,-30.6 Z"/></g>
<ellipse cx="1976.1" cy="1258.9" rx="8" ry="2.2" fill="#6f8a30" opacity="0.28" transform="rotate(-18 1983.1 1258.4)"/><g transform="translate(1983.1 1258.4) scale(1.000 1.000)" fill="#e0430f" opacity="1.00"><ellipse cx="0.3" cy="-33.1" rx="2.4" ry="2.9"/><path d="M-1.2,-30.6 L1.8,-30.6 Q4.8,-30 5.2,-27 L5.8,-17.5 L4.4,-16.8 L4.1,-23 L3.9,-15 L4.2,0 L1.3,0.2 L0.5,-13 L-0.1,-13 L-0.9,1 L-3.9,1 L-3.7,-15 L-3.6,-23 L-4.2,-17 L-5.6,-17.6 L-4.8,-27 Q-4.4,-30 -1.2,-30.6 Z"/></g>
<ellipse cx="905.3" cy="1261.1" rx="8" ry="2.2" fill="#6f8a30" opacity="0.28" transform="rotate(-18 912.3 1260.6)"/><g transform="translate(912.3 1260.6) scale(1.167 1.167)" fill="#e0430f" opacity="1.00"><ellipse cx="0.3" cy="-33.1" rx="2.4" ry="2.9"/><path d="M-1.2,-30.6 L1.8,-30.6 Q4.8,-30 5.2,-27 L5.8,-17.5 L4.4,-16.8 L4.1,-23 L3.9,-15 L4.2,0 L1.3,0.2 L0.5,-13 L-0.1,-13 L-0.9,1 L-3.9,1 L-3.7,-15 L-3.6,-23 L-4.2,-17 L-5.6,-17.6 L-4.8,-27 Q-4.4,-30 -1.2,-30.6 Z"/></g>
<ellipse cx="2000.0" cy="1262.7" rx="8" ry="2.2" fill="#6f8a30" opacity="0.28" transform="rotate(-18 2007.0 1262.2)"/><g transform="translate(2007.0 1262.2) scale(1.000 1.000)" fill="#e0430f" opacity="1.00"><ellipse cx="0.3" cy="-33.1" rx="2.4" ry="2.9"/><path d="M-1.2,-30.6 L1.8,-30.6 Q4.8,-30 5.2,-27 L5.8,-17.5 L4.4,-16.8 L4.1,-23 L3.9,-15 L4.2,0 L1.3,0.2 L0.5,-13 L-0.1,-13 L-0.9,1 L-3.9,1 L-3.7,-15 L-3.6,-23 L-4.2,-17 L-5.6,-17.6 L-4.8,-27 Q-4.4,-30 -1.2,-30.6 Z"/></g>
<ellipse cx="917.1" cy="1268.9" rx="8" ry="2.2" fill="#6f8a30" opacity="0.28" transform="rotate(-18 924.1 1268.4)"/><g transform="translate(924.1 1268.4) scale(1.000 1.000)" fill="#e0430f" opacity="1.00"><ellipse cx="0.3" cy="-33.1" rx="2.4" ry="2.9"/><path d="M-1.2,-30.6 L1.8,-30.6 Q4.8,-30 5.2,-27 L5.8,-17.5 L4.4,-16.8 L4.1,-23 L3.9,-15 L4.2,0 L1.3,0.2 L0.5,-13 L-0.1,-13 L-0.9,1 L-3.9,1 L-3.7,-15 L-3.6,-23 L-4.2,-17 L-5.6,-17.6 L-4.8,-27 Q-4.4,-30 -1.2,-30.6 Z"/></g>
<ellipse cx="981.3" cy="1284.8" rx="8" ry="2.2" fill="#6f8a30" opacity="0.28" transform="rotate(-18 988.3 1284.3)"/><g transform="translate(988.3 1284.3) scale(1.000 1.000)" fill="#e0430f" opacity="1.00"><ellipse cx="0.3" cy="-33.1" rx="2.4" ry="2.9"/><path d="M-1.2,-30.6 L1.8,-30.6 Q4.8,-30 5.2,-27 L5.8,-17.5 L4.4,-16.8 L4.1,-23 L3.9,-15 L4.2,0 L1.3,0.2 L0.5,-13 L-0.1,-13 L-0.9,1 L-3.9,1 L-3.7,-15 L-3.6,-23 L-4.2,-17 L-5.6,-17.6 L-4.8,-27 Q-4.4,-30 -1.2,-30.6 Z"/></g>
<ellipse cx="971.2" cy="1289.8" rx="8" ry="2.2" fill="#6f8a30" opacity="0.28" transform="rotate(-18 978.2 1289.3)"/><g transform="translate(978.2 1289.3) scale(1.000 1.000)" fill="#e0430f" opacity="1.00"><ellipse cx="0.3" cy="-33.1" rx="2.4" ry="2.9"/><path d="M-1.2,-30.6 L1.8,-30.6 Q4.8,-30 5.2,-27 L5.8,-17.5 L4.4,-16.8 L4.1,-23 L3.9,-15 L4.2,0 L1.3,0.2 L0.5,-13 L-0.1,-13 L-0.9,1 L-3.9,1 L-3.7,-15 L-3.6,-23 L-4.2,-17 L-5.6,-17.6 L-4.8,-27 Q-4.4,-30 -1.2,-30.6 Z"/></g>
<ellipse cx="1755.2" cy="1290.2" rx="8" ry="2.2" fill="#6f8a30" opacity="0.28" transform="rotate(-18 1762.2 1289.7)"/><g transform="translate(1762.2 1289.7) scale(1.000 1.000)" fill="#e0430f" opacity="1.00"><ellipse cx="0.3" cy="-33.1" rx="2.4" ry="2.9"/><path d="M-1.2,-30.6 L1.8,-30.6 Q4.8,-30 5.2,-27 L5.8,-17.5 L4.4,-16.8 L4.1,-23 L3.9,-15 L4.2,0 L1.3,0.2 L0.5,-13 L-0.1,-13 L-0.9,1 L-3.9,1 L-3.7,-15 L-3.6,-23 L-4.2,-17 L-5.6,-17.6 L-4.8,-27 Q-4.4,-30 -1.2,-30.6 Z"/></g>
<ellipse cx="1731.3" cy="1292.7" rx="8" ry="2.2" fill="#6f8a30" opacity="0.28" transform="rotate(-18 1738.3 1292.2)"/><g transform="translate(1738.3 1292.2) scale(1.000 1.000)" fill="#e0430f" opacity="1.00"><ellipse cx="0.3" cy="-33.1" rx="2.4" ry="2.9"/><path d="M-1.2,-30.6 L1.8,-30.6 Q4.8,-30 5.2,-27 L5.8,-17.5 L4.4,-16.8 L4.1,-23 L3.9,-15 L4.2,0 L1.3,0.2 L0.5,-13 L-0.1,-13 L-0.9,1 L-3.9,1 L-3.7,-15 L-3.6,-23 L-4.2,-17 L-5.6,-17.6 L-4.8,-27 Q-4.4,-30 -1.2,-30.6 Z"/><path d="M3,-29 L13.5,-25 L13,-23 L3.5,-24.5 Z"/></g>
<ellipse cx="2038.0" cy="1303.5" rx="8" ry="2.2" fill="#6f8a30" opacity="0.28" transform="rotate(-18 2045.0 1303.0)"/><g transform="translate(2045.0 1303.0) scale(1.000 1.000)" fill="#e0430f" opacity="1.00"><ellipse cx="0.3" cy="-33.1" rx="2.4" ry="2.9"/><path d="M-1.2,-30.6 L1.8,-30.6 Q4.8,-30 5.2,-27 L5.8,-17.5 L4.4,-16.8 L4.1,-23 L3.9,-15 L4.2,0 L1.3,0.2 L0.5,-13 L-0.1,-13 L-0.9,1 L-3.9,1 L-3.7,-15 L-3.6,-23 L-4.2,-17 L-5.6,-17.6 L-4.8,-27 Q-4.4,-30 -1.2,-30.6 Z"/></g>
<ellipse cx="2058.0" cy="1307.5" rx="8" ry="2.2" fill="#6f8a30" opacity="0.28" transform="rotate(-18 2065.0 1307.0)"/><g transform="translate(2065.0 1307.0) scale(1.000 1.000)" fill="#e0430f" opacity="1.00"><ellipse cx="0.3" cy="-33.1" rx="2.4" ry="2.9"/><path d="M-1.2,-30.6 L1.8,-30.6 Q4.8,-30 5.2,-27 L5.8,-17.5 L4.4,-16.8 L4.1,-23 L3.9,-15 L4.2,0 L1.3,0.2 L0.5,-13 L-0.1,-13 L-0.9,1 L-3.9,1 L-3.7,-15 L-3.6,-23 L-4.2,-17 L-5.6,-17.6 L-4.8,-27 Q-4.4,-30 -1.2,-30.6 Z"/><path d="M3,-29 L13.5,-25 L13,-23 L3.5,-24.5 Z"/></g>
<ellipse cx="2005.5" cy="1363.5" rx="8" ry="2.2" fill="#6f8a30" opacity="0.28" transform="rotate(-18 2012.5 1363.0)"/><g transform="translate(2012.5 1363.0) scale(1.000 1.000)" fill="#e0430f" opacity="1.00"><ellipse cx="0.3" cy="-33.1" rx="2.4" ry="2.9"/><path d="M-1.2,-30.6 L1.8,-30.6 Q4.8,-30 5.2,-27 L5.8,-17.5 L4.4,-16.8 L4.1,-23 L3.9,-15 L4.2,0 L1.3,0.2 L0.5,-13 L-0.1,-13 L-0.9,1 L-3.9,1 L-3.7,-15 L-3.6,-23 L-4.2,-17 L-5.6,-17.6 L-4.8,-27 Q-4.4,-30 -1.2,-30.6 Z"/><path d="M3,-29 L13.5,-25 L13,-23 L3.5,-24.5 Z"/></g>
<ellipse cx="1698.5" cy="1365.9" rx="8" ry="2.2" fill="#6f8a30" opacity="0.28" transform="rotate(-18 1705.5 1365.4)"/><g transform="translate(1705.5 1365.4) scale(1.000 1.000)" fill="#e0430f" opacity="1.00"><ellipse cx="0.3" cy="-33.1" rx="2.4" ry="2.9"/><path d="M-1.2,-30.6 L1.8,-30.6 Q4.8,-30 5.2,-27 L5.8,-17.5 L4.4,-16.8 L4.1,-23 L3.9,-15 L4.2,0 L1.3,0.2 L0.5,-13 L-0.1,-13 L-0.9,1 L-3.9,1 L-3.7,-15 L-3.6,-23 L-4.2,-17 L-5.6,-17.6 L-4.8,-27 Q-4.4,-30 -1.2,-30.6 Z"/></g>
<ellipse cx="2029.0" cy="1366.0" rx="8" ry="2.2" fill="#6f8a30" opacity="0.28" transform="rotate(-18 2036.0 1365.5)"/><g transform="translate(2036.0 1365.5) scale(1.000 1.000)" fill="#e0430f" opacity="1.00"><ellipse cx="0.3" cy="-33.1" rx="2.4" ry="2.9"/><path d="M-1.2,-30.6 L1.8,-30.6 Q4.8,-30 5.2,-27 L5.8,-17.5 L4.4,-16.8 L4.1,-23 L3.9,-15 L4.2,0 L1.3,0.2 L0.5,-13 L-0.1,-13 L-0.9,1 L-3.9,1 L-3.7,-15 L-3.6,-23 L-4.2,-17 L-5.6,-17.6 L-4.8,-27 Q-4.4,-30 -1.2,-30.6 Z"/></g>
<ellipse cx="1762.8" cy="1368.4" rx="8" ry="2.2" fill="#6f8a30" opacity="0.28" transform="rotate(-18 1769.8 1367.9)"/><g transform="translate(1769.8 1367.9) scale(1.000 1.000)" fill="#e0430f" opacity="1.00"><ellipse cx="0.3" cy="-33.1" rx="2.4" ry="2.9"/><path d="M-1.2,-30.6 L1.8,-30.6 Q4.8,-30 5.2,-27 L5.8,-17.5 L4.4,-16.8 L4.1,-23 L3.9,-15 L4.2,0 L1.3,0.2 L0.5,-13 L-0.1,-13 L-0.9,1 L-3.9,1 L-3.7,-15 L-3.6,-23 L-4.2,-17 L-5.6,-17.6 L-4.8,-27 Q-4.4,-30 -1.2,-30.6 Z"/></g>
<ellipse cx="1733.8" cy="1370.9" rx="8" ry="2.2" fill="#6f8a30" opacity="0.28" transform="rotate(-18 1740.8 1370.4)"/><g transform="translate(1740.8 1370.4) scale(1.000 1.000)" fill="#e0430f" opacity="1.00"><ellipse cx="0.3" cy="-33.1" rx="2.4" ry="2.9"/><path d="M-1.2,-30.6 L1.8,-30.6 Q4.8,-30 5.2,-27 L5.8,-17.5 L4.4,-16.8 L4.1,-23 L3.9,-15 L4.2,0 L1.3,0.2 L0.5,-13 L-0.1,-13 L-0.9,1 L-3.9,1 L-3.7,-15 L-3.6,-23 L-4.2,-17 L-5.6,-17.6 L-4.8,-27 Q-4.4,-30 -1.2,-30.6 Z"/></g>
<ellipse cx="1781.7" cy="1372.2" rx="8" ry="2.2" fill="#6f8a30" opacity="0.28" transform="rotate(-18 1788.7 1371.7)"/><g transform="translate(1788.7 1371.7) scale(1.000 1.000)" fill="#e0430f" opacity="1.00"><ellipse cx="0.3" cy="-33.1" rx="2.4" ry="2.9"/><path d="M-1.2,-30.6 L1.8,-30.6 Q4.8,-30 5.2,-27 L5.8,-17.5 L4.4,-16.8 L4.1,-23 L3.9,-15 L4.2,0 L1.3,0.2 L0.5,-13 L-0.1,-13 L-0.9,1 L-3.9,1 L-3.7,-15 L-3.6,-23 L-4.2,-17 L-5.6,-17.6 L-4.8,-27 Q-4.4,-30 -1.2,-30.6 Z"/><path d="M3,-29 L13.5,-25 L13,-23 L3.5,-24.5 Z"/></g>
<ellipse cx="1708.6" cy="1374.7" rx="8" ry="2.2" fill="#6f8a30" opacity="0.28" transform="rotate(-18 1715.6 1374.2)"/><g transform="translate(1715.6 1374.2) scale(1.000 1.000)" fill="#e0430f" opacity="1.00"><ellipse cx="0.3" cy="-33.1" rx="2.4" ry="2.9"/><path d="M-1.2,-30.6 L1.8,-30.6 Q4.8,-30 5.2,-27 L5.8,-17.5 L4.4,-16.8 L4.1,-23 L3.9,-15 L4.2,0 L1.3,0.2 L0.5,-13 L-0.1,-13 L-0.9,1 L-3.9,1 L-3.7,-15 L-3.6,-23 L-4.2,-17 L-5.6,-17.6 L-4.8,-27 Q-4.4,-30 -1.2,-30.6 Z"/></g>
<ellipse cx="2127.0" cy="1467.5" rx="8" ry="2.2" fill="#6f8a30" opacity="0.28" transform="rotate(-18 2134.0 1467.0)"/><g transform="translate(2134.0 1467.0) scale(1.000 1.000)" fill="#e0430f" opacity="1.00"><ellipse cx="0.3" cy="-33.1" rx="2.4" ry="2.9"/><path d="M-1.2,-30.6 L1.8,-30.6 Q4.8,-30 5.2,-27 L5.8,-17.5 L4.4,-16.8 L4.1,-23 L3.9,-15 L4.2,0 L1.3,0.2 L0.5,-13 L-0.1,-13 L-0.9,1 L-3.9,1 L-3.7,-15 L-3.6,-23 L-4.2,-17 L-5.6,-17.6 L-4.8,-27 Q-4.4,-30 -1.2,-30.6 Z"/></g>
<ellipse cx="2104.0" cy="1470.0" rx="8" ry="2.2" fill="#6f8a30" opacity="0.28" transform="rotate(-18 2111.0 1469.5)"/><g transform="translate(2111.0 1469.5) scale(1.000 1.000)" fill="#e0430f" opacity="1.00"><ellipse cx="0.3" cy="-33.1" rx="2.4" ry="2.9"/><path d="M-1.2,-30.6 L1.8,-30.6 Q4.8,-30 5.2,-27 L5.8,-17.5 L4.4,-16.8 L4.1,-23 L3.9,-15 L4.2,0 L1.3,0.2 L0.5,-13 L-0.1,-13 L-0.9,1 L-3.9,1 L-3.7,-15 L-3.6,-23 L-4.2,-17 L-5.6,-17.6 L-4.8,-27 Q-4.4,-30 -1.2,-30.6 Z"/><path d="M3,-29 L13.5,-25 L13,-23 L3.5,-24.5 Z"/></g>
<line x1="1679.0" y1="531.0" x2="1680.0" y2="582.5" stroke="#596b1f" stroke-width="6.50" stroke-linecap="butt"/>
<polygon points="1712.9,482.4 1713.3,488.2 1713.0,494.0 1712.1,499.6 1710.6,505.0 1708.5,510.2 1705.8,515.0 1702.5,519.4 1698.7,523.4 1694.3,526.8 1689.6,529.7 1684.5,532.1 1679.2,533.8 1673.6,534.9 1668.0,535.3 1662.3,535.1 1656.7,534.2 1651.3,532.7 1646.2,530.6 1641.3,527.8 1636.9,524.5 1632.9,520.7 1629.5,516.4 1626.6,511.7 1624.2,506.7 1622.5,501.3 1621.4,495.7 1620.9,490.0 1621.1,484.2 1621.7,478.3 1623.0,472.6 1624.7,466.9 1627.0,461.5 1629.6,456.3 1632.7,451.5 1636.1,447.1 1639.8,443.2 1643.8,439.7 1648.0,436.8 1652.3,434.5 1656.8,432.8 1661.4,431.7 1666.0,431.3 1670.7,431.5 1675.3,432.4 1679.8,434.0 1684.2,436.1 1688.5,438.9 1692.6,442.2 1696.5,446.0 1700.1,450.2 1703.3,454.9 1706.2,460.0 1708.6,465.3 1710.6,470.9 1712.0,476.6" fill="url(#tree)"/>
<polygon points="1712.9,482.4 1713.3,488.2 1713.0,494.0 1712.1,499.6 1710.6,505.0 1708.5,510.2 1705.8,515.0 1702.5,519.4 1698.7,523.4 1694.3,526.8 1689.6,529.7 1684.5,532.1 1679.2,533.8 1673.6,534.9 1668.0,535.3 1662.3,535.1 1656.7,534.2 1651.3,532.7 1646.2,530.6 1641.3,527.8 1636.9,524.5 1632.9,520.7 1629.5,516.4 1626.6,511.7 1624.2,506.7 1622.5,501.3 1621.4,495.7 1620.9,490.0 1621.1,484.2 1621.7,478.3 1623.0,472.6 1624.7,466.9 1627.0,461.5 1629.6,456.3 1632.7,451.5 1636.1,447.1 1639.8,443.2 1643.8,439.7 1648.0,436.8 1652.3,434.5 1656.8,432.8 1661.4,431.7 1666.0,431.3 1670.7,431.5 1675.3,432.4 1679.8,434.0 1684.2,436.1 1688.5,438.9 1692.6,442.2 1696.5,446.0 1700.1,450.2 1703.3,454.9 1706.2,460.0 1708.6,465.3 1710.6,470.9 1712.0,476.6" fill="url(#treerim)"/>
<polygon points="1712.9,482.4 1713.3,488.2 1713.0,494.0 1712.1,499.6 1710.6,505.0 1708.5,510.2 1705.8,515.0 1702.5,519.4 1698.7,523.4 1694.3,526.8 1689.6,529.7 1684.5,532.1 1679.2,533.8 1673.6,534.9 1668.0,535.3 1662.3,535.1 1656.7,534.2 1651.3,532.7 1646.2,530.6 1641.3,527.8 1636.9,524.5 1632.9,520.7 1629.5,516.4 1626.6,511.7 1624.2,506.7 1622.5,501.3 1621.4,495.7 1620.9,490.0 1621.1,484.2 1621.7,478.3 1623.0,472.6 1624.7,466.9 1627.0,461.5 1629.6,456.3 1632.7,451.5 1636.1,447.1 1639.8,443.2 1643.8,439.7 1648.0,436.8 1652.3,434.5 1656.8,432.8 1661.4,431.7 1666.0,431.3 1670.7,431.5 1675.3,432.4 1679.8,434.0 1684.2,436.1 1688.5,438.9 1692.6,442.2 1696.5,446.0 1700.1,450.2 1703.3,454.9 1706.2,460.0 1708.6,465.3 1710.6,470.9 1712.0,476.6" fill="url(#treebot)"/>
<line x1="1570.0" y1="563.5" x2="1579.0" y2="606.0" stroke="#596b1f" stroke-width="6.50" stroke-linecap="butt"/>
<polygon points="1613.1,503.8 1614.6,509.8 1615.5,515.8 1615.8,521.8 1615.5,527.7 1614.6,533.4 1613.1,538.8 1611.0,544.0 1608.3,548.7 1605.1,553.0 1601.3,556.9 1597.2,560.2 1592.7,562.9 1587.8,564.9 1582.8,566.3 1577.6,567.1 1572.3,567.1 1567.1,566.5 1562.0,565.1 1557.1,563.1 1552.4,560.4 1548.0,557.2 1544.0,553.3 1540.4,548.9 1537.3,544.1 1534.7,538.8 1532.6,533.2 1531.0,527.3 1529.9,521.2 1529.4,515.0 1529.3,508.8 1529.8,502.7 1530.8,496.7 1532.2,490.9 1534.0,485.3 1536.2,480.2 1538.8,475.4 1541.7,471.2 1544.9,467.4 1548.4,464.3 1552.1,461.8 1556.1,459.9 1560.2,458.7 1564.5,458.1 1568.8,458.3 1573.3,459.1 1577.7,460.6 1582.2,462.7 1586.6,465.4 1590.8,468.7 1594.9,472.5 1598.8,476.9 1602.4,481.6 1605.7,486.8 1608.6,492.2 1611.1,497.9" fill="url(#tree)"/>
<polygon points="1613.1,503.8 1614.6,509.8 1615.5,515.8 1615.8,521.8 1615.5,527.7 1614.6,533.4 1613.1,538.8 1611.0,544.0 1608.3,548.7 1605.1,553.0 1601.3,556.9 1597.2,560.2 1592.7,562.9 1587.8,564.9 1582.8,566.3 1577.6,567.1 1572.3,567.1 1567.1,566.5 1562.0,565.1 1557.1,563.1 1552.4,560.4 1548.0,557.2 1544.0,553.3 1540.4,548.9 1537.3,544.1 1534.7,538.8 1532.6,533.2 1531.0,527.3 1529.9,521.2 1529.4,515.0 1529.3,508.8 1529.8,502.7 1530.8,496.7 1532.2,490.9 1534.0,485.3 1536.2,480.2 1538.8,475.4 1541.7,471.2 1544.9,467.4 1548.4,464.3 1552.1,461.8 1556.1,459.9 1560.2,458.7 1564.5,458.1 1568.8,458.3 1573.3,459.1 1577.7,460.6 1582.2,462.7 1586.6,465.4 1590.8,468.7 1594.9,472.5 1598.8,476.9 1602.4,481.6 1605.7,486.8 1608.6,492.2 1611.1,497.9" fill="url(#treerim)"/>
<polygon points="1613.1,503.8 1614.6,509.8 1615.5,515.8 1615.8,521.8 1615.5,527.7 1614.6,533.4 1613.1,538.8 1611.0,544.0 1608.3,548.7 1605.1,553.0 1601.3,556.9 1597.2,560.2 1592.7,562.9 1587.8,564.9 1582.8,566.3 1577.6,567.1 1572.3,567.1 1567.1,566.5 1562.0,565.1 1557.1,563.1 1552.4,560.4 1548.0,557.2 1544.0,553.3 1540.4,548.9 1537.3,544.1 1534.7,538.8 1532.6,533.2 1531.0,527.3 1529.9,521.2 1529.4,515.0 1529.3,508.8 1529.8,502.7 1530.8,496.7 1532.2,490.9 1534.0,485.3 1536.2,480.2 1538.8,475.4 1541.7,471.2 1544.9,467.4 1548.4,464.3 1552.1,461.8 1556.1,459.9 1560.2,458.7 1564.5,458.1 1568.8,458.3 1573.3,459.1 1577.7,460.6 1582.2,462.7 1586.6,465.4 1590.8,468.7 1594.9,472.5 1598.8,476.9 1602.4,481.6 1605.7,486.8 1608.6,492.2 1611.1,497.9" fill="url(#treebot)"/>
<line x1="1472.5" y1="586.0" x2="1467.5" y2="643.5" stroke="#596b1f" stroke-width="6.50" stroke-linecap="butt"/>
<polygon points="1543.6,525.8 1543.2,533.7 1542.1,541.5 1540.2,549.0 1537.6,556.1 1534.2,562.7 1530.2,568.9 1525.4,574.4 1520.1,579.3 1514.2,583.4 1507.9,586.7 1501.2,589.2 1494.3,590.8 1487.2,591.5 1480.1,591.4 1473.0,590.3 1466.2,588.4 1459.6,585.7 1453.4,582.1 1447.8,577.8 1442.7,572.7 1438.2,567.1 1434.5,560.8 1431.5,554.1 1429.3,547.0 1427.9,539.5 1427.3,531.8 1427.5,524.0 1428.4,516.2 1430.1,508.4 1432.4,500.7 1435.4,493.3 1438.9,486.3 1443.0,479.7 1447.5,473.6 1452.3,468.1 1457.5,463.2 1463.0,459.1 1468.6,455.7 1474.4,453.1 1480.2,451.4 1486.1,450.6 1491.9,450.6 1497.7,451.6 1503.3,453.4 1508.8,456.0 1514.1,459.5 1519.1,463.8 1523.7,468.8 1528.0,474.4 1531.9,480.7 1535.3,487.5 1538.2,494.6 1540.5,502.2 1542.2,510.0 1543.3,517.9" fill="url(#tree)"/>
<polygon points="1543.6,525.8 1543.2,533.7 1542.1,541.5 1540.2,549.0 1537.6,556.1 1534.2,562.7 1530.2,568.9 1525.4,574.4 1520.1,579.3 1514.2,583.4 1507.9,586.7 1501.2,589.2 1494.3,590.8 1487.2,591.5 1480.1,591.4 1473.0,590.3 1466.2,588.4 1459.6,585.7 1453.4,582.1 1447.8,577.8 1442.7,572.7 1438.2,567.1 1434.5,560.8 1431.5,554.1 1429.3,547.0 1427.9,539.5 1427.3,531.8 1427.5,524.0 1428.4,516.2 1430.1,508.4 1432.4,500.7 1435.4,493.3 1438.9,486.3 1443.0,479.7 1447.5,473.6 1452.3,468.1 1457.5,463.2 1463.0,459.1 1468.6,455.7 1474.4,453.1 1480.2,451.4 1486.1,450.6 1491.9,450.6 1497.7,451.6 1503.3,453.4 1508.8,456.0 1514.1,459.5 1519.1,463.8 1523.7,468.8 1528.0,474.4 1531.9,480.7 1535.3,487.5 1538.2,494.6 1540.5,502.2 1542.2,510.0 1543.3,517.9" fill="url(#treerim)"/>
<polygon points="1543.6,525.8 1543.2,533.7 1542.1,541.5 1540.2,549.0 1537.6,556.1 1534.2,562.7 1530.2,568.9 1525.4,574.4 1520.1,579.3 1514.2,583.4 1507.9,586.7 1501.2,589.2 1494.3,590.8 1487.2,591.5 1480.1,591.4 1473.0,590.3 1466.2,588.4 1459.6,585.7 1453.4,582.1 1447.8,577.8 1442.7,572.7 1438.2,567.1 1434.5,560.8 1431.5,554.1 1429.3,547.0 1427.9,539.5 1427.3,531.8 1427.5,524.0 1428.4,516.2 1430.1,508.4 1432.4,500.7 1435.4,493.3 1438.9,486.3 1443.0,479.7 1447.5,473.6 1452.3,468.1 1457.5,463.2 1463.0,459.1 1468.6,455.7 1474.4,453.1 1480.2,451.4 1486.1,450.6 1491.9,450.6 1497.7,451.6 1503.3,453.4 1508.8,456.0 1514.1,459.5 1519.1,463.8 1523.7,468.8 1528.0,474.4 1531.9,480.7 1535.3,487.5 1538.2,494.6 1540.5,502.2 1542.2,510.0 1543.3,517.9" fill="url(#treebot)"/>
<line x1="1373.5" y1="636.0" x2="1364.0" y2="685.5" stroke="#596b1f" stroke-width="6.50" stroke-linecap="butt"/>
<polygon points="1441.7,595.4 1440.7,601.5 1439.3,607.5 1437.2,613.2 1434.6,618.5 1431.4,623.5 1427.7,628.0 1423.6,631.9 1419.0,635.3 1414.1,638.0 1408.9,640.1 1403.5,641.5 1397.9,642.2 1392.3,642.2 1386.8,641.6 1381.3,640.2 1376.1,638.1 1371.2,635.5 1366.7,632.2 1362.6,628.4 1359.0,624.0 1355.9,619.2 1353.5,614.1 1351.7,608.6 1350.6,602.8 1350.1,596.9 1350.2,590.8 1351.0,584.7 1352.3,578.6 1354.2,572.7 1356.7,566.9 1359.6,561.3 1362.9,556.1 1366.6,551.3 1370.6,546.9 1374.9,542.9 1379.3,539.5 1383.9,536.7 1388.6,534.5 1393.3,533.0 1398.0,532.1 1402.7,531.9 1407.2,532.4 1411.7,533.6 1415.9,535.5 1420.0,538.0 1423.8,541.2 1427.4,544.9 1430.7,549.2 1433.6,553.9 1436.1,559.1 1438.3,564.7 1439.9,570.5 1441.2,576.6 1441.9,582.8 1442.0,589.1" fill="url(#tree)"/>
<polygon points="1441.7,595.4 1440.7,601.5 1439.3,607.5 1437.2,613.2 1434.6,618.5 1431.4,623.5 1427.7,628.0 1423.6,631.9 1419.0,635.3 1414.1,638.0 1408.9,640.1 1403.5,641.5 1397.9,642.2 1392.3,642.2 1386.8,641.6 1381.3,640.2 1376.1,638.1 1371.2,635.5 1366.7,632.2 1362.6,628.4 1359.0,624.0 1355.9,619.2 1353.5,614.1 1351.7,608.6 1350.6,602.8 1350.1,596.9 1350.2,590.8 1351.0,584.7 1352.3,578.6 1354.2,572.7 1356.7,566.9 1359.6,561.3 1362.9,556.1 1366.6,551.3 1370.6,546.9 1374.9,542.9 1379.3,539.5 1383.9,536.7 1388.6,534.5 1393.3,533.0 1398.0,532.1 1402.7,531.9 1407.2,532.4 1411.7,533.6 1415.9,535.5 1420.0,538.0 1423.8,541.2 1427.4,544.9 1430.7,549.2 1433.6,553.9 1436.1,559.1 1438.3,564.7 1439.9,570.5 1441.2,576.6 1441.9,582.8 1442.0,589.1" fill="url(#treerim)"/>
<polygon points="1441.7,595.4 1440.7,601.5 1439.3,607.5 1437.2,613.2 1434.6,618.5 1431.4,623.5 1427.7,628.0 1423.6,631.9 1419.0,635.3 1414.1,638.0 1408.9,640.1 1403.5,641.5 1397.9,642.2 1392.3,642.2 1386.8,641.6 1381.3,640.2 1376.1,638.1 1371.2,635.5 1366.7,632.2 1362.6,628.4 1359.0,624.0 1355.9,619.2 1353.5,614.1 1351.7,608.6 1350.6,602.8 1350.1,596.9 1350.2,590.8 1351.0,584.7 1352.3,578.6 1354.2,572.7 1356.7,566.9 1359.6,561.3 1362.9,556.1 1366.6,551.3 1370.6,546.9 1374.9,542.9 1379.3,539.5 1383.9,536.7 1388.6,534.5 1393.3,533.0 1398.0,532.1 1402.7,531.9 1407.2,532.4 1411.7,533.6 1415.9,535.5 1420.0,538.0 1423.8,541.2 1427.4,544.9 1430.7,549.2 1433.6,553.9 1436.1,559.1 1438.3,564.7 1439.9,570.5 1441.2,576.6 1441.9,582.8 1442.0,589.1" fill="url(#treebot)"/>
<line x1="1294.0" y1="660.0" x2="1289.0" y2="705.0" stroke="#596b1f" stroke-width="6.50" stroke-linecap="butt"/>
<polygon points="1352.2,613.6 1351.8,619.9 1350.7,626.0 1349.2,631.9 1347.1,637.5 1344.4,642.7 1341.3,647.6 1337.7,651.9 1333.6,655.6 1329.2,658.8 1324.5,661.3 1319.5,663.2 1314.4,664.4 1309.1,664.9 1303.9,664.7 1298.7,663.7 1293.7,662.1 1289.0,659.9 1284.5,657.0 1280.5,653.5 1276.8,649.4 1273.7,644.9 1271.1,639.9 1269.1,634.5 1267.6,628.8 1266.8,622.9 1266.5,616.8 1266.9,610.6 1267.8,604.4 1269.2,598.2 1271.1,592.2 1273.5,586.4 1276.2,580.9 1279.4,575.7 1282.8,570.9 1286.6,566.6 1290.5,562.8 1294.6,559.6 1298.8,557.0 1303.1,555.1 1307.5,553.8 1311.8,553.2 1316.1,553.3 1320.3,554.2 1324.4,555.7 1328.4,557.8 1332.2,560.7 1335.7,564.1 1339.0,568.1 1342.1,572.7 1344.8,577.7 1347.1,583.1 1349.1,588.8 1350.6,594.8 1351.6,601.0 1352.2,607.3" fill="url(#tree)"/>
<polygon points="1352.2,613.6 1351.8,619.9 1350.7,626.0 1349.2,631.9 1347.1,637.5 1344.4,642.7 1341.3,647.6 1337.7,651.9 1333.6,655.6 1329.2,658.8 1324.5,661.3 1319.5,663.2 1314.4,664.4 1309.1,664.9 1303.9,664.7 1298.7,663.7 1293.7,662.1 1289.0,659.9 1284.5,657.0 1280.5,653.5 1276.8,649.4 1273.7,644.9 1271.1,639.9 1269.1,634.5 1267.6,628.8 1266.8,622.9 1266.5,616.8 1266.9,610.6 1267.8,604.4 1269.2,598.2 1271.1,592.2 1273.5,586.4 1276.2,580.9 1279.4,575.7 1282.8,570.9 1286.6,566.6 1290.5,562.8 1294.6,559.6 1298.8,557.0 1303.1,555.1 1307.5,553.8 1311.8,553.2 1316.1,553.3 1320.3,554.2 1324.4,555.7 1328.4,557.8 1332.2,560.7 1335.7,564.1 1339.0,568.1 1342.1,572.7 1344.8,577.7 1347.1,583.1 1349.1,588.8 1350.6,594.8 1351.6,601.0 1352.2,607.3" fill="url(#treerim)"/>
<polygon points="1352.2,613.6 1351.8,619.9 1350.7,626.0 1349.2,631.9 1347.1,637.5 1344.4,642.7 1341.3,647.6 1337.7,651.9 1333.6,655.6 1329.2,658.8 1324.5,661.3 1319.5,663.2 1314.4,664.4 1309.1,664.9 1303.9,664.7 1298.7,663.7 1293.7,662.1 1289.0,659.9 1284.5,657.0 1280.5,653.5 1276.8,649.4 1273.7,644.9 1271.1,639.9 1269.1,634.5 1267.6,628.8 1266.8,622.9 1266.5,616.8 1266.9,610.6 1267.8,604.4 1269.2,598.2 1271.1,592.2 1273.5,586.4 1276.2,580.9 1279.4,575.7 1282.8,570.9 1286.6,566.6 1290.5,562.8 1294.6,559.6 1298.8,557.0 1303.1,555.1 1307.5,553.8 1311.8,553.2 1316.1,553.3 1320.3,554.2 1324.4,555.7 1328.4,557.8 1332.2,560.7 1335.7,564.1 1339.0,568.1 1342.1,572.7 1344.8,577.7 1347.1,583.1 1349.1,588.8 1350.6,594.8 1351.6,601.0 1352.2,607.3" fill="url(#treebot)"/>
<line x1="1205.0" y1="677.0" x2="1211.5" y2="737.5" stroke="#596b1f" stroke-width="6.50" stroke-linecap="butt"/>
<polygon points="1271.5,606.7 1272.6,614.3 1272.9,621.8 1272.4,629.3 1271.2,636.6 1269.2,643.5 1266.3,650.1 1262.8,656.3 1258.5,661.8 1253.6,666.8 1248.1,671.1 1242.1,674.7 1235.7,677.5 1229.0,679.5 1222.0,680.6 1215.0,680.9 1208.1,680.4 1201.2,678.9 1194.6,676.7 1188.4,673.6 1182.5,669.7 1177.2,665.1 1172.5,659.8 1168.4,654.0 1164.9,647.6 1162.2,640.7 1160.2,633.5 1159.0,626.0 1158.5,618.3 1158.7,610.6 1159.6,602.9 1161.1,595.3 1163.2,588.0 1165.9,580.9 1169.2,574.3 1172.9,568.2 1177.0,562.6 1181.5,557.7 1186.3,553.4 1191.4,549.9 1196.8,547.2 1202.3,545.4 1208.0,544.4 1213.7,544.2 1219.5,544.9 1225.3,546.4 1231.0,548.8 1236.6,552.0 1242.0,555.9 1247.2,560.5 1252.0,565.7 1256.6,571.6 1260.7,577.9 1264.3,584.7 1267.3,591.8 1269.7,599.1" fill="url(#tree)"/>
<polygon points="1271.5,606.7 1272.6,614.3 1272.9,621.8 1272.4,629.3 1271.2,636.6 1269.2,643.5 1266.3,650.1 1262.8,656.3 1258.5,661.8 1253.6,666.8 1248.1,671.1 1242.1,674.7 1235.7,677.5 1229.0,679.5 1222.0,680.6 1215.0,680.9 1208.1,680.4 1201.2,678.9 1194.6,676.7 1188.4,673.6 1182.5,669.7 1177.2,665.1 1172.5,659.8 1168.4,654.0 1164.9,647.6 1162.2,640.7 1160.2,633.5 1159.0,626.0 1158.5,618.3 1158.7,610.6 1159.6,602.9 1161.1,595.3 1163.2,588.0 1165.9,580.9 1169.2,574.3 1172.9,568.2 1177.0,562.6 1181.5,557.7 1186.3,553.4 1191.4,549.9 1196.8,547.2 1202.3,545.4 1208.0,544.4 1213.7,544.2 1219.5,544.9 1225.3,546.4 1231.0,548.8 1236.6,552.0 1242.0,555.9 1247.2,560.5 1252.0,565.7 1256.6,571.6 1260.7,577.9 1264.3,584.7 1267.3,591.8 1269.7,599.1" fill="url(#treerim)"/>
<polygon points="1271.5,606.7 1272.6,614.3 1272.9,621.8 1272.4,629.3 1271.2,636.6 1269.2,643.5 1266.3,650.1 1262.8,656.3 1258.5,661.8 1253.6,666.8 1248.1,671.1 1242.1,674.7 1235.7,677.5 1229.0,679.5 1222.0,680.6 1215.0,680.9 1208.1,680.4 1201.2,678.9 1194.6,676.7 1188.4,673.6 1182.5,669.7 1177.2,665.1 1172.5,659.8 1168.4,654.0 1164.9,647.6 1162.2,640.7 1160.2,633.5 1159.0,626.0 1158.5,618.3 1158.7,610.6 1159.6,602.9 1161.1,595.3 1163.2,588.0 1165.9,580.9 1169.2,574.3 1172.9,568.2 1177.0,562.6 1181.5,557.7 1186.3,553.4 1191.4,549.9 1196.8,547.2 1202.3,545.4 1208.0,544.4 1213.7,544.2 1219.5,544.9 1225.3,546.4 1231.0,548.8 1236.6,552.0 1242.0,555.9 1247.2,560.5 1252.0,565.7 1256.6,571.6 1260.7,577.9 1264.3,584.7 1267.3,591.8 1269.7,599.1" fill="url(#treebot)"/>
<line x1="1120.0" y1="711.0" x2="1115.0" y2="762.5" stroke="#596b1f" stroke-width="6.50" stroke-linecap="butt"/>
<polygon points="1194.0,651.5 1193.6,659.3 1192.4,667.0 1190.4,674.4 1187.7,681.4 1184.2,688.0 1180.1,694.0 1175.3,699.4 1169.9,704.2 1163.9,708.2 1157.5,711.4 1150.8,713.8 1143.7,715.3 1136.6,715.9 1129.4,715.7 1122.3,714.6 1115.4,712.6 1108.8,709.8 1102.6,706.2 1096.9,701.8 1091.8,696.8 1087.4,691.1 1083.7,684.9 1080.7,678.2 1078.6,671.1 1077.2,663.7 1076.7,656.0 1076.9,648.3 1078.0,640.5 1079.7,632.8 1082.1,625.3 1085.2,618.0 1088.8,611.0 1093.0,604.5 1097.6,598.5 1102.5,593.1 1107.8,588.4 1113.3,584.3 1119.0,581.0 1124.9,578.6 1130.8,577.0 1136.7,576.2 1142.6,576.3 1148.4,577.3 1154.1,579.2 1159.6,581.9 1164.9,585.4 1169.9,589.7 1174.5,594.7 1178.8,600.3 1182.7,606.6 1186.0,613.3 1188.9,620.5 1191.2,628.0 1192.8,635.7 1193.8,643.6" fill="url(#tree)"/>
<polygon points="1194.0,651.5 1193.6,659.3 1192.4,667.0 1190.4,674.4 1187.7,681.4 1184.2,688.0 1180.1,694.0 1175.3,699.4 1169.9,704.2 1163.9,708.2 1157.5,711.4 1150.8,713.8 1143.7,715.3 1136.6,715.9 1129.4,715.7 1122.3,714.6 1115.4,712.6 1108.8,709.8 1102.6,706.2 1096.9,701.8 1091.8,696.8 1087.4,691.1 1083.7,684.9 1080.7,678.2 1078.6,671.1 1077.2,663.7 1076.7,656.0 1076.9,648.3 1078.0,640.5 1079.7,632.8 1082.1,625.3 1085.2,618.0 1088.8,611.0 1093.0,604.5 1097.6,598.5 1102.5,593.1 1107.8,588.4 1113.3,584.3 1119.0,581.0 1124.9,578.6 1130.8,577.0 1136.7,576.2 1142.6,576.3 1148.4,577.3 1154.1,579.2 1159.6,581.9 1164.9,585.4 1169.9,589.7 1174.5,594.7 1178.8,600.3 1182.7,606.6 1186.0,613.3 1188.9,620.5 1191.2,628.0 1192.8,635.7 1193.8,643.6" fill="url(#treerim)"/>
<polygon points="1194.0,651.5 1193.6,659.3 1192.4,667.0 1190.4,674.4 1187.7,681.4 1184.2,688.0 1180.1,694.0 1175.3,699.4 1169.9,704.2 1163.9,708.2 1157.5,711.4 1150.8,713.8 1143.7,715.3 1136.6,715.9 1129.4,715.7 1122.3,714.6 1115.4,712.6 1108.8,709.8 1102.6,706.2 1096.9,701.8 1091.8,696.8 1087.4,691.1 1083.7,684.9 1080.7,678.2 1078.6,671.1 1077.2,663.7 1076.7,656.0 1076.9,648.3 1078.0,640.5 1079.7,632.8 1082.1,625.3 1085.2,618.0 1088.8,611.0 1093.0,604.5 1097.6,598.5 1102.5,593.1 1107.8,588.4 1113.3,584.3 1119.0,581.0 1124.9,578.6 1130.8,577.0 1136.7,576.2 1142.6,576.3 1148.4,577.3 1154.1,579.2 1159.6,581.9 1164.9,585.4 1169.9,589.7 1174.5,594.7 1178.8,600.3 1182.7,606.6 1186.0,613.3 1188.9,620.5 1191.2,628.0 1192.8,635.7 1193.8,643.6" fill="url(#treebot)"/>
<line x1="989.0" y1="740.0" x2="986.0" y2="810.0" stroke="#596b1f" stroke-width="6.50" stroke-linecap="butt"/>
<polygon points="1043.3,674.8 1043.2,682.8 1042.4,690.6 1040.9,698.2 1038.6,705.5 1035.6,712.3 1031.8,718.7 1027.4,724.4 1022.4,729.5 1016.8,733.9 1010.7,737.5 1004.3,740.3 997.5,742.2 990.6,743.3 983.6,743.4 976.6,742.7 969.8,741.1 963.2,738.6 957.0,735.3 951.3,731.2 946.1,726.4 941.5,720.9 937.5,714.8 934.3,708.2 931.9,701.1 930.2,693.7 929.3,686.0 929.1,678.1 929.7,670.2 931.0,662.3 933.0,654.5 935.6,647.0 938.8,639.7 942.5,632.9 946.7,626.6 951.2,620.8 956.1,615.7 961.3,611.3 966.7,607.7 972.3,604.8 977.9,602.9 983.7,601.8 989.4,601.6 995.1,602.2 1000.7,603.8 1006.2,606.2 1011.5,609.5 1016.6,613.6 1021.4,618.4 1025.9,623.9 1029.9,630.0 1033.6,636.6 1036.7,643.7 1039.3,651.2 1041.3,658.9 1042.6,666.8" fill="url(#tree)"/>
<polygon points="1043.3,674.8 1043.2,682.8 1042.4,690.6 1040.9,698.2 1038.6,705.5 1035.6,712.3 1031.8,718.7 1027.4,724.4 1022.4,729.5 1016.8,733.9 1010.7,737.5 1004.3,740.3 997.5,742.2 990.6,743.3 983.6,743.4 976.6,742.7 969.8,741.1 963.2,738.6 957.0,735.3 951.3,731.2 946.1,726.4 941.5,720.9 937.5,714.8 934.3,708.2 931.9,701.1 930.2,693.7 929.3,686.0 929.1,678.1 929.7,670.2 931.0,662.3 933.0,654.5 935.6,647.0 938.8,639.7 942.5,632.9 946.7,626.6 951.2,620.8 956.1,615.7 961.3,611.3 966.7,607.7 972.3,604.8 977.9,602.9 983.7,601.8 989.4,601.6 995.1,602.2 1000.7,603.8 1006.2,606.2 1011.5,609.5 1016.6,613.6 1021.4,618.4 1025.9,623.9 1029.9,630.0 1033.6,636.6 1036.7,643.7 1039.3,651.2 1041.3,658.9 1042.6,666.8" fill="url(#treerim)"/>
<polygon points="1043.3,674.8 1043.2,682.8 1042.4,690.6 1040.9,698.2 1038.6,705.5 1035.6,712.3 1031.8,718.7 1027.4,724.4 1022.4,729.5 1016.8,733.9 1010.7,737.5 1004.3,740.3 997.5,742.2 990.6,743.3 983.6,743.4 976.6,742.7 969.8,741.1 963.2,738.6 957.0,735.3 951.3,731.2 946.1,726.4 941.5,720.9 937.5,714.8 934.3,708.2 931.9,701.1 930.2,693.7 929.3,686.0 929.1,678.1 929.7,670.2 931.0,662.3 933.0,654.5 935.6,647.0 938.8,639.7 942.5,632.9 946.7,626.6 951.2,620.8 956.1,615.7 961.3,611.3 966.7,607.7 972.3,604.8 977.9,602.9 983.7,601.8 989.4,601.6 995.1,602.2 1000.7,603.8 1006.2,606.2 1011.5,609.5 1016.6,613.6 1021.4,618.4 1025.9,623.9 1029.9,630.0 1033.6,636.6 1036.7,643.7 1039.3,651.2 1041.3,658.9 1042.6,666.8" fill="url(#treebot)"/>
<line x1="882.5" y1="800.0" x2="876.0" y2="846.5" stroke="#596b1f" stroke-width="6.50" stroke-linecap="butt"/>
<polygon points="941.5,756.2 940.9,762.4 939.7,768.4 937.9,774.2 935.6,779.7 932.6,784.8 929.2,789.4 925.2,793.6 920.9,797.1 916.1,800.1 911.0,802.5 905.6,804.1 900.1,805.1 894.5,805.4 888.9,805.0 883.4,803.9 878.1,802.1 873.1,799.7 868.4,796.6 864.1,793.0 860.3,788.8 857.1,784.2 854.4,779.1 852.3,773.7 850.9,768.0 850.1,762.1 849.9,756.1 850.4,749.9 851.5,743.8 853.1,737.8 855.3,731.9 857.9,726.2 861.0,720.8 864.4,715.8 868.2,711.2 872.3,707.1 876.5,703.5 881.0,700.4 885.5,698.0 890.2,696.3 894.8,695.2 899.5,694.7 904.1,695.0 908.6,696.0 912.9,697.6 917.1,700.0 921.1,702.9 924.8,706.5 928.3,710.6 931.4,715.2 934.2,720.3 936.6,725.7 938.6,731.5 940.1,737.5 941.1,743.7 941.6,749.9" fill="url(#tree)"/>
<polygon points="941.5,756.2 940.9,762.4 939.7,768.4 937.9,774.2 935.6,779.7 932.6,784.8 929.2,789.4 925.2,793.6 920.9,797.1 916.1,800.1 911.0,802.5 905.6,804.1 900.1,805.1 894.5,805.4 888.9,805.0 883.4,803.9 878.1,802.1 873.1,799.7 868.4,796.6 864.1,793.0 860.3,788.8 857.1,784.2 854.4,779.1 852.3,773.7 850.9,768.0 850.1,762.1 849.9,756.1 850.4,749.9 851.5,743.8 853.1,737.8 855.3,731.9 857.9,726.2 861.0,720.8 864.4,715.8 868.2,711.2 872.3,707.1 876.5,703.5 881.0,700.4 885.5,698.0 890.2,696.3 894.8,695.2 899.5,694.7 904.1,695.0 908.6,696.0 912.9,697.6 917.1,700.0 921.1,702.9 924.8,706.5 928.3,710.6 931.4,715.2 934.2,720.3 936.6,725.7 938.6,731.5 940.1,737.5 941.1,743.7 941.6,749.9" fill="url(#treerim)"/>
<polygon points="941.5,756.2 940.9,762.4 939.7,768.4 937.9,774.2 935.6,779.7 932.6,784.8 929.2,789.4 925.2,793.6 920.9,797.1 916.1,800.1 911.0,802.5 905.6,804.1 900.1,805.1 894.5,805.4 888.9,805.0 883.4,803.9 878.1,802.1 873.1,799.7 868.4,796.6 864.1,793.0 860.3,788.8 857.1,784.2 854.4,779.1 852.3,773.7 850.9,768.0 850.1,762.1 849.9,756.1 850.4,749.9 851.5,743.8 853.1,737.8 855.3,731.9 857.9,726.2 861.0,720.8 864.4,715.8 868.2,711.2 872.3,707.1 876.5,703.5 881.0,700.4 885.5,698.0 890.2,696.3 894.8,695.2 899.5,694.7 904.1,695.0 908.6,696.0 912.9,697.6 917.1,700.0 921.1,702.9 924.8,706.5 928.3,710.6 931.4,715.2 934.2,720.3 936.6,725.7 938.6,731.5 940.1,737.5 941.1,743.7 941.6,749.9" fill="url(#treebot)"/>
<line x1="772.5" y1="823.0" x2="781.5" y2="884.0" stroke="#596b1f" stroke-width="6.50" stroke-linecap="butt"/>
<polygon points="832.7,749.2 834.1,756.9 834.7,764.6 834.5,772.3 833.4,779.7 831.6,786.9 828.9,793.8 825.4,800.2 821.1,806.1 816.2,811.4 810.6,816.0 804.5,819.9 797.9,823.0 791.0,825.3 783.8,826.8 776.5,827.4 769.3,827.1 762.1,825.9 755.1,823.9 748.5,821.0 742.2,817.3 736.5,812.8 731.4,807.6 726.9,801.8 723.1,795.4 720.0,788.5 717.7,781.2 716.1,773.6 715.3,765.8 715.2,757.9 715.9,750.0 717.2,742.2 719.1,734.6 721.7,727.3 724.8,720.4 728.5,714.0 732.6,708.1 737.1,702.9 742.0,698.3 747.2,694.6 752.6,691.6 758.3,689.5 764.2,688.2 770.1,687.8 776.2,688.3 782.3,689.6 788.3,691.8 794.3,694.8 800.0,698.5 805.6,703.0 810.9,708.2 815.8,714.0 820.3,720.3 824.3,727.0 827.8,734.1 830.6,741.6" fill="url(#tree)"/>
<polygon points="832.7,749.2 834.1,756.9 834.7,764.6 834.5,772.3 833.4,779.7 831.6,786.9 828.9,793.8 825.4,800.2 821.1,806.1 816.2,811.4 810.6,816.0 804.5,819.9 797.9,823.0 791.0,825.3 783.8,826.8 776.5,827.4 769.3,827.1 762.1,825.9 755.1,823.9 748.5,821.0 742.2,817.3 736.5,812.8 731.4,807.6 726.9,801.8 723.1,795.4 720.0,788.5 717.7,781.2 716.1,773.6 715.3,765.8 715.2,757.9 715.9,750.0 717.2,742.2 719.1,734.6 721.7,727.3 724.8,720.4 728.5,714.0 732.6,708.1 737.1,702.9 742.0,698.3 747.2,694.6 752.6,691.6 758.3,689.5 764.2,688.2 770.1,687.8 776.2,688.3 782.3,689.6 788.3,691.8 794.3,694.8 800.0,698.5 805.6,703.0 810.9,708.2 815.8,714.0 820.3,720.3 824.3,727.0 827.8,734.1 830.6,741.6" fill="url(#treerim)"/>
<polygon points="832.7,749.2 834.1,756.9 834.7,764.6 834.5,772.3 833.4,779.7 831.6,786.9 828.9,793.8 825.4,800.2 821.1,806.1 816.2,811.4 810.6,816.0 804.5,819.9 797.9,823.0 791.0,825.3 783.8,826.8 776.5,827.4 769.3,827.1 762.1,825.9 755.1,823.9 748.5,821.0 742.2,817.3 736.5,812.8 731.4,807.6 726.9,801.8 723.1,795.4 720.0,788.5 717.7,781.2 716.1,773.6 715.3,765.8 715.2,757.9 715.9,750.0 717.2,742.2 719.1,734.6 721.7,727.3 724.8,720.4 728.5,714.0 732.6,708.1 737.1,702.9 742.0,698.3 747.2,694.6 752.6,691.6 758.3,689.5 764.2,688.2 770.1,687.8 776.2,688.3 782.3,689.6 788.3,691.8 794.3,694.8 800.0,698.5 805.6,703.0 810.9,708.2 815.8,714.0 820.3,720.3 824.3,727.0 827.8,734.1 830.6,741.6" fill="url(#treebot)"/>
<line x1="687.5" y1="851.0" x2="687.5" y2="915.0" stroke="#596b1f" stroke-width="6.50" stroke-linecap="butt"/>
<polygon points="737.3,787.5 737.6,795.2 737.1,802.9 735.8,810.3 733.8,817.4 731.0,824.2 727.4,830.5 723.1,836.3 718.2,841.4 712.6,845.9 706.6,849.7 700.1,852.6 693.2,854.8 686.2,856.1 679.0,856.5 671.8,856.1 664.8,854.8 657.9,852.6 651.4,849.7 645.4,845.9 639.8,841.4 634.9,836.3 630.6,830.5 627.0,824.2 624.2,817.4 622.2,810.3 620.9,802.9 620.4,795.2 620.7,787.5 621.7,779.8 623.4,772.1 625.8,764.7 628.8,757.6 632.3,750.8 636.3,744.5 640.7,738.7 645.5,733.6 650.6,729.1 656.0,725.3 661.6,722.4 667.3,720.2 673.1,718.9 679.0,718.5 684.9,718.9 690.7,720.2 696.4,722.4 702.0,725.3 707.4,729.1 712.5,733.6 717.3,738.7 721.7,744.5 725.7,750.8 729.2,757.6 732.2,764.7 734.6,772.1 736.3,779.8" fill="url(#tree)"/>
<polygon points="737.3,787.5 737.6,795.2 737.1,802.9 735.8,810.3 733.8,817.4 731.0,824.2 727.4,830.5 723.1,836.3 718.2,841.4 712.6,845.9 706.6,849.7 700.1,852.6 693.2,854.8 686.2,856.1 679.0,856.5 671.8,856.1 664.8,854.8 657.9,852.6 651.4,849.7 645.4,845.9 639.8,841.4 634.9,836.3 630.6,830.5 627.0,824.2 624.2,817.4 622.2,810.3 620.9,802.9 620.4,795.2 620.7,787.5 621.7,779.8 623.4,772.1 625.8,764.7 628.8,757.6 632.3,750.8 636.3,744.5 640.7,738.7 645.5,733.6 650.6,729.1 656.0,725.3 661.6,722.4 667.3,720.2 673.1,718.9 679.0,718.5 684.9,718.9 690.7,720.2 696.4,722.4 702.0,725.3 707.4,729.1 712.5,733.6 717.3,738.7 721.7,744.5 725.7,750.8 729.2,757.6 732.2,764.7 734.6,772.1 736.3,779.8" fill="url(#treerim)"/>
<polygon points="737.3,787.5 737.6,795.2 737.1,802.9 735.8,810.3 733.8,817.4 731.0,824.2 727.4,830.5 723.1,836.3 718.2,841.4 712.6,845.9 706.6,849.7 700.1,852.6 693.2,854.8 686.2,856.1 679.0,856.5 671.8,856.1 664.8,854.8 657.9,852.6 651.4,849.7 645.4,845.9 639.8,841.4 634.9,836.3 630.6,830.5 627.0,824.2 624.2,817.4 622.2,810.3 620.9,802.9 620.4,795.2 620.7,787.5 621.7,779.8 623.4,772.1 625.8,764.7 628.8,757.6 632.3,750.8 636.3,744.5 640.7,738.7 645.5,733.6 650.6,729.1 656.0,725.3 661.6,722.4 667.3,720.2 673.1,718.9 679.0,718.5 684.9,718.9 690.7,720.2 696.4,722.4 702.0,725.3 707.4,729.1 712.5,733.6 717.3,738.7 721.7,744.5 725.7,750.8 729.2,757.6 732.2,764.7 734.6,772.1 736.3,779.8" fill="url(#treebot)"/>
<line x1="1994.0" y1="920.0" x2="1995.0" y2="967.5" stroke="#596b1f" stroke-width="6.50" stroke-linecap="butt"/>
<polygon points="2031.5,869.2 2031.8,875.2 2031.6,881.2 2030.9,887.0 2029.6,892.6 2027.7,898.0 2025.3,903.0 2022.5,907.5 2019.1,911.6 2015.3,915.2 2011.2,918.2 2006.7,920.7 2002.0,922.4 1997.1,923.5 1992.1,924.0 1987.1,923.8 1982.2,922.8 1977.4,921.3 1972.8,919.0 1968.6,916.2 1964.6,912.8 1961.1,908.8 1958.1,904.4 1955.5,899.5 1953.4,894.2 1951.9,888.6 1950.9,882.8 1950.4,876.9 1950.5,870.8 1951.1,864.8 1952.1,858.8 1953.7,852.9 1955.6,847.3 1957.9,841.9 1960.6,837.0 1963.6,832.4 1966.8,828.3 1970.3,824.7 1974.0,821.7 1977.8,819.3 1981.8,817.5 1985.8,816.4 1989.9,816.0 1994.0,816.3 1998.0,817.2 2002.1,818.8 2006.0,821.0 2009.8,823.9 2013.4,827.3 2016.8,831.3 2020.0,835.7 2022.9,840.6 2025.4,845.9 2027.6,851.4 2029.4,857.2 2030.7,863.1" fill="url(#tree)"/>
<polygon points="2031.5,869.2 2031.8,875.2 2031.6,881.2 2030.9,887.0 2029.6,892.6 2027.7,898.0 2025.3,903.0 2022.5,907.5 2019.1,911.6 2015.3,915.2 2011.2,918.2 2006.7,920.7 2002.0,922.4 1997.1,923.5 1992.1,924.0 1987.1,923.8 1982.2,922.8 1977.4,921.3 1972.8,919.0 1968.6,916.2 1964.6,912.8 1961.1,908.8 1958.1,904.4 1955.5,899.5 1953.4,894.2 1951.9,888.6 1950.9,882.8 1950.4,876.9 1950.5,870.8 1951.1,864.8 1952.1,858.8 1953.7,852.9 1955.6,847.3 1957.9,841.9 1960.6,837.0 1963.6,832.4 1966.8,828.3 1970.3,824.7 1974.0,821.7 1977.8,819.3 1981.8,817.5 1985.8,816.4 1989.9,816.0 1994.0,816.3 1998.0,817.2 2002.1,818.8 2006.0,821.0 2009.8,823.9 2013.4,827.3 2016.8,831.3 2020.0,835.7 2022.9,840.6 2025.4,845.9 2027.6,851.4 2029.4,857.2 2030.7,863.1" fill="url(#treerim)"/>
<polygon points="2031.5,869.2 2031.8,875.2 2031.6,881.2 2030.9,887.0 2029.6,892.6 2027.7,898.0 2025.3,903.0 2022.5,907.5 2019.1,911.6 2015.3,915.2 2011.2,918.2 2006.7,920.7 2002.0,922.4 1997.1,923.5 1992.1,924.0 1987.1,923.8 1982.2,922.8 1977.4,921.3 1972.8,919.0 1968.6,916.2 1964.6,912.8 1961.1,908.8 1958.1,904.4 1955.5,899.5 1953.4,894.2 1951.9,888.6 1950.9,882.8 1950.4,876.9 1950.5,870.8 1951.1,864.8 1952.1,858.8 1953.7,852.9 1955.6,847.3 1957.9,841.9 1960.6,837.0 1963.6,832.4 1966.8,828.3 1970.3,824.7 1974.0,821.7 1977.8,819.3 1981.8,817.5 1985.8,816.4 1989.9,816.0 1994.0,816.3 1998.0,817.2 2002.1,818.8 2006.0,821.0 2009.8,823.9 2013.4,827.3 2016.8,831.3 2020.0,835.7 2022.9,840.6 2025.4,845.9 2027.6,851.4 2029.4,857.2 2030.7,863.1" fill="url(#treebot)"/>
<line x1="1889.0" y1="941.0" x2="1884.0" y2="996.0" stroke="#596b1f" stroke-width="6.50" stroke-linecap="butt"/>
<polygon points="1960.6,880.1 1960.2,888.0 1959.0,895.6 1957.1,903.0 1954.4,910.1 1951.0,916.7 1946.9,922.7 1942.1,928.2 1936.7,933.0 1930.8,937.0 1924.4,940.2 1917.7,942.7 1910.7,944.2 1903.5,944.9 1896.4,944.7 1889.2,943.7 1882.3,941.7 1875.7,939.0 1869.5,935.4 1863.8,931.1 1858.7,926.1 1854.2,920.4 1850.4,914.2 1847.4,907.5 1845.2,900.4 1843.8,893.0 1843.3,885.4 1843.5,877.7 1844.4,869.9 1846.1,862.2 1848.5,854.6 1851.5,847.3 1855.1,840.3 1859.2,833.8 1863.8,827.8 1868.7,822.3 1873.9,817.5 1879.4,813.5 1885.1,810.2 1890.9,807.7 1896.8,806.0 1902.8,805.2 1908.6,805.3 1914.5,806.2 1920.2,808.0 1925.7,810.7 1931.0,814.2 1936.0,818.5 1940.7,823.4 1945.0,829.1 1948.9,835.3 1952.3,842.0 1955.2,849.2 1957.5,856.6 1959.2,864.4 1960.3,872.2" fill="url(#tree)"/>
<polygon points="1960.6,880.1 1960.2,888.0 1959.0,895.6 1957.1,903.0 1954.4,910.1 1951.0,916.7 1946.9,922.7 1942.1,928.2 1936.7,933.0 1930.8,937.0 1924.4,940.2 1917.7,942.7 1910.7,944.2 1903.5,944.9 1896.4,944.7 1889.2,943.7 1882.3,941.7 1875.7,939.0 1869.5,935.4 1863.8,931.1 1858.7,926.1 1854.2,920.4 1850.4,914.2 1847.4,907.5 1845.2,900.4 1843.8,893.0 1843.3,885.4 1843.5,877.7 1844.4,869.9 1846.1,862.2 1848.5,854.6 1851.5,847.3 1855.1,840.3 1859.2,833.8 1863.8,827.8 1868.7,822.3 1873.9,817.5 1879.4,813.5 1885.1,810.2 1890.9,807.7 1896.8,806.0 1902.8,805.2 1908.6,805.3 1914.5,806.2 1920.2,808.0 1925.7,810.7 1931.0,814.2 1936.0,818.5 1940.7,823.4 1945.0,829.1 1948.9,835.3 1952.3,842.0 1955.2,849.2 1957.5,856.6 1959.2,864.4 1960.3,872.2" fill="url(#treerim)"/>
<polygon points="1960.6,880.1 1960.2,888.0 1959.0,895.6 1957.1,903.0 1954.4,910.1 1951.0,916.7 1946.9,922.7 1942.1,928.2 1936.7,933.0 1930.8,937.0 1924.4,940.2 1917.7,942.7 1910.7,944.2 1903.5,944.9 1896.4,944.7 1889.2,943.7 1882.3,941.7 1875.7,939.0 1869.5,935.4 1863.8,931.1 1858.7,926.1 1854.2,920.4 1850.4,914.2 1847.4,907.5 1845.2,900.4 1843.8,893.0 1843.3,885.4 1843.5,877.7 1844.4,869.9 1846.1,862.2 1848.5,854.6 1851.5,847.3 1855.1,840.3 1859.2,833.8 1863.8,827.8 1868.7,822.3 1873.9,817.5 1879.4,813.5 1885.1,810.2 1890.9,807.7 1896.8,806.0 1902.8,805.2 1908.6,805.3 1914.5,806.2 1920.2,808.0 1925.7,810.7 1931.0,814.2 1936.0,818.5 1940.7,823.4 1945.0,829.1 1948.9,835.3 1952.3,842.0 1955.2,849.2 1957.5,856.6 1959.2,864.4 1960.3,872.2" fill="url(#treebot)"/>
<line x1="1619.0" y1="1051.0" x2="1612.5" y2="1095.0" stroke="#596b1f" stroke-width="6.50" stroke-linecap="butt"/>
<polygon points="1677.5,1007.4 1676.8,1013.7 1675.6,1019.7 1673.7,1025.6 1671.4,1031.1 1668.4,1036.2 1665.0,1040.9 1661.1,1045.0 1656.8,1048.6 1652.0,1051.6 1647.0,1054.0 1641.8,1055.6 1636.4,1056.6 1630.9,1056.9 1625.4,1056.4 1620.0,1055.3 1614.9,1053.5 1610.0,1051.0 1605.4,1047.9 1601.3,1044.2 1597.6,1040.0 1594.5,1035.3 1591.9,1030.2 1590.0,1024.8 1588.6,1019.0 1587.9,1013.0 1587.8,1006.9 1588.4,1000.7 1589.5,994.6 1591.2,988.5 1593.4,982.5 1596.0,976.8 1599.1,971.4 1602.5,966.4 1606.3,961.7 1610.3,957.6 1614.5,954.0 1618.9,951.0 1623.4,948.5 1628.0,946.8 1632.6,945.7 1637.1,945.3 1641.6,945.6 1646.0,946.6 1650.2,948.3 1654.3,950.6 1658.2,953.6 1661.8,957.2 1665.1,961.4 1668.1,966.0 1670.8,971.2 1673.1,976.7 1674.9,982.5 1676.3,988.6 1677.2,994.8 1677.6,1001.1" fill="url(#tree)"/>
<polygon points="1677.5,1007.4 1676.8,1013.7 1675.6,1019.7 1673.7,1025.6 1671.4,1031.1 1668.4,1036.2 1665.0,1040.9 1661.1,1045.0 1656.8,1048.6 1652.0,1051.6 1647.0,1054.0 1641.8,1055.6 1636.4,1056.6 1630.9,1056.9 1625.4,1056.4 1620.0,1055.3 1614.9,1053.5 1610.0,1051.0 1605.4,1047.9 1601.3,1044.2 1597.6,1040.0 1594.5,1035.3 1591.9,1030.2 1590.0,1024.8 1588.6,1019.0 1587.9,1013.0 1587.8,1006.9 1588.4,1000.7 1589.5,994.6 1591.2,988.5 1593.4,982.5 1596.0,976.8 1599.1,971.4 1602.5,966.4 1606.3,961.7 1610.3,957.6 1614.5,954.0 1618.9,951.0 1623.4,948.5 1628.0,946.8 1632.6,945.7 1637.1,945.3 1641.6,945.6 1646.0,946.6 1650.2,948.3 1654.3,950.6 1658.2,953.6 1661.8,957.2 1665.1,961.4 1668.1,966.0 1670.8,971.2 1673.1,976.7 1674.9,982.5 1676.3,988.6 1677.2,994.8 1677.6,1001.1" fill="url(#treerim)"/>
<polygon points="1677.5,1007.4 1676.8,1013.7 1675.6,1019.7 1673.7,1025.6 1671.4,1031.1 1668.4,1036.2 1665.0,1040.9 1661.1,1045.0 1656.8,1048.6 1652.0,1051.6 1647.0,1054.0 1641.8,1055.6 1636.4,1056.6 1630.9,1056.9 1625.4,1056.4 1620.0,1055.3 1614.9,1053.5 1610.0,1051.0 1605.4,1047.9 1601.3,1044.2 1597.6,1040.0 1594.5,1035.3 1591.9,1030.2 1590.0,1024.8 1588.6,1019.0 1587.9,1013.0 1587.8,1006.9 1588.4,1000.7 1589.5,994.6 1591.2,988.5 1593.4,982.5 1596.0,976.8 1599.1,971.4 1602.5,966.4 1606.3,961.7 1610.3,957.6 1614.5,954.0 1618.9,951.0 1623.4,948.5 1628.0,946.8 1632.6,945.7 1637.1,945.3 1641.6,945.6 1646.0,946.6 1650.2,948.3 1654.3,950.6 1658.2,953.6 1661.8,957.2 1665.1,961.4 1668.1,966.0 1670.8,971.2 1673.1,976.7 1674.9,982.5 1676.3,988.6 1677.2,994.8 1677.6,1001.1" fill="url(#treebot)"/>
<line x1="2312.3" y1="1062.2" x2="2314.3" y2="1109.6" stroke="#596b1f" stroke-width="6.50" stroke-linecap="butt"/>
<polygon points="2347.1,1008.8 2347.6,1015.0 2347.5,1021.2 2346.7,1027.2 2345.4,1033.0 2343.4,1038.5 2340.9,1043.7 2337.7,1048.5 2334.0,1052.8 2329.9,1056.6 2325.3,1059.8 2320.3,1062.4 2315.0,1064.3 2309.6,1065.6 2304.0,1066.2 2298.4,1066.0 2292.9,1065.2 2287.5,1063.7 2282.3,1061.6 2277.4,1058.7 2273.0,1055.3 2268.9,1051.3 2265.4,1046.8 2262.4,1041.9 2260.0,1036.5 2258.2,1030.9 2256.9,1024.9 2256.3,1018.8 2256.3,1012.6 2256.8,1006.3 2257.9,1000.2 2259.5,994.1 2261.6,988.3 2264.1,982.7 2267.0,977.5 2270.2,972.7 2273.8,968.4 2277.6,964.7 2281.7,961.5 2285.9,958.9 2290.3,957.0 2294.8,955.8 2299.4,955.2 2304.0,955.4 2308.6,956.3 2313.1,957.8 2317.6,960.0 2321.9,962.8 2326.0,966.3 2329.9,970.3 2333.6,974.7 2336.9,979.7 2339.8,985.0 2342.4,990.7 2344.5,996.6 2346.1,1002.6" fill="url(#tree)"/>
<polygon points="2347.1,1008.8 2347.6,1015.0 2347.5,1021.2 2346.7,1027.2 2345.4,1033.0 2343.4,1038.5 2340.9,1043.7 2337.7,1048.5 2334.0,1052.8 2329.9,1056.6 2325.3,1059.8 2320.3,1062.4 2315.0,1064.3 2309.6,1065.6 2304.0,1066.2 2298.4,1066.0 2292.9,1065.2 2287.5,1063.7 2282.3,1061.6 2277.4,1058.7 2273.0,1055.3 2268.9,1051.3 2265.4,1046.8 2262.4,1041.9 2260.0,1036.5 2258.2,1030.9 2256.9,1024.9 2256.3,1018.8 2256.3,1012.6 2256.8,1006.3 2257.9,1000.2 2259.5,994.1 2261.6,988.3 2264.1,982.7 2267.0,977.5 2270.2,972.7 2273.8,968.4 2277.6,964.7 2281.7,961.5 2285.9,958.9 2290.3,957.0 2294.8,955.8 2299.4,955.2 2304.0,955.4 2308.6,956.3 2313.1,957.8 2317.6,960.0 2321.9,962.8 2326.0,966.3 2329.9,970.3 2333.6,974.7 2336.9,979.7 2339.8,985.0 2342.4,990.7 2344.5,996.6 2346.1,1002.6" fill="url(#treerim)"/>
<polygon points="2347.1,1008.8 2347.6,1015.0 2347.5,1021.2 2346.7,1027.2 2345.4,1033.0 2343.4,1038.5 2340.9,1043.7 2337.7,1048.5 2334.0,1052.8 2329.9,1056.6 2325.3,1059.8 2320.3,1062.4 2315.0,1064.3 2309.6,1065.6 2304.0,1066.2 2298.4,1066.0 2292.9,1065.2 2287.5,1063.7 2282.3,1061.6 2277.4,1058.7 2273.0,1055.3 2268.9,1051.3 2265.4,1046.8 2262.4,1041.9 2260.0,1036.5 2258.2,1030.9 2256.9,1024.9 2256.3,1018.8 2256.3,1012.6 2256.8,1006.3 2257.9,1000.2 2259.5,994.1 2261.6,988.3 2264.1,982.7 2267.0,977.5 2270.2,972.7 2273.8,968.4 2277.6,964.7 2281.7,961.5 2285.9,958.9 2290.3,957.0 2294.8,955.8 2299.4,955.2 2304.0,955.4 2308.6,956.3 2313.1,957.8 2317.6,960.0 2321.9,962.8 2326.0,966.3 2329.9,970.3 2333.6,974.7 2336.9,979.7 2339.8,985.0 2342.4,990.7 2344.5,996.6 2346.1,1002.6" fill="url(#treebot)"/>
<line x1="2206.4" y1="1092.5" x2="2214.0" y2="1135.3" stroke="#596b1f" stroke-width="6.50" stroke-linecap="butt"/>
<polygon points="2248.7,1034.1 2250.0,1040.2 2250.7,1046.2 2250.9,1052.2 2250.4,1058.1 2249.3,1063.8 2247.6,1069.2 2245.3,1074.2 2242.5,1078.9 2239.1,1083.1 2235.3,1086.8 2231.0,1090.0 2226.4,1092.5 2221.5,1094.4 2216.4,1095.7 2211.2,1096.2 2206.0,1096.1 2200.8,1095.3 2195.7,1093.8 2190.8,1091.6 2186.2,1088.8 2182.0,1085.4 2178.1,1081.4 2174.6,1076.9 2171.7,1071.9 2169.2,1066.6 2167.3,1060.9 2165.9,1055.0 2165.1,1048.9 2164.7,1042.7 2164.9,1036.5 2165.6,1030.3 2166.7,1024.3 2168.3,1018.6 2170.3,1013.1 2172.7,1008.0 2175.4,1003.4 2178.5,999.2 2181.8,995.6 2185.4,992.6 2189.2,990.2 2193.2,988.4 2197.4,987.3 2201.7,986.9 2206.0,987.2 2210.4,988.2 2214.8,989.8 2219.2,992.1 2223.5,994.9 2227.7,998.4 2231.6,1002.3 2235.4,1006.8 2238.8,1011.7 2241.9,1016.9 2244.7,1022.4 2247.0,1028.2" fill="url(#tree)"/>
<polygon points="2248.7,1034.1 2250.0,1040.2 2250.7,1046.2 2250.9,1052.2 2250.4,1058.1 2249.3,1063.8 2247.6,1069.2 2245.3,1074.2 2242.5,1078.9 2239.1,1083.1 2235.3,1086.8 2231.0,1090.0 2226.4,1092.5 2221.5,1094.4 2216.4,1095.7 2211.2,1096.2 2206.0,1096.1 2200.8,1095.3 2195.7,1093.8 2190.8,1091.6 2186.2,1088.8 2182.0,1085.4 2178.1,1081.4 2174.6,1076.9 2171.7,1071.9 2169.2,1066.6 2167.3,1060.9 2165.9,1055.0 2165.1,1048.9 2164.7,1042.7 2164.9,1036.5 2165.6,1030.3 2166.7,1024.3 2168.3,1018.6 2170.3,1013.1 2172.7,1008.0 2175.4,1003.4 2178.5,999.2 2181.8,995.6 2185.4,992.6 2189.2,990.2 2193.2,988.4 2197.4,987.3 2201.7,986.9 2206.0,987.2 2210.4,988.2 2214.8,989.8 2219.2,992.1 2223.5,994.9 2227.7,998.4 2231.6,1002.3 2235.4,1006.8 2238.8,1011.7 2241.9,1016.9 2244.7,1022.4 2247.0,1028.2" fill="url(#treerim)"/>
<polygon points="2248.7,1034.1 2250.0,1040.2 2250.7,1046.2 2250.9,1052.2 2250.4,1058.1 2249.3,1063.8 2247.6,1069.2 2245.3,1074.2 2242.5,1078.9 2239.1,1083.1 2235.3,1086.8 2231.0,1090.0 2226.4,1092.5 2221.5,1094.4 2216.4,1095.7 2211.2,1096.2 2206.0,1096.1 2200.8,1095.3 2195.7,1093.8 2190.8,1091.6 2186.2,1088.8 2182.0,1085.4 2178.1,1081.4 2174.6,1076.9 2171.7,1071.9 2169.2,1066.6 2167.3,1060.9 2165.9,1055.0 2165.1,1048.9 2164.7,1042.7 2164.9,1036.5 2165.6,1030.3 2166.7,1024.3 2168.3,1018.6 2170.3,1013.1 2172.7,1008.0 2175.4,1003.4 2178.5,999.2 2181.8,995.6 2185.4,992.6 2189.2,990.2 2193.2,988.4 2197.4,987.3 2201.7,986.9 2206.0,987.2 2210.4,988.2 2214.8,989.8 2219.2,992.1 2223.5,994.9 2227.7,998.4 2231.6,1002.3 2235.4,1006.8 2238.8,1011.7 2241.9,1016.9 2244.7,1022.4 2247.0,1028.2" fill="url(#treebot)"/>
<line x1="1521.5" y1="1071.0" x2="1525.0" y2="1144.0" stroke="#596b1f" stroke-width="6.50" stroke-linecap="butt"/>
<polygon points="1586.7,1002.3 1587.4,1010.3 1587.3,1018.3 1586.3,1026.1 1584.6,1033.7 1582.1,1040.9 1578.7,1047.6 1574.7,1053.8 1569.9,1059.4 1564.5,1064.3 1558.5,1068.5 1552.0,1071.9 1545.2,1074.5 1538.1,1076.1 1530.8,1076.9 1523.5,1076.8 1516.2,1075.8 1509.2,1073.9 1502.4,1071.1 1496.1,1067.5 1490.3,1063.1 1485.0,1057.9 1480.4,1052.1 1476.4,1045.7 1473.2,1038.7 1470.8,1031.4 1469.2,1023.7 1468.4,1015.8 1468.3,1007.7 1468.9,999.6 1470.3,991.6 1472.4,983.7 1475.0,976.1 1478.3,968.9 1482.0,962.1 1486.3,955.9 1490.9,950.3 1495.9,945.4 1501.2,941.3 1506.7,937.9 1512.4,935.4 1518.3,933.8 1524.2,933.1 1530.2,933.3 1536.2,934.3 1542.1,936.3 1547.9,939.1 1553.6,942.8 1559.0,947.2 1564.1,952.4 1568.9,958.2 1573.2,964.6 1577.1,971.5 1580.5,978.8 1583.2,986.4 1585.3,994.3" fill="url(#tree)"/>
<polygon points="1586.7,1002.3 1587.4,1010.3 1587.3,1018.3 1586.3,1026.1 1584.6,1033.7 1582.1,1040.9 1578.7,1047.6 1574.7,1053.8 1569.9,1059.4 1564.5,1064.3 1558.5,1068.5 1552.0,1071.9 1545.2,1074.5 1538.1,1076.1 1530.8,1076.9 1523.5,1076.8 1516.2,1075.8 1509.2,1073.9 1502.4,1071.1 1496.1,1067.5 1490.3,1063.1 1485.0,1057.9 1480.4,1052.1 1476.4,1045.7 1473.2,1038.7 1470.8,1031.4 1469.2,1023.7 1468.4,1015.8 1468.3,1007.7 1468.9,999.6 1470.3,991.6 1472.4,983.7 1475.0,976.1 1478.3,968.9 1482.0,962.1 1486.3,955.9 1490.9,950.3 1495.9,945.4 1501.2,941.3 1506.7,937.9 1512.4,935.4 1518.3,933.8 1524.2,933.1 1530.2,933.3 1536.2,934.3 1542.1,936.3 1547.9,939.1 1553.6,942.8 1559.0,947.2 1564.1,952.4 1568.9,958.2 1573.2,964.6 1577.1,971.5 1580.5,978.8 1583.2,986.4 1585.3,994.3" fill="url(#treerim)"/>
<polygon points="1586.7,1002.3 1587.4,1010.3 1587.3,1018.3 1586.3,1026.1 1584.6,1033.7 1582.1,1040.9 1578.7,1047.6 1574.7,1053.8 1569.9,1059.4 1564.5,1064.3 1558.5,1068.5 1552.0,1071.9 1545.2,1074.5 1538.1,1076.1 1530.8,1076.9 1523.5,1076.8 1516.2,1075.8 1509.2,1073.9 1502.4,1071.1 1496.1,1067.5 1490.3,1063.1 1485.0,1057.9 1480.4,1052.1 1476.4,1045.7 1473.2,1038.7 1470.8,1031.4 1469.2,1023.7 1468.4,1015.8 1468.3,1007.7 1468.9,999.6 1470.3,991.6 1472.4,983.7 1475.0,976.1 1478.3,968.9 1482.0,962.1 1486.3,955.9 1490.9,950.3 1495.9,945.4 1501.2,941.3 1506.7,937.9 1512.4,935.4 1518.3,933.8 1524.2,933.1 1530.2,933.3 1536.2,934.3 1542.1,936.3 1547.9,939.1 1553.6,942.8 1559.0,947.2 1564.1,952.4 1568.9,958.2 1573.2,964.6 1577.1,971.5 1580.5,978.8 1583.2,986.4 1585.3,994.3" fill="url(#treebot)"/>
<line x1="2106.0" y1="1115.7" x2="2101.7" y2="1172.0" stroke="#596b1f" stroke-width="6.50" stroke-linecap="butt"/>
<polygon points="2178.6,1054.6 2178.3,1062.5 2177.3,1070.2 2175.5,1077.7 2172.9,1084.9 2169.6,1091.6 2165.6,1097.7 2161.0,1103.3 2155.7,1108.2 2149.9,1112.4 2143.6,1115.8 2136.9,1118.3 2130.0,1120.0 2122.9,1120.8 2115.8,1120.7 2108.7,1119.7 2101.8,1117.9 2095.2,1115.2 2089.0,1111.7 2083.3,1107.5 2078.2,1102.5 2073.7,1096.9 2069.9,1090.7 2066.8,1084.0 2064.5,1076.8 2063.1,1069.4 2062.4,1061.7 2062.5,1053.9 2063.4,1046.0 2064.9,1038.2 2067.2,1030.6 2070.1,1023.2 2073.6,1016.1 2077.6,1009.4 2082.0,1003.3 2086.8,997.7 2091.9,992.8 2097.3,988.6 2102.9,985.2 2108.7,982.6 2114.5,980.8 2120.4,979.9 2126.2,979.9 2132.0,980.8 2137.7,982.5 2143.2,985.1 2148.5,988.5 2153.5,992.8 2158.2,997.7 2162.6,1003.3 2166.5,1009.5 2170.0,1016.3 2172.9,1023.4 2175.3,1030.9 2177.1,1038.7 2178.2,1046.6" fill="url(#tree)"/>
<polygon points="2178.6,1054.6 2178.3,1062.5 2177.3,1070.2 2175.5,1077.7 2172.9,1084.9 2169.6,1091.6 2165.6,1097.7 2161.0,1103.3 2155.7,1108.2 2149.9,1112.4 2143.6,1115.8 2136.9,1118.3 2130.0,1120.0 2122.9,1120.8 2115.8,1120.7 2108.7,1119.7 2101.8,1117.9 2095.2,1115.2 2089.0,1111.7 2083.3,1107.5 2078.2,1102.5 2073.7,1096.9 2069.9,1090.7 2066.8,1084.0 2064.5,1076.8 2063.1,1069.4 2062.4,1061.7 2062.5,1053.9 2063.4,1046.0 2064.9,1038.2 2067.2,1030.6 2070.1,1023.2 2073.6,1016.1 2077.6,1009.4 2082.0,1003.3 2086.8,997.7 2091.9,992.8 2097.3,988.6 2102.9,985.2 2108.7,982.6 2114.5,980.8 2120.4,979.9 2126.2,979.9 2132.0,980.8 2137.7,982.5 2143.2,985.1 2148.5,988.5 2153.5,992.8 2158.2,997.7 2162.6,1003.3 2166.5,1009.5 2170.0,1016.3 2172.9,1023.4 2175.3,1030.9 2177.1,1038.7 2178.2,1046.6" fill="url(#treerim)"/>
<polygon points="2178.6,1054.6 2178.3,1062.5 2177.3,1070.2 2175.5,1077.7 2172.9,1084.9 2169.6,1091.6 2165.6,1097.7 2161.0,1103.3 2155.7,1108.2 2149.9,1112.4 2143.6,1115.8 2136.9,1118.3 2130.0,1120.0 2122.9,1120.8 2115.8,1120.7 2108.7,1119.7 2101.8,1117.9 2095.2,1115.2 2089.0,1111.7 2083.3,1107.5 2078.2,1102.5 2073.7,1096.9 2069.9,1090.7 2066.8,1084.0 2064.5,1076.8 2063.1,1069.4 2062.4,1061.7 2062.5,1053.9 2063.4,1046.0 2064.9,1038.2 2067.2,1030.6 2070.1,1023.2 2073.6,1016.1 2077.6,1009.4 2082.0,1003.3 2086.8,997.7 2091.9,992.8 2097.3,988.6 2102.9,985.2 2108.7,982.6 2114.5,980.8 2120.4,979.9 2126.2,979.9 2132.0,980.8 2137.7,982.5 2143.2,985.1 2148.5,988.5 2153.5,992.8 2158.2,997.7 2162.6,1003.3 2166.5,1009.5 2170.0,1016.3 2172.9,1023.4 2175.3,1030.9 2177.1,1038.7 2178.2,1046.6" fill="url(#treebot)"/>
<line x1="2012.0" y1="1166.0" x2="1999.5" y2="1212.5" stroke="#596b1f" stroke-width="6.50" stroke-linecap="butt"/>
<polygon points="2078.8,1128.6 2077.4,1134.6 2075.5,1140.5 2073.0,1146.0 2070.0,1151.2 2066.5,1155.9 2062.5,1160.1 2058.1,1163.7 2053.3,1166.7 2048.2,1169.1 2042.9,1170.8 2037.4,1171.8 2031.8,1172.2 2026.2,1171.8 2020.7,1170.7 2015.3,1168.9 2010.3,1166.5 2005.6,1163.5 2001.3,1159.9 1997.5,1155.8 1994.2,1151.2 1991.5,1146.2 1989.5,1140.9 1988.1,1135.2 1987.3,1129.4 1987.3,1123.4 1987.8,1117.4 1989.0,1111.4 1990.8,1105.4 1993.2,1099.6 1996.0,1094.0 1999.3,1088.7 2003.0,1083.7 2007.1,1079.2 2011.4,1075.1 2015.9,1071.4 2020.6,1068.4 2025.4,1065.9 2030.2,1064.1 2035.0,1062.9 2039.7,1062.4 2044.4,1062.5 2048.9,1063.3 2053.3,1064.8 2057.4,1067.0 2061.3,1069.8 2064.9,1073.2 2068.2,1077.2 2071.1,1081.7 2073.7,1086.7 2075.8,1092.0 2077.6,1097.7 2078.8,1103.7 2079.6,1109.8 2079.8,1116.1 2079.6,1122.4" fill="url(#tree)"/>
<polygon points="2078.8,1128.6 2077.4,1134.6 2075.5,1140.5 2073.0,1146.0 2070.0,1151.2 2066.5,1155.9 2062.5,1160.1 2058.1,1163.7 2053.3,1166.7 2048.2,1169.1 2042.9,1170.8 2037.4,1171.8 2031.8,1172.2 2026.2,1171.8 2020.7,1170.7 2015.3,1168.9 2010.3,1166.5 2005.6,1163.5 2001.3,1159.9 1997.5,1155.8 1994.2,1151.2 1991.5,1146.2 1989.5,1140.9 1988.1,1135.2 1987.3,1129.4 1987.3,1123.4 1987.8,1117.4 1989.0,1111.4 1990.8,1105.4 1993.2,1099.6 1996.0,1094.0 1999.3,1088.7 2003.0,1083.7 2007.1,1079.2 2011.4,1075.1 2015.9,1071.4 2020.6,1068.4 2025.4,1065.9 2030.2,1064.1 2035.0,1062.9 2039.7,1062.4 2044.4,1062.5 2048.9,1063.3 2053.3,1064.8 2057.4,1067.0 2061.3,1069.8 2064.9,1073.2 2068.2,1077.2 2071.1,1081.7 2073.7,1086.7 2075.8,1092.0 2077.6,1097.7 2078.8,1103.7 2079.6,1109.8 2079.8,1116.1 2079.6,1122.4" fill="url(#treerim)"/>
<polygon points="2078.8,1128.6 2077.4,1134.6 2075.5,1140.5 2073.0,1146.0 2070.0,1151.2 2066.5,1155.9 2062.5,1160.1 2058.1,1163.7 2053.3,1166.7 2048.2,1169.1 2042.9,1170.8 2037.4,1171.8 2031.8,1172.2 2026.2,1171.8 2020.7,1170.7 2015.3,1168.9 2010.3,1166.5 2005.6,1163.5 2001.3,1159.9 1997.5,1155.8 1994.2,1151.2 1991.5,1146.2 1989.5,1140.9 1988.1,1135.2 1987.3,1129.4 1987.3,1123.4 1987.8,1117.4 1989.0,1111.4 1990.8,1105.4 1993.2,1099.6 1996.0,1094.0 1999.3,1088.7 2003.0,1083.7 2007.1,1079.2 2011.4,1075.1 2015.9,1071.4 2020.6,1068.4 2025.4,1065.9 2030.2,1064.1 2035.0,1062.9 2039.7,1062.4 2044.4,1062.5 2048.9,1063.3 2053.3,1064.8 2057.4,1067.0 2061.3,1069.8 2064.9,1073.2 2068.2,1077.2 2071.1,1081.7 2073.7,1086.7 2075.8,1092.0 2077.6,1097.7 2078.8,1103.7 2079.6,1109.8 2079.8,1116.1 2079.6,1122.4" fill="url(#treebot)"/>
<line x1="1931.4" y1="1188.8" x2="1923.8" y2="1233.2" stroke="#596b1f" stroke-width="6.50" stroke-linecap="butt"/>
<polygon points="1990.7,1145.0 1989.8,1151.2 1988.5,1157.2 1986.5,1162.9 1984.1,1168.4 1981.1,1173.4 1977.6,1177.9 1973.7,1182.0 1969.4,1185.5 1964.7,1188.3 1959.7,1190.5 1954.6,1192.1 1949.3,1192.9 1943.9,1193.1 1938.6,1192.5 1933.3,1191.3 1928.3,1189.4 1923.6,1186.8 1919.2,1183.7 1915.2,1180.0 1911.8,1175.7 1908.8,1171.0 1906.4,1165.9 1904.7,1160.5 1903.5,1154.7 1902.9,1148.8 1903.0,1142.8 1903.7,1136.6 1904.9,1130.6 1906.7,1124.6 1909.0,1118.7 1911.7,1113.1 1914.9,1107.8 1918.3,1102.9 1922.1,1098.4 1926.2,1094.3 1930.4,1090.9 1934.8,1087.9 1939.2,1085.6 1943.7,1084.0 1948.2,1083.0 1952.7,1082.7 1957.0,1083.1 1961.3,1084.1 1965.4,1085.9 1969.3,1088.3 1973.1,1091.4 1976.5,1095.0 1979.7,1099.2 1982.5,1103.9 1985.0,1109.0 1987.1,1114.5 1988.8,1120.3 1990.0,1126.3 1990.7,1132.5 1991.0,1138.8" fill="url(#tree)"/>
<polygon points="1990.7,1145.0 1989.8,1151.2 1988.5,1157.2 1986.5,1162.9 1984.1,1168.4 1981.1,1173.4 1977.6,1177.9 1973.7,1182.0 1969.4,1185.5 1964.7,1188.3 1959.7,1190.5 1954.6,1192.1 1949.3,1192.9 1943.9,1193.1 1938.6,1192.5 1933.3,1191.3 1928.3,1189.4 1923.6,1186.8 1919.2,1183.7 1915.2,1180.0 1911.8,1175.7 1908.8,1171.0 1906.4,1165.9 1904.7,1160.5 1903.5,1154.7 1902.9,1148.8 1903.0,1142.8 1903.7,1136.6 1904.9,1130.6 1906.7,1124.6 1909.0,1118.7 1911.7,1113.1 1914.9,1107.8 1918.3,1102.9 1922.1,1098.4 1926.2,1094.3 1930.4,1090.9 1934.8,1087.9 1939.2,1085.6 1943.7,1084.0 1948.2,1083.0 1952.7,1082.7 1957.0,1083.1 1961.3,1084.1 1965.4,1085.9 1969.3,1088.3 1973.1,1091.4 1976.5,1095.0 1979.7,1099.2 1982.5,1103.9 1985.0,1109.0 1987.1,1114.5 1988.8,1120.3 1990.0,1126.3 1990.7,1132.5 1991.0,1138.8" fill="url(#treerim)"/>
<polygon points="1990.7,1145.0 1989.8,1151.2 1988.5,1157.2 1986.5,1162.9 1984.1,1168.4 1981.1,1173.4 1977.6,1177.9 1973.7,1182.0 1969.4,1185.5 1964.7,1188.3 1959.7,1190.5 1954.6,1192.1 1949.3,1192.9 1943.9,1193.1 1938.6,1192.5 1933.3,1191.3 1928.3,1189.4 1923.6,1186.8 1919.2,1183.7 1915.2,1180.0 1911.8,1175.7 1908.8,1171.0 1906.4,1165.9 1904.7,1160.5 1903.5,1154.7 1902.9,1148.8 1903.0,1142.8 1903.7,1136.6 1904.9,1130.6 1906.7,1124.6 1909.0,1118.7 1911.7,1113.1 1914.9,1107.8 1918.3,1102.9 1922.1,1098.4 1926.2,1094.3 1930.4,1090.9 1934.8,1087.9 1939.2,1085.6 1943.7,1084.0 1948.2,1083.0 1952.7,1082.7 1957.0,1083.1 1961.3,1084.1 1965.4,1085.9 1969.3,1088.3 1973.1,1091.4 1976.5,1095.0 1979.7,1099.2 1982.5,1103.9 1985.0,1109.0 1987.1,1114.5 1988.8,1120.3 1990.0,1126.3 1990.7,1132.5 1991.0,1138.8" fill="url(#treebot)"/>
<line x1="1840.5" y1="1207.8" x2="1844.3" y2="1266.0" stroke="#596b1f" stroke-width="6.50" stroke-linecap="butt"/>
<polygon points="1905.8,1138.7 1906.5,1146.4 1906.5,1154.0 1905.8,1161.4 1904.2,1168.7 1901.8,1175.6 1898.6,1182.0 1894.7,1188.0 1890.1,1193.5 1884.8,1198.3 1879.0,1202.3 1872.7,1205.7 1866.0,1208.3 1859.1,1210.0 1851.9,1210.9 1844.7,1210.9 1837.6,1210.0 1830.6,1208.3 1824.0,1205.8 1817.7,1202.5 1811.9,1198.4 1806.6,1193.6 1802.0,1188.1 1798.0,1182.1 1794.8,1175.6 1792.3,1168.6 1790.6,1161.3 1789.6,1153.8 1789.4,1146.1 1789.9,1138.3 1791.2,1130.7 1793.1,1123.1 1795.6,1115.9 1798.7,1108.9 1802.3,1102.4 1806.3,1096.4 1810.8,1091.0 1815.6,1086.2 1820.7,1082.2 1826.1,1078.9 1831.7,1076.4 1837.4,1074.7 1843.3,1073.9 1849.2,1074.0 1855.1,1074.9 1860.9,1076.7 1866.7,1079.3 1872.3,1082.6 1877.7,1086.8 1882.8,1091.6 1887.6,1097.0 1891.9,1103.0 1895.9,1109.5 1899.3,1116.4 1902.1,1123.7 1904.3,1131.1" fill="url(#tree)"/>
<polygon points="1905.8,1138.7 1906.5,1146.4 1906.5,1154.0 1905.8,1161.4 1904.2,1168.7 1901.8,1175.6 1898.6,1182.0 1894.7,1188.0 1890.1,1193.5 1884.8,1198.3 1879.0,1202.3 1872.7,1205.7 1866.0,1208.3 1859.1,1210.0 1851.9,1210.9 1844.7,1210.9 1837.6,1210.0 1830.6,1208.3 1824.0,1205.8 1817.7,1202.5 1811.9,1198.4 1806.6,1193.6 1802.0,1188.1 1798.0,1182.1 1794.8,1175.6 1792.3,1168.6 1790.6,1161.3 1789.6,1153.8 1789.4,1146.1 1789.9,1138.3 1791.2,1130.7 1793.1,1123.1 1795.6,1115.9 1798.7,1108.9 1802.3,1102.4 1806.3,1096.4 1810.8,1091.0 1815.6,1086.2 1820.7,1082.2 1826.1,1078.9 1831.7,1076.4 1837.4,1074.7 1843.3,1073.9 1849.2,1074.0 1855.1,1074.9 1860.9,1076.7 1866.7,1079.3 1872.3,1082.6 1877.7,1086.8 1882.8,1091.6 1887.6,1097.0 1891.9,1103.0 1895.9,1109.5 1899.3,1116.4 1902.1,1123.7 1904.3,1131.1" fill="url(#treerim)"/>
<polygon points="1905.8,1138.7 1906.5,1146.4 1906.5,1154.0 1905.8,1161.4 1904.2,1168.7 1901.8,1175.6 1898.6,1182.0 1894.7,1188.0 1890.1,1193.5 1884.8,1198.3 1879.0,1202.3 1872.7,1205.7 1866.0,1208.3 1859.1,1210.0 1851.9,1210.9 1844.7,1210.9 1837.6,1210.0 1830.6,1208.3 1824.0,1205.8 1817.7,1202.5 1811.9,1198.4 1806.6,1193.6 1802.0,1188.1 1798.0,1182.1 1794.8,1175.6 1792.3,1168.6 1790.6,1161.3 1789.6,1153.8 1789.4,1146.1 1789.9,1138.3 1791.2,1130.7 1793.1,1123.1 1795.6,1115.9 1798.7,1108.9 1802.3,1102.4 1806.3,1096.4 1810.8,1091.0 1815.6,1086.2 1820.7,1082.2 1826.1,1078.9 1831.7,1076.4 1837.4,1074.7 1843.3,1073.9 1849.2,1074.0 1855.1,1074.9 1860.9,1076.7 1866.7,1079.3 1872.3,1082.6 1877.7,1086.8 1882.8,1091.6 1887.6,1097.0 1891.9,1103.0 1895.9,1109.5 1899.3,1116.4 1902.1,1123.7 1904.3,1131.1" fill="url(#treebot)"/>
<line x1="1094.8" y1="1222.0" x2="1092.3" y2="1273.6" stroke="#596b1f" stroke-width="6.50" stroke-linecap="butt"/>
<polygon points="1150.5,1172.1 1150.4,1178.5 1149.8,1184.7 1148.5,1190.8 1146.7,1196.6 1144.2,1202.1 1141.2,1207.1 1137.7,1211.7 1133.7,1215.8 1129.3,1219.3 1124.5,1222.1 1119.4,1224.3 1114.0,1225.8 1108.6,1226.6 1103.0,1226.7 1097.5,1226.1 1092.1,1224.8 1087.0,1222.8 1082.1,1220.1 1077.6,1216.8 1073.5,1212.9 1069.9,1208.5 1066.8,1203.6 1064.3,1198.3 1062.4,1192.6 1061.1,1186.7 1060.4,1180.5 1060.4,1174.2 1060.9,1167.9 1062.0,1161.6 1063.6,1155.4 1065.7,1149.3 1068.2,1143.6 1071.2,1138.1 1074.5,1133.1 1078.2,1128.5 1082.0,1124.4 1086.1,1120.9 1090.4,1118.0 1094.8,1115.8 1099.3,1114.3 1103.8,1113.4 1108.4,1113.3 1112.9,1113.8 1117.3,1115.1 1121.6,1117.1 1125.8,1119.7 1129.8,1123.0 1133.6,1126.9 1137.0,1131.3 1140.2,1136.2 1143.1,1141.5 1145.5,1147.2 1147.5,1153.2 1149.0,1159.4 1150.0,1165.7" fill="url(#tree)"/>
<polygon points="1150.5,1172.1 1150.4,1178.5 1149.8,1184.7 1148.5,1190.8 1146.7,1196.6 1144.2,1202.1 1141.2,1207.1 1137.7,1211.7 1133.7,1215.8 1129.3,1219.3 1124.5,1222.1 1119.4,1224.3 1114.0,1225.8 1108.6,1226.6 1103.0,1226.7 1097.5,1226.1 1092.1,1224.8 1087.0,1222.8 1082.1,1220.1 1077.6,1216.8 1073.5,1212.9 1069.9,1208.5 1066.8,1203.6 1064.3,1198.3 1062.4,1192.6 1061.1,1186.7 1060.4,1180.5 1060.4,1174.2 1060.9,1167.9 1062.0,1161.6 1063.6,1155.4 1065.7,1149.3 1068.2,1143.6 1071.2,1138.1 1074.5,1133.1 1078.2,1128.5 1082.0,1124.4 1086.1,1120.9 1090.4,1118.0 1094.8,1115.8 1099.3,1114.3 1103.8,1113.4 1108.4,1113.3 1112.9,1113.8 1117.3,1115.1 1121.6,1117.1 1125.8,1119.7 1129.8,1123.0 1133.6,1126.9 1137.0,1131.3 1140.2,1136.2 1143.1,1141.5 1145.5,1147.2 1147.5,1153.2 1149.0,1159.4 1150.0,1165.7" fill="url(#treerim)"/>
<polygon points="1150.5,1172.1 1150.4,1178.5 1149.8,1184.7 1148.5,1190.8 1146.7,1196.6 1144.2,1202.1 1141.2,1207.1 1137.7,1211.7 1133.7,1215.8 1129.3,1219.3 1124.5,1222.1 1119.4,1224.3 1114.0,1225.8 1108.6,1226.6 1103.0,1226.7 1097.5,1226.1 1092.1,1224.8 1087.0,1222.8 1082.1,1220.1 1077.6,1216.8 1073.5,1212.9 1069.9,1208.5 1066.8,1203.6 1064.3,1198.3 1062.4,1192.6 1061.1,1186.7 1060.4,1180.5 1060.4,1174.2 1060.9,1167.9 1062.0,1161.6 1063.6,1155.4 1065.7,1149.3 1068.2,1143.6 1071.2,1138.1 1074.5,1133.1 1078.2,1128.5 1082.0,1124.4 1086.1,1120.9 1090.4,1118.0 1094.8,1115.8 1099.3,1114.3 1103.8,1113.4 1108.4,1113.3 1112.9,1113.8 1117.3,1115.1 1121.6,1117.1 1125.8,1119.7 1129.8,1123.0 1133.6,1126.9 1137.0,1131.3 1140.2,1136.2 1143.1,1141.5 1145.5,1147.2 1147.5,1153.2 1149.0,1159.4 1150.0,1165.7" fill="url(#treebot)"/>
<line x1="1011.6" y1="1244.8" x2="1012.3" y2="1306.9" stroke="#596b1f" stroke-width="6.50" stroke-linecap="butt"/>
<polygon points="1058.8,1178.9 1059.2,1186.6 1058.8,1194.3 1057.6,1201.8 1055.7,1209.0 1053.0,1215.9 1049.6,1222.3 1045.4,1228.1 1040.6,1233.3 1035.2,1237.9 1029.3,1241.7 1022.9,1244.8 1016.2,1247.0 1009.3,1248.4 1002.3,1248.9 995.2,1248.5 988.2,1247.3 981.5,1245.2 975.1,1242.3 969.1,1238.6 963.6,1234.2 958.6,1229.0 954.4,1223.3 950.8,1217.0 948.0,1210.2 945.9,1203.0 944.6,1195.6 944.0,1187.9 944.2,1180.1 945.1,1172.3 946.7,1164.7 948.9,1157.1 951.8,1149.9 955.2,1143.1 959.0,1136.7 963.3,1130.8 968.0,1125.6 973.0,1121.0 978.2,1117.2 983.6,1114.2 989.3,1112.0 995.0,1110.6 1000.7,1110.1 1006.5,1110.5 1012.3,1111.7 1017.9,1113.8 1023.4,1116.7 1028.8,1120.4 1033.8,1124.9 1038.6,1130.0 1043.0,1135.8 1047.0,1142.1 1050.6,1148.9 1053.6,1156.0 1056.0,1163.5 1057.7,1171.1" fill="url(#tree)"/>
<polygon points="1058.8,1178.9 1059.2,1186.6 1058.8,1194.3 1057.6,1201.8 1055.7,1209.0 1053.0,1215.9 1049.6,1222.3 1045.4,1228.1 1040.6,1233.3 1035.2,1237.9 1029.3,1241.7 1022.9,1244.8 1016.2,1247.0 1009.3,1248.4 1002.3,1248.9 995.2,1248.5 988.2,1247.3 981.5,1245.2 975.1,1242.3 969.1,1238.6 963.6,1234.2 958.6,1229.0 954.4,1223.3 950.8,1217.0 948.0,1210.2 945.9,1203.0 944.6,1195.6 944.0,1187.9 944.2,1180.1 945.1,1172.3 946.7,1164.7 948.9,1157.1 951.8,1149.9 955.2,1143.1 959.0,1136.7 963.3,1130.8 968.0,1125.6 973.0,1121.0 978.2,1117.2 983.6,1114.2 989.3,1112.0 995.0,1110.6 1000.7,1110.1 1006.5,1110.5 1012.3,1111.7 1017.9,1113.8 1023.4,1116.7 1028.8,1120.4 1033.8,1124.9 1038.6,1130.0 1043.0,1135.8 1047.0,1142.1 1050.6,1148.9 1053.6,1156.0 1056.0,1163.5 1057.7,1171.1" fill="url(#treerim)"/>
<polygon points="1058.8,1178.9 1059.2,1186.6 1058.8,1194.3 1057.6,1201.8 1055.7,1209.0 1053.0,1215.9 1049.6,1222.3 1045.4,1228.1 1040.6,1233.3 1035.2,1237.9 1029.3,1241.7 1022.9,1244.8 1016.2,1247.0 1009.3,1248.4 1002.3,1248.9 995.2,1248.5 988.2,1247.3 981.5,1245.2 975.1,1242.3 969.1,1238.6 963.6,1234.2 958.6,1229.0 954.4,1223.3 950.8,1217.0 948.0,1210.2 945.9,1203.0 944.6,1195.6 944.0,1187.9 944.2,1180.1 945.1,1172.3 946.7,1164.7 948.9,1157.1 951.8,1149.9 955.2,1143.1 959.0,1136.7 963.3,1130.8 968.0,1125.6 973.0,1121.0 978.2,1117.2 983.6,1114.2 989.3,1112.0 995.0,1110.6 1000.7,1110.1 1006.5,1110.5 1012.3,1111.7 1017.9,1113.8 1023.4,1116.7 1028.8,1120.4 1033.8,1124.9 1038.6,1130.0 1043.0,1135.8 1047.0,1142.1 1050.6,1148.9 1053.6,1156.0 1056.0,1163.5 1057.7,1171.1" fill="url(#treebot)"/>
<line x1="2661.0" y1="1273.5" x2="2663.5" y2="1322.5" stroke="#596b1f" stroke-width="6.50" stroke-linecap="butt"/>
<polygon points="2695.4,1221.2 2695.9,1227.4 2695.9,1233.5 2695.2,1239.4 2693.9,1245.2 2691.9,1250.7 2689.4,1255.9 2686.3,1260.6 2682.7,1264.9 2678.5,1268.7 2673.9,1271.9 2669.0,1274.5 2663.8,1276.5 2658.3,1277.8 2652.7,1278.4 2647.1,1278.4 2641.6,1277.6 2636.2,1276.2 2631.0,1274.1 2626.1,1271.3 2621.6,1268.0 2617.6,1264.1 2614.0,1259.6 2611.0,1254.7 2608.5,1249.5 2606.6,1243.9 2605.4,1238.0 2604.7,1231.9 2604.6,1225.8 2605.1,1219.6 2606.1,1213.4 2607.7,1207.4 2609.7,1201.6 2612.1,1196.1 2615.0,1190.9 2618.2,1186.1 2621.8,1181.9 2625.6,1178.1 2629.6,1174.9 2633.8,1172.3 2638.2,1170.4 2642.7,1169.1 2647.3,1168.6 2651.8,1168.7 2656.4,1169.5 2661.0,1171.0 2665.4,1173.1 2669.8,1175.9 2673.9,1179.2 2677.9,1183.2 2681.6,1187.6 2684.9,1192.5 2687.9,1197.7 2690.5,1203.3 2692.7,1209.1 2694.3,1215.1" fill="url(#tree)"/>
<polygon points="2695.4,1221.2 2695.9,1227.4 2695.9,1233.5 2695.2,1239.4 2693.9,1245.2 2691.9,1250.7 2689.4,1255.9 2686.3,1260.6 2682.7,1264.9 2678.5,1268.7 2673.9,1271.9 2669.0,1274.5 2663.8,1276.5 2658.3,1277.8 2652.7,1278.4 2647.1,1278.4 2641.6,1277.6 2636.2,1276.2 2631.0,1274.1 2626.1,1271.3 2621.6,1268.0 2617.6,1264.1 2614.0,1259.6 2611.0,1254.7 2608.5,1249.5 2606.6,1243.9 2605.4,1238.0 2604.7,1231.9 2604.6,1225.8 2605.1,1219.6 2606.1,1213.4 2607.7,1207.4 2609.7,1201.6 2612.1,1196.1 2615.0,1190.9 2618.2,1186.1 2621.8,1181.9 2625.6,1178.1 2629.6,1174.9 2633.8,1172.3 2638.2,1170.4 2642.7,1169.1 2647.3,1168.6 2651.8,1168.7 2656.4,1169.5 2661.0,1171.0 2665.4,1173.1 2669.8,1175.9 2673.9,1179.2 2677.9,1183.2 2681.6,1187.6 2684.9,1192.5 2687.9,1197.7 2690.5,1203.3 2692.7,1209.1 2694.3,1215.1" fill="url(#treerim)"/>
<polygon points="2695.4,1221.2 2695.9,1227.4 2695.9,1233.5 2695.2,1239.4 2693.9,1245.2 2691.9,1250.7 2689.4,1255.9 2686.3,1260.6 2682.7,1264.9 2678.5,1268.7 2673.9,1271.9 2669.0,1274.5 2663.8,1276.5 2658.3,1277.8 2652.7,1278.4 2647.1,1278.4 2641.6,1277.6 2636.2,1276.2 2631.0,1274.1 2626.1,1271.3 2621.6,1268.0 2617.6,1264.1 2614.0,1259.6 2611.0,1254.7 2608.5,1249.5 2606.6,1243.9 2605.4,1238.0 2604.7,1231.9 2604.6,1225.8 2605.1,1219.6 2606.1,1213.4 2607.7,1207.4 2609.7,1201.6 2612.1,1196.1 2615.0,1190.9 2618.2,1186.1 2621.8,1181.9 2625.6,1178.1 2629.6,1174.9 2633.8,1172.3 2638.2,1170.4 2642.7,1169.1 2647.3,1168.6 2651.8,1168.7 2656.4,1169.5 2661.0,1171.0 2665.4,1173.1 2669.8,1175.9 2673.9,1179.2 2677.9,1183.2 2681.6,1187.6 2684.9,1192.5 2687.9,1197.7 2690.5,1203.3 2692.7,1209.1 2694.3,1215.1" fill="url(#treebot)"/>
<line x1="1623.5" y1="1270.5" x2="1621.0" y2="1342.0" stroke="#596b1f" stroke-width="6.50" stroke-linecap="butt"/>
<polygon points="1678.8,1204.5 1678.8,1212.5 1678.1,1220.3 1676.6,1227.9 1674.3,1235.2 1671.3,1242.1 1667.6,1248.4 1663.2,1254.2 1658.2,1259.4 1652.6,1263.8 1646.5,1267.4 1640.0,1270.3 1633.2,1272.2 1626.2,1273.3 1619.1,1273.6 1612.1,1272.9 1605.2,1271.3 1598.6,1268.9 1592.3,1265.6 1586.4,1261.6 1581.1,1256.8 1576.5,1251.3 1572.4,1245.3 1569.2,1238.7 1566.6,1231.6 1564.9,1224.2 1563.9,1216.5 1563.7,1208.6 1564.2,1200.7 1565.5,1192.8 1567.4,1185.0 1570.0,1177.4 1573.2,1170.2 1576.8,1163.3 1581.0,1157.0 1585.5,1151.2 1590.4,1146.0 1595.6,1141.6 1601.0,1137.9 1606.6,1135.1 1612.3,1133.0 1618.1,1131.9 1623.9,1131.6 1629.6,1132.3 1635.3,1133.8 1640.9,1136.2 1646.2,1139.4 1651.4,1143.4 1656.3,1148.2 1660.8,1153.7 1665.0,1159.8 1668.7,1166.4 1671.9,1173.5 1674.6,1180.9 1676.6,1188.6 1678.0,1196.5" fill="url(#tree)"/>
<polygon points="1678.8,1204.5 1678.8,1212.5 1678.1,1220.3 1676.6,1227.9 1674.3,1235.2 1671.3,1242.1 1667.6,1248.4 1663.2,1254.2 1658.2,1259.4 1652.6,1263.8 1646.5,1267.4 1640.0,1270.3 1633.2,1272.2 1626.2,1273.3 1619.1,1273.6 1612.1,1272.9 1605.2,1271.3 1598.6,1268.9 1592.3,1265.6 1586.4,1261.6 1581.1,1256.8 1576.5,1251.3 1572.4,1245.3 1569.2,1238.7 1566.6,1231.6 1564.9,1224.2 1563.9,1216.5 1563.7,1208.6 1564.2,1200.7 1565.5,1192.8 1567.4,1185.0 1570.0,1177.4 1573.2,1170.2 1576.8,1163.3 1581.0,1157.0 1585.5,1151.2 1590.4,1146.0 1595.6,1141.6 1601.0,1137.9 1606.6,1135.1 1612.3,1133.0 1618.1,1131.9 1623.9,1131.6 1629.6,1132.3 1635.3,1133.8 1640.9,1136.2 1646.2,1139.4 1651.4,1143.4 1656.3,1148.2 1660.8,1153.7 1665.0,1159.8 1668.7,1166.4 1671.9,1173.5 1674.6,1180.9 1676.6,1188.6 1678.0,1196.5" fill="url(#treerim)"/>
<polygon points="1678.8,1204.5 1678.8,1212.5 1678.1,1220.3 1676.6,1227.9 1674.3,1235.2 1671.3,1242.1 1667.6,1248.4 1663.2,1254.2 1658.2,1259.4 1652.6,1263.8 1646.5,1267.4 1640.0,1270.3 1633.2,1272.2 1626.2,1273.3 1619.1,1273.6 1612.1,1272.9 1605.2,1271.3 1598.6,1268.9 1592.3,1265.6 1586.4,1261.6 1581.1,1256.8 1576.5,1251.3 1572.4,1245.3 1569.2,1238.7 1566.6,1231.6 1564.9,1224.2 1563.9,1216.5 1563.7,1208.6 1564.2,1200.7 1565.5,1192.8 1567.4,1185.0 1570.0,1177.4 1573.2,1170.2 1576.8,1163.3 1581.0,1157.0 1585.5,1151.2 1590.4,1146.0 1595.6,1141.6 1601.0,1137.9 1606.6,1135.1 1612.3,1133.0 1618.1,1131.9 1623.9,1131.6 1629.6,1132.3 1635.3,1133.8 1640.9,1136.2 1646.2,1139.4 1651.4,1143.4 1656.3,1148.2 1660.8,1153.7 1665.0,1159.8 1668.7,1166.4 1671.9,1173.5 1674.6,1180.9 1676.6,1188.6 1678.0,1196.5" fill="url(#treebot)"/>
<line x1="2555.0" y1="1303.5" x2="2563.5" y2="1347.5" stroke="#596b1f" stroke-width="6.50" stroke-linecap="butt"/>
<polygon points="2598.3,1245.6 2599.6,1251.6 2600.4,1257.7 2600.6,1263.7 2600.3,1269.5 2599.3,1275.2 2597.7,1280.7 2595.5,1285.7 2592.8,1290.5 2589.5,1294.7 2585.8,1298.5 2581.6,1301.7 2577.1,1304.3 2572.3,1306.2 2567.3,1307.5 2562.2,1308.2 2557.0,1308.1 2551.8,1307.3 2546.8,1305.9 2541.9,1303.8 2537.3,1301.0 2533.1,1297.7 2529.2,1293.7 2525.7,1289.3 2522.7,1284.3 2520.2,1279.0 2518.2,1273.4 2516.7,1267.5 2515.7,1261.4 2515.3,1255.2 2515.4,1249.0 2515.9,1242.8 2517.0,1236.8 2518.4,1231.1 2520.3,1225.6 2522.6,1220.5 2525.2,1215.8 2528.2,1211.6 2531.4,1207.9 2534.9,1204.9 2538.7,1202.4 2542.6,1200.6 2546.7,1199.5 2550.9,1199.0 2555.2,1199.2 2559.6,1200.2 2564.0,1201.7 2568.4,1203.9 2572.7,1206.7 2576.8,1210.1 2580.8,1214.0 2584.6,1218.4 2588.1,1223.3 2591.2,1228.5 2594.0,1234.0 2596.4,1239.7" fill="url(#tree)"/>
<polygon points="2598.3,1245.6 2599.6,1251.6 2600.4,1257.7 2600.6,1263.7 2600.3,1269.5 2599.3,1275.2 2597.7,1280.7 2595.5,1285.7 2592.8,1290.5 2589.5,1294.7 2585.8,1298.5 2581.6,1301.7 2577.1,1304.3 2572.3,1306.2 2567.3,1307.5 2562.2,1308.2 2557.0,1308.1 2551.8,1307.3 2546.8,1305.9 2541.9,1303.8 2537.3,1301.0 2533.1,1297.7 2529.2,1293.7 2525.7,1289.3 2522.7,1284.3 2520.2,1279.0 2518.2,1273.4 2516.7,1267.5 2515.7,1261.4 2515.3,1255.2 2515.4,1249.0 2515.9,1242.8 2517.0,1236.8 2518.4,1231.1 2520.3,1225.6 2522.6,1220.5 2525.2,1215.8 2528.2,1211.6 2531.4,1207.9 2534.9,1204.9 2538.7,1202.4 2542.6,1200.6 2546.7,1199.5 2550.9,1199.0 2555.2,1199.2 2559.6,1200.2 2564.0,1201.7 2568.4,1203.9 2572.7,1206.7 2576.8,1210.1 2580.8,1214.0 2584.6,1218.4 2588.1,1223.3 2591.2,1228.5 2594.0,1234.0 2596.4,1239.7" fill="url(#treerim)"/>
<polygon points="2598.3,1245.6 2599.6,1251.6 2600.4,1257.7 2600.6,1263.7 2600.3,1269.5 2599.3,1275.2 2597.7,1280.7 2595.5,1285.7 2592.8,1290.5 2589.5,1294.7 2585.8,1298.5 2581.6,1301.7 2577.1,1304.3 2572.3,1306.2 2567.3,1307.5 2562.2,1308.2 2557.0,1308.1 2551.8,1307.3 2546.8,1305.9 2541.9,1303.8 2537.3,1301.0 2533.1,1297.7 2529.2,1293.7 2525.7,1289.3 2522.7,1284.3 2520.2,1279.0 2518.2,1273.4 2516.7,1267.5 2515.7,1261.4 2515.3,1255.2 2515.4,1249.0 2515.9,1242.8 2517.0,1236.8 2518.4,1231.1 2520.3,1225.6 2522.6,1220.5 2525.2,1215.8 2528.2,1211.6 2531.4,1207.9 2534.9,1204.9 2538.7,1202.4 2542.6,1200.6 2546.7,1199.5 2550.9,1199.0 2555.2,1199.2 2559.6,1200.2 2564.0,1201.7 2568.4,1203.9 2572.7,1206.7 2576.8,1210.1 2580.8,1214.0 2584.6,1218.4 2588.1,1223.3 2591.2,1228.5 2594.0,1234.0 2596.4,1239.7" fill="url(#treebot)"/>
<line x1="1516.0" y1="1330.0" x2="1511.0" y2="1375.4" stroke="#596b1f" stroke-width="6.50" stroke-linecap="butt"/>
<polygon points="1575.8,1283.2 1575.3,1289.4 1574.3,1295.5 1572.7,1301.3 1570.5,1306.9 1567.7,1312.0 1564.4,1316.8 1560.6,1321.0 1556.3,1324.7 1551.6,1327.9 1546.6,1330.3 1541.3,1332.2 1535.8,1333.3 1530.2,1333.7 1524.6,1333.5 1519.1,1332.5 1513.7,1330.9 1508.6,1328.6 1503.8,1325.7 1499.4,1322.2 1495.5,1318.1 1492.2,1313.6 1489.3,1308.6 1487.1,1303.3 1485.5,1297.6 1484.6,1291.7 1484.2,1285.7 1484.5,1279.5 1485.4,1273.4 1486.9,1267.3 1488.9,1261.3 1491.3,1255.6 1494.3,1250.1 1497.6,1245.0 1501.2,1240.3 1505.1,1236.1 1509.3,1232.3 1513.7,1229.2 1518.2,1226.7 1522.7,1224.8 1527.4,1223.5 1532.0,1223.0 1536.6,1223.1 1541.1,1224.0 1545.5,1225.5 1549.8,1227.7 1553.8,1230.5 1557.7,1234.0 1561.3,1238.0 1564.5,1242.5 1567.5,1247.5 1570.0,1252.9 1572.1,1258.6 1573.8,1264.6 1575.0,1270.7 1575.7,1276.9" fill="url(#tree)"/>
<polygon points="1575.8,1283.2 1575.3,1289.4 1574.3,1295.5 1572.7,1301.3 1570.5,1306.9 1567.7,1312.0 1564.4,1316.8 1560.6,1321.0 1556.3,1324.7 1551.6,1327.9 1546.6,1330.3 1541.3,1332.2 1535.8,1333.3 1530.2,1333.7 1524.6,1333.5 1519.1,1332.5 1513.7,1330.9 1508.6,1328.6 1503.8,1325.7 1499.4,1322.2 1495.5,1318.1 1492.2,1313.6 1489.3,1308.6 1487.1,1303.3 1485.5,1297.6 1484.6,1291.7 1484.2,1285.7 1484.5,1279.5 1485.4,1273.4 1486.9,1267.3 1488.9,1261.3 1491.3,1255.6 1494.3,1250.1 1497.6,1245.0 1501.2,1240.3 1505.1,1236.1 1509.3,1232.3 1513.7,1229.2 1518.2,1226.7 1522.7,1224.8 1527.4,1223.5 1532.0,1223.0 1536.6,1223.1 1541.1,1224.0 1545.5,1225.5 1549.8,1227.7 1553.8,1230.5 1557.7,1234.0 1561.3,1238.0 1564.5,1242.5 1567.5,1247.5 1570.0,1252.9 1572.1,1258.6 1573.8,1264.6 1575.0,1270.7 1575.7,1276.9" fill="url(#treerim)"/>
<polygon points="1575.8,1283.2 1575.3,1289.4 1574.3,1295.5 1572.7,1301.3 1570.5,1306.9 1567.7,1312.0 1564.4,1316.8 1560.6,1321.0 1556.3,1324.7 1551.6,1327.9 1546.6,1330.3 1541.3,1332.2 1535.8,1333.3 1530.2,1333.7 1524.6,1333.5 1519.1,1332.5 1513.7,1330.9 1508.6,1328.6 1503.8,1325.7 1499.4,1322.2 1495.5,1318.1 1492.2,1313.6 1489.3,1308.6 1487.1,1303.3 1485.5,1297.6 1484.6,1291.7 1484.2,1285.7 1484.5,1279.5 1485.4,1273.4 1486.9,1267.3 1488.9,1261.3 1491.3,1255.6 1494.3,1250.1 1497.6,1245.0 1501.2,1240.3 1505.1,1236.1 1509.3,1232.3 1513.7,1229.2 1518.2,1226.7 1522.7,1224.8 1527.4,1223.5 1532.0,1223.0 1536.6,1223.1 1541.1,1224.0 1545.5,1225.5 1549.8,1227.7 1553.8,1230.5 1557.7,1234.0 1561.3,1238.0 1564.5,1242.5 1567.5,1247.5 1570.0,1252.9 1572.1,1258.6 1573.8,1264.6 1575.0,1270.7 1575.7,1276.9" fill="url(#treebot)"/>
<line x1="2455.5" y1="1329.0" x2="2450.5" y2="1384.5" stroke="#596b1f" stroke-width="6.50" stroke-linecap="butt"/>
<polygon points="2527.1,1269.1 2526.7,1276.9 2525.5,1284.6 2523.6,1292.0 2521.0,1299.0 2517.6,1305.6 2513.4,1311.7 2508.7,1317.1 2503.3,1321.9 2497.4,1326.0 2491.0,1329.2 2484.2,1331.7 2477.2,1333.2 2470.1,1333.9 2462.9,1333.7 2455.8,1332.7 2448.9,1330.7 2442.3,1328.0 2436.0,1324.4 2430.3,1320.1 2425.2,1315.1 2420.7,1309.5 2417.0,1303.3 2414.0,1296.6 2411.8,1289.5 2410.4,1282.1 2409.8,1274.5 2410.0,1266.7 2410.9,1258.9 2412.6,1251.2 2415.0,1243.6 2418.0,1236.3 2421.6,1229.4 2425.7,1222.8 2430.2,1216.8 2435.1,1211.4 2440.4,1206.6 2445.9,1202.5 2451.6,1199.2 2457.4,1196.7 2463.3,1195.0 2469.2,1194.2 2475.1,1194.3 2480.9,1195.2 2486.6,1197.0 2492.1,1199.7 2497.4,1203.2 2502.4,1207.4 2507.1,1212.4 2511.5,1218.0 2515.4,1224.2 2518.8,1231.0 2521.7,1238.1 2524.0,1245.6 2525.7,1253.3 2526.7,1261.2" fill="url(#tree)"/>
<polygon points="2527.1,1269.1 2526.7,1276.9 2525.5,1284.6 2523.6,1292.0 2521.0,1299.0 2517.6,1305.6 2513.4,1311.7 2508.7,1317.1 2503.3,1321.9 2497.4,1326.0 2491.0,1329.2 2484.2,1331.7 2477.2,1333.2 2470.1,1333.9 2462.9,1333.7 2455.8,1332.7 2448.9,1330.7 2442.3,1328.0 2436.0,1324.4 2430.3,1320.1 2425.2,1315.1 2420.7,1309.5 2417.0,1303.3 2414.0,1296.6 2411.8,1289.5 2410.4,1282.1 2409.8,1274.5 2410.0,1266.7 2410.9,1258.9 2412.6,1251.2 2415.0,1243.6 2418.0,1236.3 2421.6,1229.4 2425.7,1222.8 2430.2,1216.8 2435.1,1211.4 2440.4,1206.6 2445.9,1202.5 2451.6,1199.2 2457.4,1196.7 2463.3,1195.0 2469.2,1194.2 2475.1,1194.3 2480.9,1195.2 2486.6,1197.0 2492.1,1199.7 2497.4,1203.2 2502.4,1207.4 2507.1,1212.4 2511.5,1218.0 2515.4,1224.2 2518.8,1231.0 2521.7,1238.1 2524.0,1245.6 2525.7,1253.3 2526.7,1261.2" fill="url(#treerim)"/>
<polygon points="2527.1,1269.1 2526.7,1276.9 2525.5,1284.6 2523.6,1292.0 2521.0,1299.0 2517.6,1305.6 2513.4,1311.7 2508.7,1317.1 2503.3,1321.9 2497.4,1326.0 2491.0,1329.2 2484.2,1331.7 2477.2,1333.2 2470.1,1333.9 2462.9,1333.7 2455.8,1332.7 2448.9,1330.7 2442.3,1328.0 2436.0,1324.4 2430.3,1320.1 2425.2,1315.1 2420.7,1309.5 2417.0,1303.3 2414.0,1296.6 2411.8,1289.5 2410.4,1282.1 2409.8,1274.5 2410.0,1266.7 2410.9,1258.9 2412.6,1251.2 2415.0,1243.6 2418.0,1236.3 2421.6,1229.4 2425.7,1222.8 2430.2,1216.8 2435.1,1211.4 2440.4,1206.6 2445.9,1202.5 2451.6,1199.2 2457.4,1196.7 2463.3,1195.0 2469.2,1194.2 2475.1,1194.3 2480.9,1195.2 2486.6,1197.0 2492.1,1199.7 2497.4,1203.2 2502.4,1207.4 2507.1,1212.4 2511.5,1218.0 2515.4,1224.2 2518.8,1231.0 2521.7,1238.1 2524.0,1245.6 2525.7,1253.3 2526.7,1261.2" fill="url(#treebot)"/>
<line x1="1411.5" y1="1355.0" x2="1416.6" y2="1412.0" stroke="#596b1f" stroke-width="6.50" stroke-linecap="butt"/>
<polygon points="1465.9,1282.0 1466.8,1289.8 1467.0,1297.5 1466.4,1305.1 1465.0,1312.5 1462.8,1319.6 1459.8,1326.3 1456.0,1332.5 1451.6,1338.1 1446.4,1343.1 1440.7,1347.5 1434.5,1351.0 1427.9,1353.8 1420.9,1355.7 1413.8,1356.7 1406.6,1356.9 1399.5,1356.2 1392.5,1354.6 1385.8,1352.2 1379.4,1349.0 1373.5,1344.9 1368.1,1340.1 1363.3,1334.7 1359.2,1328.6 1355.8,1322.0 1353.2,1314.9 1351.3,1307.5 1350.1,1299.9 1349.7,1292.0 1350.1,1284.1 1351.1,1276.3 1352.8,1268.6 1355.1,1261.1 1358.0,1253.9 1361.5,1247.2 1365.4,1241.0 1369.7,1235.4 1374.4,1230.4 1379.4,1226.2 1384.7,1222.7 1390.3,1220.0 1395.9,1218.2 1401.8,1217.3 1407.7,1217.2 1413.6,1218.0 1419.5,1219.7 1425.3,1222.2 1431.0,1225.5 1436.5,1229.6 1441.7,1234.4 1446.6,1239.8 1451.2,1245.9 1455.2,1252.4 1458.8,1259.4 1461.8,1266.7 1464.2,1274.3" fill="url(#tree)"/>
<polygon points="1465.9,1282.0 1466.8,1289.8 1467.0,1297.5 1466.4,1305.1 1465.0,1312.5 1462.8,1319.6 1459.8,1326.3 1456.0,1332.5 1451.6,1338.1 1446.4,1343.1 1440.7,1347.5 1434.5,1351.0 1427.9,1353.8 1420.9,1355.7 1413.8,1356.7 1406.6,1356.9 1399.5,1356.2 1392.5,1354.6 1385.8,1352.2 1379.4,1349.0 1373.5,1344.9 1368.1,1340.1 1363.3,1334.7 1359.2,1328.6 1355.8,1322.0 1353.2,1314.9 1351.3,1307.5 1350.1,1299.9 1349.7,1292.0 1350.1,1284.1 1351.1,1276.3 1352.8,1268.6 1355.1,1261.1 1358.0,1253.9 1361.5,1247.2 1365.4,1241.0 1369.7,1235.4 1374.4,1230.4 1379.4,1226.2 1384.7,1222.7 1390.3,1220.0 1395.9,1218.2 1401.8,1217.3 1407.7,1217.2 1413.6,1218.0 1419.5,1219.7 1425.3,1222.2 1431.0,1225.5 1436.5,1229.6 1441.7,1234.4 1446.6,1239.8 1451.2,1245.9 1455.2,1252.4 1458.8,1259.4 1461.8,1266.7 1464.2,1274.3" fill="url(#treerim)"/>
<polygon points="1465.9,1282.0 1466.8,1289.8 1467.0,1297.5 1466.4,1305.1 1465.0,1312.5 1462.8,1319.6 1459.8,1326.3 1456.0,1332.5 1451.6,1338.1 1446.4,1343.1 1440.7,1347.5 1434.5,1351.0 1427.9,1353.8 1420.9,1355.7 1413.8,1356.7 1406.6,1356.9 1399.5,1356.2 1392.5,1354.6 1385.8,1352.2 1379.4,1349.0 1373.5,1344.9 1368.1,1340.1 1363.3,1334.7 1359.2,1328.6 1355.8,1322.0 1353.2,1314.9 1351.3,1307.5 1350.1,1299.9 1349.7,1292.0 1350.1,1284.1 1351.1,1276.3 1352.8,1268.6 1355.1,1261.1 1358.0,1253.9 1361.5,1247.2 1365.4,1241.0 1369.7,1235.4 1374.4,1230.4 1379.4,1226.2 1384.7,1222.7 1390.3,1220.0 1395.9,1218.2 1401.8,1217.3 1407.7,1217.2 1413.6,1218.0 1419.5,1219.7 1425.3,1222.2 1431.0,1225.5 1436.5,1229.6 1441.7,1234.4 1446.6,1239.8 1451.2,1245.9 1455.2,1252.4 1458.8,1259.4 1461.8,1266.7 1464.2,1274.3" fill="url(#treebot)"/>
<line x1="2361.0" y1="1379.0" x2="2349.0" y2="1425.5" stroke="#596b1f" stroke-width="6.50" stroke-linecap="butt"/>
<polygon points="2426.6,1341.6 2425.2,1347.8 2423.4,1353.7 2420.9,1359.3 2418.0,1364.5 2414.5,1369.3 2410.5,1373.6 2406.2,1377.3 2401.4,1380.4 2396.3,1382.9 2391.0,1384.7 2385.5,1385.8 2379.9,1386.2 2374.3,1385.8 2368.8,1384.8 2363.4,1383.1 2358.4,1380.7 2353.6,1377.7 2349.3,1374.1 2345.4,1370.0 2342.1,1365.5 2339.4,1360.5 2337.3,1355.1 2335.9,1349.4 2335.1,1343.6 2335.0,1337.6 2335.5,1331.5 2336.7,1325.4 2338.4,1319.4 2340.7,1313.5 2343.5,1307.8 2346.8,1302.4 2350.5,1297.3 2354.5,1292.7 2358.8,1288.5 2363.3,1284.8 2367.9,1281.6 2372.7,1279.1 2377.5,1277.2 2382.3,1275.9 2387.0,1275.3 2391.7,1275.4 2396.2,1276.2 2400.6,1277.7 2404.7,1279.8 2408.6,1282.6 2412.3,1286.0 2415.6,1290.0 2418.6,1294.5 2421.2,1299.4 2423.4,1304.8 2425.1,1310.5 2426.4,1316.5 2427.3,1322.7 2427.6,1329.0 2427.3,1335.4" fill="url(#tree)"/>
<polygon points="2426.6,1341.6 2425.2,1347.8 2423.4,1353.7 2420.9,1359.3 2418.0,1364.5 2414.5,1369.3 2410.5,1373.6 2406.2,1377.3 2401.4,1380.4 2396.3,1382.9 2391.0,1384.7 2385.5,1385.8 2379.9,1386.2 2374.3,1385.8 2368.8,1384.8 2363.4,1383.1 2358.4,1380.7 2353.6,1377.7 2349.3,1374.1 2345.4,1370.0 2342.1,1365.5 2339.4,1360.5 2337.3,1355.1 2335.9,1349.4 2335.1,1343.6 2335.0,1337.6 2335.5,1331.5 2336.7,1325.4 2338.4,1319.4 2340.7,1313.5 2343.5,1307.8 2346.8,1302.4 2350.5,1297.3 2354.5,1292.7 2358.8,1288.5 2363.3,1284.8 2367.9,1281.6 2372.7,1279.1 2377.5,1277.2 2382.3,1275.9 2387.0,1275.3 2391.7,1275.4 2396.2,1276.2 2400.6,1277.7 2404.7,1279.8 2408.6,1282.6 2412.3,1286.0 2415.6,1290.0 2418.6,1294.5 2421.2,1299.4 2423.4,1304.8 2425.1,1310.5 2426.4,1316.5 2427.3,1322.7 2427.6,1329.0 2427.3,1335.4" fill="url(#treerim)"/>
<polygon points="2426.6,1341.6 2425.2,1347.8 2423.4,1353.7 2420.9,1359.3 2418.0,1364.5 2414.5,1369.3 2410.5,1373.6 2406.2,1377.3 2401.4,1380.4 2396.3,1382.9 2391.0,1384.7 2385.5,1385.8 2379.9,1386.2 2374.3,1385.8 2368.8,1384.8 2363.4,1383.1 2358.4,1380.7 2353.6,1377.7 2349.3,1374.1 2345.4,1370.0 2342.1,1365.5 2339.4,1360.5 2337.3,1355.1 2335.9,1349.4 2335.1,1343.6 2335.0,1337.6 2335.5,1331.5 2336.7,1325.4 2338.4,1319.4 2340.7,1313.5 2343.5,1307.8 2346.8,1302.4 2350.5,1297.3 2354.5,1292.7 2358.8,1288.5 2363.3,1284.8 2367.9,1281.6 2372.7,1279.1 2377.5,1277.2 2382.3,1275.9 2387.0,1275.3 2391.7,1275.4 2396.2,1276.2 2400.6,1277.7 2404.7,1279.8 2408.6,1282.6 2412.3,1286.0 2415.6,1290.0 2418.6,1294.5 2421.2,1299.4 2423.4,1304.8 2425.1,1310.5 2426.4,1316.5 2427.3,1322.7 2427.6,1329.0 2427.3,1335.4" fill="url(#treebot)"/>
<line x1="1322.0" y1="1384.0" x2="1323.0" y2="1443.6" stroke="#596b1f" stroke-width="6.50" stroke-linecap="butt"/>
<polygon points="1371.0,1316.5 1371.4,1324.2 1371.1,1331.8 1369.9,1339.3 1368.1,1346.5 1365.4,1353.3 1362.0,1359.6 1357.9,1365.5 1353.1,1370.7 1347.7,1375.3 1341.8,1379.1 1335.5,1382.2 1328.8,1384.4 1321.9,1385.8 1314.8,1386.4 1307.8,1386.1 1300.8,1384.9 1294.0,1382.9 1287.6,1380.0 1281.6,1376.4 1276.1,1372.0 1271.1,1366.9 1266.8,1361.2 1263.2,1354.9 1260.3,1348.2 1258.2,1341.1 1256.8,1333.7 1256.2,1326.1 1256.4,1318.3 1257.3,1310.6 1258.8,1302.9 1261.0,1295.5 1263.8,1288.3 1267.2,1281.4 1271.0,1275.1 1275.3,1269.2 1279.9,1264.0 1284.8,1259.4 1290.1,1255.6 1295.5,1252.6 1301.1,1250.3 1306.8,1248.9 1312.6,1248.4 1318.4,1248.7 1324.1,1250.0 1329.8,1252.0 1335.3,1254.9 1340.7,1258.5 1345.8,1262.9 1350.6,1268.0 1355.0,1273.7 1359.0,1280.0 1362.6,1286.7 1365.6,1293.8 1368.1,1301.2 1369.9,1308.8" fill="url(#tree)"/>
<polygon points="1371.0,1316.5 1371.4,1324.2 1371.1,1331.8 1369.9,1339.3 1368.1,1346.5 1365.4,1353.3 1362.0,1359.6 1357.9,1365.5 1353.1,1370.7 1347.7,1375.3 1341.8,1379.1 1335.5,1382.2 1328.8,1384.4 1321.9,1385.8 1314.8,1386.4 1307.8,1386.1 1300.8,1384.9 1294.0,1382.9 1287.6,1380.0 1281.6,1376.4 1276.1,1372.0 1271.1,1366.9 1266.8,1361.2 1263.2,1354.9 1260.3,1348.2 1258.2,1341.1 1256.8,1333.7 1256.2,1326.1 1256.4,1318.3 1257.3,1310.6 1258.8,1302.9 1261.0,1295.5 1263.8,1288.3 1267.2,1281.4 1271.0,1275.1 1275.3,1269.2 1279.9,1264.0 1284.8,1259.4 1290.1,1255.6 1295.5,1252.6 1301.1,1250.3 1306.8,1248.9 1312.6,1248.4 1318.4,1248.7 1324.1,1250.0 1329.8,1252.0 1335.3,1254.9 1340.7,1258.5 1345.8,1262.9 1350.6,1268.0 1355.0,1273.7 1359.0,1280.0 1362.6,1286.7 1365.6,1293.8 1368.1,1301.2 1369.9,1308.8" fill="url(#treerim)"/>
<polygon points="1371.0,1316.5 1371.4,1324.2 1371.1,1331.8 1369.9,1339.3 1368.1,1346.5 1365.4,1353.3 1362.0,1359.6 1357.9,1365.5 1353.1,1370.7 1347.7,1375.3 1341.8,1379.1 1335.5,1382.2 1328.8,1384.4 1321.9,1385.8 1314.8,1386.4 1307.8,1386.1 1300.8,1384.9 1294.0,1382.9 1287.6,1380.0 1281.6,1376.4 1276.1,1372.0 1271.1,1366.9 1266.8,1361.2 1263.2,1354.9 1260.3,1348.2 1258.2,1341.1 1256.8,1333.7 1256.2,1326.1 1256.4,1318.3 1257.3,1310.6 1258.8,1302.9 1261.0,1295.5 1263.8,1288.3 1267.2,1281.4 1271.0,1275.1 1275.3,1269.2 1279.9,1264.0 1284.8,1259.4 1290.1,1255.6 1295.5,1252.6 1301.1,1250.3 1306.8,1248.9 1312.6,1248.4 1318.4,1248.7 1324.1,1250.0 1329.8,1252.0 1335.3,1254.9 1340.7,1258.5 1345.8,1262.9 1350.6,1268.0 1355.0,1273.7 1359.0,1280.0 1362.6,1286.7 1365.6,1293.8 1368.1,1301.2 1369.9,1308.8" fill="url(#treebot)"/>
<line x1="2280.5" y1="1401.5" x2="2272.5" y2="1445.5" stroke="#596b1f" stroke-width="6.50" stroke-linecap="butt"/>
<polygon points="2338.7,1359.0 2337.8,1365.2 2336.4,1371.3 2334.4,1377.0 2331.8,1382.5 2328.6,1387.5 2325.0,1392.0 2320.9,1396.1 2316.3,1399.5 2311.4,1402.3 2306.2,1404.5 2300.8,1405.9 2295.3,1406.7 2289.7,1406.8 2284.1,1406.1 2278.7,1404.8 2273.4,1402.8 2268.5,1400.1 2263.9,1396.9 2259.8,1393.0 2256.2,1388.7 2253.1,1383.9 2250.7,1378.7 2248.8,1373.2 2247.6,1367.4 2247.1,1361.4 2247.2,1355.3 2247.9,1349.1 2249.3,1343.0 2251.1,1336.9 2253.6,1331.1 2256.4,1325.5 2259.7,1320.2 2263.4,1315.2 2267.4,1310.7 2271.6,1306.7 2276.0,1303.3 2280.6,1300.4 2285.3,1298.2 2290.0,1296.6 2294.7,1295.7 2299.3,1295.4 2303.9,1295.9 2308.3,1297.0 2312.6,1298.9 2316.7,1301.4 2320.6,1304.5 2324.2,1308.2 2327.5,1312.5 2330.4,1317.3 2333.0,1322.5 2335.1,1328.1 2336.9,1334.0 2338.1,1340.1 2338.8,1346.4 2339.1,1352.7" fill="url(#tree)"/>
<polygon points="2338.7,1359.0 2337.8,1365.2 2336.4,1371.3 2334.4,1377.0 2331.8,1382.5 2328.6,1387.5 2325.0,1392.0 2320.9,1396.1 2316.3,1399.5 2311.4,1402.3 2306.2,1404.5 2300.8,1405.9 2295.3,1406.7 2289.7,1406.8 2284.1,1406.1 2278.7,1404.8 2273.4,1402.8 2268.5,1400.1 2263.9,1396.9 2259.8,1393.0 2256.2,1388.7 2253.1,1383.9 2250.7,1378.7 2248.8,1373.2 2247.6,1367.4 2247.1,1361.4 2247.2,1355.3 2247.9,1349.1 2249.3,1343.0 2251.1,1336.9 2253.6,1331.1 2256.4,1325.5 2259.7,1320.2 2263.4,1315.2 2267.4,1310.7 2271.6,1306.7 2276.0,1303.3 2280.6,1300.4 2285.3,1298.2 2290.0,1296.6 2294.7,1295.7 2299.3,1295.4 2303.9,1295.9 2308.3,1297.0 2312.6,1298.9 2316.7,1301.4 2320.6,1304.5 2324.2,1308.2 2327.5,1312.5 2330.4,1317.3 2333.0,1322.5 2335.1,1328.1 2336.9,1334.0 2338.1,1340.1 2338.8,1346.4 2339.1,1352.7" fill="url(#treerim)"/>
<polygon points="2338.7,1359.0 2337.8,1365.2 2336.4,1371.3 2334.4,1377.0 2331.8,1382.5 2328.6,1387.5 2325.0,1392.0 2320.9,1396.1 2316.3,1399.5 2311.4,1402.3 2306.2,1404.5 2300.8,1405.9 2295.3,1406.7 2289.7,1406.8 2284.1,1406.1 2278.7,1404.8 2273.4,1402.8 2268.5,1400.1 2263.9,1396.9 2259.8,1393.0 2256.2,1388.7 2253.1,1383.9 2250.7,1378.7 2248.8,1373.2 2247.6,1367.4 2247.1,1361.4 2247.2,1355.3 2247.9,1349.1 2249.3,1343.0 2251.1,1336.9 2253.6,1331.1 2256.4,1325.5 2259.7,1320.2 2263.4,1315.2 2267.4,1310.7 2271.6,1306.7 2276.0,1303.3 2280.6,1300.4 2285.3,1298.2 2290.0,1296.6 2294.7,1295.7 2299.3,1295.4 2303.9,1295.9 2308.3,1297.0 2312.6,1298.9 2316.7,1301.4 2320.6,1304.5 2324.2,1308.2 2327.5,1312.5 2330.4,1317.3 2333.0,1322.5 2335.1,1328.1 2336.9,1334.0 2338.1,1340.1 2338.8,1346.4 2339.1,1352.7" fill="url(#treebot)"/>
<line x1="1974.0" y1="1483.0" x2="1969.0" y2="1554.5" stroke="#596b1f" stroke-width="6.50" stroke-linecap="butt"/>
<polygon points="2027.7,1419.3 2027.4,1427.4 2026.4,1435.2 2024.7,1442.8 2022.2,1450.1 2018.9,1456.9 2014.9,1463.2 2010.3,1468.9 2005.1,1473.9 1999.3,1478.1 1993.0,1481.6 1986.4,1484.2 1979.5,1486.0 1972.4,1486.9 1965.2,1486.8 1958.2,1485.9 1951.3,1484.1 1944.7,1481.4 1938.4,1478.0 1932.7,1473.7 1927.5,1468.7 1923.0,1463.0 1919.1,1456.8 1916.0,1450.0 1913.7,1442.8 1912.2,1435.3 1911.5,1427.5 1911.5,1419.6 1912.3,1411.7 1913.9,1403.7 1916.1,1396.0 1918.9,1388.4 1922.4,1381.2 1926.3,1374.5 1930.7,1368.2 1935.5,1362.5 1940.6,1357.5 1945.9,1353.2 1951.5,1349.7 1957.2,1347.0 1963.1,1345.2 1968.9,1344.2 1974.8,1344.2 1980.5,1345.0 1986.2,1346.7 1991.7,1349.3 1997.1,1352.7 2002.1,1357.0 2006.9,1361.9 2011.3,1367.6 2015.2,1373.8 2018.8,1380.6 2021.8,1387.9 2024.2,1395.4 2026.0,1403.3 2027.2,1411.3" fill="url(#tree)"/>
<polygon points="2027.7,1419.3 2027.4,1427.4 2026.4,1435.2 2024.7,1442.8 2022.2,1450.1 2018.9,1456.9 2014.9,1463.2 2010.3,1468.9 2005.1,1473.9 1999.3,1478.1 1993.0,1481.6 1986.4,1484.2 1979.5,1486.0 1972.4,1486.9 1965.2,1486.8 1958.2,1485.9 1951.3,1484.1 1944.7,1481.4 1938.4,1478.0 1932.7,1473.7 1927.5,1468.7 1923.0,1463.0 1919.1,1456.8 1916.0,1450.0 1913.7,1442.8 1912.2,1435.3 1911.5,1427.5 1911.5,1419.6 1912.3,1411.7 1913.9,1403.7 1916.1,1396.0 1918.9,1388.4 1922.4,1381.2 1926.3,1374.5 1930.7,1368.2 1935.5,1362.5 1940.6,1357.5 1945.9,1353.2 1951.5,1349.7 1957.2,1347.0 1963.1,1345.2 1968.9,1344.2 1974.8,1344.2 1980.5,1345.0 1986.2,1346.7 1991.7,1349.3 1997.1,1352.7 2002.1,1357.0 2006.9,1361.9 2011.3,1367.6 2015.2,1373.8 2018.8,1380.6 2021.8,1387.9 2024.2,1395.4 2026.0,1403.3 2027.2,1411.3" fill="url(#treerim)"/>
<polygon points="2027.7,1419.3 2027.4,1427.4 2026.4,1435.2 2024.7,1442.8 2022.2,1450.1 2018.9,1456.9 2014.9,1463.2 2010.3,1468.9 2005.1,1473.9 1999.3,1478.1 1993.0,1481.6 1986.4,1484.2 1979.5,1486.0 1972.4,1486.9 1965.2,1486.8 1958.2,1485.9 1951.3,1484.1 1944.7,1481.4 1938.4,1478.0 1932.7,1473.7 1927.5,1468.7 1923.0,1463.0 1919.1,1456.8 1916.0,1450.0 1913.7,1442.8 1912.2,1435.3 1911.5,1427.5 1911.5,1419.6 1912.3,1411.7 1913.9,1403.7 1916.1,1396.0 1918.9,1388.4 1922.4,1381.2 1926.3,1374.5 1930.7,1368.2 1935.5,1362.5 1940.6,1357.5 1945.9,1353.2 1951.5,1349.7 1957.2,1347.0 1963.1,1345.2 1968.9,1344.2 1974.8,1344.2 1980.5,1345.0 1986.2,1346.7 1991.7,1349.3 1997.1,1352.7 2002.1,1357.0 2006.9,1361.9 2011.3,1367.6 2015.2,1373.8 2018.8,1380.6 2021.8,1387.9 2024.2,1395.4 2026.0,1403.3 2027.2,1411.3" fill="url(#treebot)"/>
<line x1="1865.0" y1="1543.0" x2="1860.0" y2="1588.0" stroke="#596b1f" stroke-width="6.50" stroke-linecap="butt"/>
<polygon points="1924.2,1497.0 1923.7,1503.2 1922.7,1509.3 1921.0,1515.2 1918.8,1520.8 1916.0,1526.0 1912.7,1530.8 1908.9,1535.1 1904.6,1538.9 1899.9,1542.0 1894.9,1544.5 1889.6,1546.3 1884.1,1547.5 1878.5,1547.9 1872.9,1547.7 1867.4,1546.7 1862.0,1545.1 1856.9,1542.8 1852.1,1539.8 1847.8,1536.3 1843.9,1532.2 1840.5,1527.6 1837.7,1522.6 1835.5,1517.2 1833.9,1511.5 1832.9,1505.6 1832.6,1499.4 1832.9,1493.3 1833.8,1487.0 1835.3,1480.9 1837.3,1474.9 1839.8,1469.1 1842.7,1463.6 1846.0,1458.4 1849.7,1453.7 1853.6,1449.4 1857.8,1445.6 1862.2,1442.5 1866.7,1439.9 1871.2,1438.0 1875.9,1436.7 1880.5,1436.2 1885.1,1436.3 1889.6,1437.2 1894.0,1438.7 1898.3,1440.9 1902.3,1443.8 1906.2,1447.3 1909.7,1451.3 1913.0,1455.9 1915.9,1460.9 1918.5,1466.4 1920.6,1472.1 1922.3,1478.1 1923.4,1484.3 1924.1,1490.6" fill="url(#tree)"/>
<polygon points="1924.2,1497.0 1923.7,1503.2 1922.7,1509.3 1921.0,1515.2 1918.8,1520.8 1916.0,1526.0 1912.7,1530.8 1908.9,1535.1 1904.6,1538.9 1899.9,1542.0 1894.9,1544.5 1889.6,1546.3 1884.1,1547.5 1878.5,1547.9 1872.9,1547.7 1867.4,1546.7 1862.0,1545.1 1856.9,1542.8 1852.1,1539.8 1847.8,1536.3 1843.9,1532.2 1840.5,1527.6 1837.7,1522.6 1835.5,1517.2 1833.9,1511.5 1832.9,1505.6 1832.6,1499.4 1832.9,1493.3 1833.8,1487.0 1835.3,1480.9 1837.3,1474.9 1839.8,1469.1 1842.7,1463.6 1846.0,1458.4 1849.7,1453.7 1853.6,1449.4 1857.8,1445.6 1862.2,1442.5 1866.7,1439.9 1871.2,1438.0 1875.9,1436.7 1880.5,1436.2 1885.1,1436.3 1889.6,1437.2 1894.0,1438.7 1898.3,1440.9 1902.3,1443.8 1906.2,1447.3 1909.7,1451.3 1913.0,1455.9 1915.9,1460.9 1918.5,1466.4 1920.6,1472.1 1922.3,1478.1 1923.4,1484.3 1924.1,1490.6" fill="url(#treerim)"/>
<polygon points="1924.2,1497.0 1923.7,1503.2 1922.7,1509.3 1921.0,1515.2 1918.8,1520.8 1916.0,1526.0 1912.7,1530.8 1908.9,1535.1 1904.6,1538.9 1899.9,1542.0 1894.9,1544.5 1889.6,1546.3 1884.1,1547.5 1878.5,1547.9 1872.9,1547.7 1867.4,1546.7 1862.0,1545.1 1856.9,1542.8 1852.1,1539.8 1847.8,1536.3 1843.9,1532.2 1840.5,1527.6 1837.7,1522.6 1835.5,1517.2 1833.9,1511.5 1832.9,1505.6 1832.6,1499.4 1832.9,1493.3 1833.8,1487.0 1835.3,1480.9 1837.3,1474.9 1839.8,1469.1 1842.7,1463.6 1846.0,1458.4 1849.7,1453.7 1853.6,1449.4 1857.8,1445.6 1862.2,1442.5 1866.7,1439.9 1871.2,1438.0 1875.9,1436.7 1880.5,1436.2 1885.1,1436.3 1889.6,1437.2 1894.0,1438.7 1898.3,1440.9 1902.3,1443.8 1906.2,1447.3 1909.7,1451.3 1913.0,1455.9 1915.9,1460.9 1918.5,1466.4 1920.6,1472.1 1922.3,1478.1 1923.4,1484.3 1924.1,1490.6" fill="url(#treebot)"/>
<line x1="1757.5" y1="1566.5" x2="1765.0" y2="1625.5" stroke="#596b1f" stroke-width="6.50" stroke-linecap="butt"/>
<polygon points="1816.3,1493.3 1817.6,1501.1 1818.1,1509.0 1817.7,1516.7 1816.6,1524.3 1814.6,1531.6 1811.8,1538.4 1808.2,1544.9 1803.8,1550.7 1798.8,1556.0 1793.1,1560.6 1786.9,1564.4 1780.3,1567.4 1773.3,1569.6 1766.1,1571.0 1758.8,1571.4 1751.6,1571.0 1744.4,1569.6 1737.4,1567.4 1730.9,1564.3 1724.7,1560.4 1719.1,1555.8 1714.0,1550.4 1709.6,1544.4 1705.9,1537.9 1703.0,1530.8 1700.8,1523.4 1699.3,1515.6 1698.7,1507.7 1698.7,1499.7 1699.5,1491.7 1700.9,1483.8 1703.0,1476.1 1705.7,1468.8 1709.0,1461.8 1712.7,1455.4 1716.9,1449.5 1721.5,1444.3 1726.5,1439.9 1731.7,1436.1 1737.3,1433.2 1743.0,1431.2 1748.9,1430.0 1754.8,1429.7 1760.9,1430.3 1766.9,1431.8 1772.9,1434.2 1778.8,1437.3 1784.6,1441.3 1790.1,1445.9 1795.3,1451.3 1800.1,1457.2 1804.5,1463.7 1808.4,1470.6 1811.7,1477.9 1814.4,1485.5" fill="url(#tree)"/>
<polygon points="1816.3,1493.3 1817.6,1501.1 1818.1,1509.0 1817.7,1516.7 1816.6,1524.3 1814.6,1531.6 1811.8,1538.4 1808.2,1544.9 1803.8,1550.7 1798.8,1556.0 1793.1,1560.6 1786.9,1564.4 1780.3,1567.4 1773.3,1569.6 1766.1,1571.0 1758.8,1571.4 1751.6,1571.0 1744.4,1569.6 1737.4,1567.4 1730.9,1564.3 1724.7,1560.4 1719.1,1555.8 1714.0,1550.4 1709.6,1544.4 1705.9,1537.9 1703.0,1530.8 1700.8,1523.4 1699.3,1515.6 1698.7,1507.7 1698.7,1499.7 1699.5,1491.7 1700.9,1483.8 1703.0,1476.1 1705.7,1468.8 1709.0,1461.8 1712.7,1455.4 1716.9,1449.5 1721.5,1444.3 1726.5,1439.9 1731.7,1436.1 1737.3,1433.2 1743.0,1431.2 1748.9,1430.0 1754.8,1429.7 1760.9,1430.3 1766.9,1431.8 1772.9,1434.2 1778.8,1437.3 1784.6,1441.3 1790.1,1445.9 1795.3,1451.3 1800.1,1457.2 1804.5,1463.7 1808.4,1470.6 1811.7,1477.9 1814.4,1485.5" fill="url(#treerim)"/>
<polygon points="1816.3,1493.3 1817.6,1501.1 1818.1,1509.0 1817.7,1516.7 1816.6,1524.3 1814.6,1531.6 1811.8,1538.4 1808.2,1544.9 1803.8,1550.7 1798.8,1556.0 1793.1,1560.6 1786.9,1564.4 1780.3,1567.4 1773.3,1569.6 1766.1,1571.0 1758.8,1571.4 1751.6,1571.0 1744.4,1569.6 1737.4,1567.4 1730.9,1564.3 1724.7,1560.4 1719.1,1555.8 1714.0,1550.4 1709.6,1544.4 1705.9,1537.9 1703.0,1530.8 1700.8,1523.4 1699.3,1515.6 1698.7,1507.7 1698.7,1499.7 1699.5,1491.7 1700.9,1483.8 1703.0,1476.1 1705.7,1468.8 1709.0,1461.8 1712.7,1455.4 1716.9,1449.5 1721.5,1444.3 1726.5,1439.9 1731.7,1436.1 1737.3,1433.2 1743.0,1431.2 1748.9,1430.0 1754.8,1429.7 1760.9,1430.3 1766.9,1431.8 1772.9,1434.2 1778.8,1437.3 1784.6,1441.3 1790.1,1445.9 1795.3,1451.3 1800.1,1457.2 1804.5,1463.7 1808.4,1470.6 1811.7,1477.9 1814.4,1485.5" fill="url(#treebot)"/>
<line x1="1671.0" y1="1596.5" x2="1672.5" y2="1657.0" stroke="#596b1f" stroke-width="6.50" stroke-linecap="butt"/>
<polygon points="1721.8,1530.6 1722.3,1538.4 1722.0,1546.2 1720.9,1553.8 1719.0,1561.1 1716.4,1568.0 1713.0,1574.5 1708.8,1580.4 1704.0,1585.8 1698.6,1590.5 1692.6,1594.4 1686.1,1597.5 1679.4,1599.9 1672.3,1601.4 1665.2,1602.0 1658.0,1601.7 1650.9,1600.6 1644.0,1598.6 1637.4,1595.7 1631.3,1592.1 1625.6,1587.6 1620.6,1582.5 1616.1,1576.8 1612.4,1570.5 1609.4,1563.7 1607.2,1556.5 1605.8,1549.0 1605.1,1541.2 1605.2,1533.4 1606.0,1525.5 1607.6,1517.8 1609.8,1510.2 1612.5,1502.8 1615.9,1495.9 1619.7,1489.4 1624.0,1483.4 1628.7,1478.1 1633.7,1473.4 1639.0,1469.5 1644.5,1466.4 1650.2,1464.1 1656.0,1462.6 1661.8,1462.0 1667.7,1462.3 1673.6,1463.5 1679.4,1465.5 1685.0,1468.4 1690.5,1472.1 1695.7,1476.5 1700.6,1481.6 1705.2,1487.3 1709.3,1493.7 1713.0,1500.4 1716.1,1507.6 1718.7,1515.1 1720.6,1522.8" fill="url(#tree)"/>
<polygon points="1721.8,1530.6 1722.3,1538.4 1722.0,1546.2 1720.9,1553.8 1719.0,1561.1 1716.4,1568.0 1713.0,1574.5 1708.8,1580.4 1704.0,1585.8 1698.6,1590.5 1692.6,1594.4 1686.1,1597.5 1679.4,1599.9 1672.3,1601.4 1665.2,1602.0 1658.0,1601.7 1650.9,1600.6 1644.0,1598.6 1637.4,1595.7 1631.3,1592.1 1625.6,1587.6 1620.6,1582.5 1616.1,1576.8 1612.4,1570.5 1609.4,1563.7 1607.2,1556.5 1605.8,1549.0 1605.1,1541.2 1605.2,1533.4 1606.0,1525.5 1607.6,1517.8 1609.8,1510.2 1612.5,1502.8 1615.9,1495.9 1619.7,1489.4 1624.0,1483.4 1628.7,1478.1 1633.7,1473.4 1639.0,1469.5 1644.5,1466.4 1650.2,1464.1 1656.0,1462.6 1661.8,1462.0 1667.7,1462.3 1673.6,1463.5 1679.4,1465.5 1685.0,1468.4 1690.5,1472.1 1695.7,1476.5 1700.6,1481.6 1705.2,1487.3 1709.3,1493.7 1713.0,1500.4 1716.1,1507.6 1718.7,1515.1 1720.6,1522.8" fill="url(#treerim)"/>
<polygon points="1721.8,1530.6 1722.3,1538.4 1722.0,1546.2 1720.9,1553.8 1719.0,1561.1 1716.4,1568.0 1713.0,1574.5 1708.8,1580.4 1704.0,1585.8 1698.6,1590.5 1692.6,1594.4 1686.1,1597.5 1679.4,1599.9 1672.3,1601.4 1665.2,1602.0 1658.0,1601.7 1650.9,1600.6 1644.0,1598.6 1637.4,1595.7 1631.3,1592.1 1625.6,1587.6 1620.6,1582.5 1616.1,1576.8 1612.4,1570.5 1609.4,1563.7 1607.2,1556.5 1605.8,1549.0 1605.1,1541.2 1605.2,1533.4 1606.0,1525.5 1607.6,1517.8 1609.8,1510.2 1612.5,1502.8 1615.9,1495.9 1619.7,1489.4 1624.0,1483.4 1628.7,1478.1 1633.7,1473.4 1639.0,1469.5 1644.5,1466.4 1650.2,1464.1 1656.0,1462.6 1661.8,1462.0 1667.7,1462.3 1673.6,1463.5 1679.4,1465.5 1685.0,1468.4 1690.5,1472.1 1695.7,1476.5 1700.6,1481.6 1705.2,1487.3 1709.3,1493.7 1713.0,1500.4 1716.1,1507.6 1718.7,1515.1 1720.6,1522.8" fill="url(#treebot)"/>
<path d="M2358.5,942.5 C2355.8,948.9 2348.6,966.1 2342.6,980.9 C2336.6,995.7 2328.5,1014.6 2322.4,1031.4 C2316.3,1048.2 2312.3,1067.1 2306.0,1081.8 C2299.7,1096.5 2292.4,1108.8 2284.6,1119.7 C2276.8,1130.6 2265.0,1141.3 2259.3,1147.4 C2253.6,1153.5 2252.0,1154.8 2250.5,1156.3" fill="none" stroke="#e6c467" stroke-width="1.6" stroke-linecap="round"/>
<polygon points="2390.0,895.0 2384.5,931.0 2358.5,942.5 2356.0,919.0" fill="url(#gKite)" />
<line x1="2390.0" y1="895.0" x2="2358.5" y2="942.5" stroke="#e3c866" stroke-width="0.80" opacity="0.7"/>
<polygon points="1926.2,428.4 2211.8,428.4 2211.8,510.4 1950.1,510.4 1899.7,531.9 1926.2,498.3" fill="#000" stroke="#fff" stroke-width="17" stroke-linejoin="miter" stroke-miterlimit="10" paint-order="stroke"/>
<polygon points="1926.2,428.4 2211.8,428.4 2211.8,510.4 1950.1,510.4 1899.7,531.9 1926.2,498.3" fill="#000"/>
<text x="1951.4" y="484.4" font-size="38" textLength="234.4" lengthAdjust="spacingAndGlyphs" stroke="#fff" stroke-width="0.9">PROMENADE</text>
<polygon points="1968.8,594.7 2226.4,594.7 2226.4,676.2 1994.0,676.2 1942.6,697.6 1968.8,664.8" fill="#000" stroke="#fff" stroke-width="17" stroke-linejoin="miter" stroke-miterlimit="10" paint-order="stroke"/>
<polygon points="1968.8,594.7 2226.4,594.7 2226.4,676.2 1994.0,676.2 1942.6,697.6 1968.8,664.8" fill="#000"/>
<text x="1992.3" y="650.9" font-size="38" textLength="204.3" lengthAdjust="spacingAndGlyphs" stroke="#fff" stroke-width="0.9">AMENITIES</text>
<polygon points="2191.2,795.6 2596.8,795.6 2596.8,884.7 2202.9,884.7 2176.4,900.3 2191.2,868.8" fill="#000" stroke="#fff" stroke-width="17" stroke-linejoin="miter" stroke-miterlimit="10" paint-order="stroke"/>
<polygon points="2191.2,795.6 2596.8,795.6 2596.8,884.7 2202.9,884.7 2176.4,900.3 2191.2,868.8" fill="#000"/>
<text x="2217.6" y="852.1" font-size="38" textLength="342.2" lengthAdjust="spacingAndGlyphs" stroke="#fff" stroke-width="0.9">FURMAN ST. + BQX</text>
<polygon points="2640.8,966.3 2764.4,966.3 2764.4,1048.9 2653.3,1048.9 2625.5,1067.9 2640.8,1035.9" fill="#000" stroke="#fff" stroke-width="17" stroke-linejoin="miter" stroke-miterlimit="10" paint-order="stroke"/>
<polygon points="2640.8,966.3 2764.4,966.3 2764.4,1048.9 2653.3,1048.9 2625.5,1067.9 2640.8,1035.9" fill="#000"/>
<text x="2667.2" y="1022.0" font-size="38" textLength="71.0" lengthAdjust="spacingAndGlyphs" stroke="#fff" stroke-width="0.9">BBP</text>
<polygon points="244.4,860.2 599.6,860.2 599.6,927.0 625.6,963.1 575.6,942.7 244.4,942.7" fill="#000" stroke="#fff" stroke-width="17" stroke-linejoin="miter" stroke-miterlimit="10" paint-order="stroke"/>
<polygon points="244.4,860.2 599.6,860.2 599.6,927.0 625.6,963.1 575.6,942.7 244.4,942.7" fill="#000"/>
<text x="271.1" y="916.4" font-size="38" textLength="295.2" lengthAdjust="spacingAndGlyphs" stroke="#fff" stroke-width="0.9">ELEVATED PARK</text>
<polygon points="692.8,1548.2 952.6,1548.2 1004.4,1527.5 978.6,1560.8 978.6,1630.2 692.8,1630.2" fill="#000" stroke="#fff" stroke-width="17" stroke-linejoin="miter" stroke-miterlimit="10" paint-order="stroke"/>
<polygon points="692.8,1548.2 952.6,1548.2 1004.4,1527.5 978.6,1560.8 978.6,1630.2 692.8,1630.2" fill="#000"/>
<text x="719.3" y="1604.5" font-size="38" textLength="227.5" lengthAdjust="spacingAndGlyphs" stroke="#fff" stroke-width="0.9">CAPPED BQE</text></svg></body></html>
